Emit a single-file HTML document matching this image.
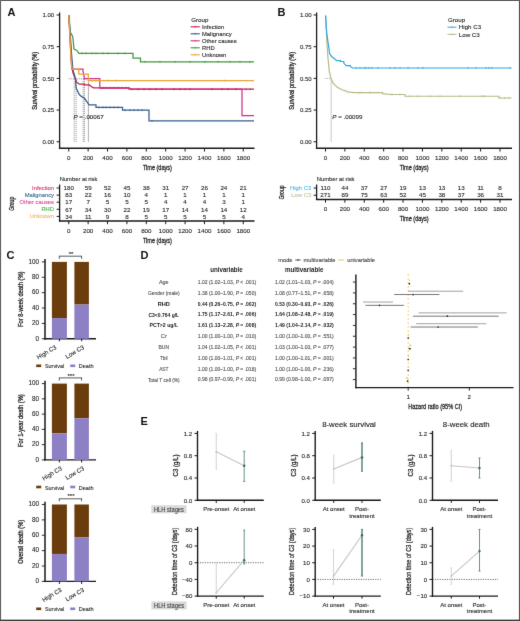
<!DOCTYPE html>
<html><head><meta charset="utf-8"><title>Figure</title>
<style>html,body{margin:0;padding:0;background:#fff;}body{width:520px;height:621px;overflow:hidden;font-family:"Liberation Sans", sans-serif;}svg{display:block;will-change:transform;}text{font-family:"Liberation Sans", sans-serif;}</style>
</head><body>
<svg width="520" height="621" viewBox="0 0 520 621" font-family='"Liberation Sans", sans-serif'>
<defs><filter id="soft" x="0" y="0" width="520" height="621" filterUnits="userSpaceOnUse" color-interpolation-filters="sRGB"><feConvolveMatrix order="3" kernelMatrix="0.00524 0.06192 0.00524 0.06192 0.73137 0.06192 0.00524 0.06192 0.00524" edgeMode="duplicate"/></filter></defs><g>
<text x="7.50" y="15.76" font-size="11" fill="#111" font-weight="bold">A</text>
<line x1="59.60" y1="12.50" x2="59.60" y2="148.90" stroke="#1a1a1a" stroke-width="1.3"/>
<line x1="58.95" y1="148.25" x2="254.50" y2="148.25" stroke="#1a1a1a" stroke-width="1.3"/>
<line x1="56.60" y1="15.00" x2="59.60" y2="15.00" stroke="#1a1a1a" stroke-width="1"/>
<text x="54.20" y="17.16" font-size="6" fill="#2a2a2a" stroke="#2a2a2a" stroke-width="0.12" text-anchor="end">1.00</text>
<line x1="56.60" y1="46.69" x2="59.60" y2="46.69" stroke="#1a1a1a" stroke-width="1"/>
<text x="54.20" y="48.85" font-size="6" fill="#2a2a2a" stroke="#2a2a2a" stroke-width="0.12" text-anchor="end">0.75</text>
<line x1="56.60" y1="78.38" x2="59.60" y2="78.38" stroke="#1a1a1a" stroke-width="1"/>
<text x="54.20" y="80.53" font-size="6" fill="#2a2a2a" stroke="#2a2a2a" stroke-width="0.12" text-anchor="end">0.50</text>
<line x1="56.60" y1="110.06" x2="59.60" y2="110.06" stroke="#1a1a1a" stroke-width="1"/>
<text x="54.20" y="112.22" font-size="6" fill="#2a2a2a" stroke="#2a2a2a" stroke-width="0.12" text-anchor="end">0.25</text>
<line x1="56.60" y1="141.75" x2="59.60" y2="141.75" stroke="#1a1a1a" stroke-width="1"/>
<text x="54.20" y="143.91" font-size="6" fill="#2a2a2a" stroke="#2a2a2a" stroke-width="0.12" text-anchor="end">0.00</text>
<line x1="68.75" y1="148.25" x2="68.75" y2="151.50" stroke="#1a1a1a" stroke-width="1"/>
<text x="68.75" y="159.83" font-size="6.2" fill="#2a2a2a" stroke="#2a2a2a" stroke-width="0.12" text-anchor="middle">0</text>
<line x1="88.14" y1="148.25" x2="88.14" y2="151.50" stroke="#1a1a1a" stroke-width="1"/>
<text x="88.14" y="159.83" font-size="6.2" fill="#2a2a2a" stroke="#2a2a2a" stroke-width="0.12" text-anchor="middle">200</text>
<line x1="107.53" y1="148.25" x2="107.53" y2="151.50" stroke="#1a1a1a" stroke-width="1"/>
<text x="107.53" y="159.83" font-size="6.2" fill="#2a2a2a" stroke="#2a2a2a" stroke-width="0.12" text-anchor="middle">400</text>
<line x1="126.92" y1="148.25" x2="126.92" y2="151.50" stroke="#1a1a1a" stroke-width="1"/>
<text x="126.92" y="159.83" font-size="6.2" fill="#2a2a2a" stroke="#2a2a2a" stroke-width="0.12" text-anchor="middle">600</text>
<line x1="146.31" y1="148.25" x2="146.31" y2="151.50" stroke="#1a1a1a" stroke-width="1"/>
<text x="146.31" y="159.83" font-size="6.2" fill="#2a2a2a" stroke="#2a2a2a" stroke-width="0.12" text-anchor="middle">800</text>
<line x1="165.70" y1="148.25" x2="165.70" y2="151.50" stroke="#1a1a1a" stroke-width="1"/>
<text x="165.70" y="159.83" font-size="6.2" fill="#2a2a2a" stroke="#2a2a2a" stroke-width="0.12" text-anchor="middle">1000</text>
<line x1="185.09" y1="148.25" x2="185.09" y2="151.50" stroke="#1a1a1a" stroke-width="1"/>
<text x="185.09" y="159.83" font-size="6.2" fill="#2a2a2a" stroke="#2a2a2a" stroke-width="0.12" text-anchor="middle">1200</text>
<line x1="204.48" y1="148.25" x2="204.48" y2="151.50" stroke="#1a1a1a" stroke-width="1"/>
<text x="204.48" y="159.83" font-size="6.2" fill="#2a2a2a" stroke="#2a2a2a" stroke-width="0.12" text-anchor="middle">1400</text>
<line x1="223.87" y1="148.25" x2="223.87" y2="151.50" stroke="#1a1a1a" stroke-width="1"/>
<text x="223.87" y="159.83" font-size="6.2" fill="#2a2a2a" stroke="#2a2a2a" stroke-width="0.12" text-anchor="middle">1600</text>
<line x1="243.26" y1="148.25" x2="243.26" y2="151.50" stroke="#1a1a1a" stroke-width="1"/>
<text x="243.26" y="159.83" font-size="6.2" fill="#2a2a2a" stroke="#2a2a2a" stroke-width="0.12" text-anchor="middle">1800</text>
<text x="157.40" y="170.39" font-size="7.2" fill="#2a2a2a" stroke="#2a2a2a" stroke-width="0.3" text-anchor="middle" textLength="29" lengthAdjust="spacingAndGlyphs">Time (days)</text>
<text transform="translate(34.50,80.80) rotate(-90)" x="0" y="2.38" font-size="6.6" fill="#2a2a2a" stroke="#2a2a2a" stroke-width="0.3" text-anchor="middle" textLength="58" lengthAdjust="spacingAndGlyphs">Survival probability (%)</text>
<text x="191.20" y="21.53" font-size="6.2" fill="#2a2a2a" stroke="#2a2a2a" stroke-width="0.12">Group</text>
<line x1="190.60" y1="26.80" x2="199.80" y2="26.80" stroke="#C62048" stroke-width="1.1"/>
<line x1="195.20" y1="25.80" x2="195.20" y2="27.80" stroke="#C62048" stroke-width="0.6"/>
<text x="202.00" y="28.91" font-size="5.85" fill="#2a2a2a" stroke="#2a2a2a" stroke-width="0.12">Infection</text>
<line x1="190.60" y1="33.80" x2="199.80" y2="33.80" stroke="#365F8E" stroke-width="1.1"/>
<line x1="195.20" y1="32.80" x2="195.20" y2="34.80" stroke="#365F8E" stroke-width="0.6"/>
<text x="202.00" y="35.91" font-size="5.85" fill="#2a2a2a" stroke="#2a2a2a" stroke-width="0.12">Malignancy</text>
<line x1="190.60" y1="40.80" x2="199.80" y2="40.80" stroke="#CF3288" stroke-width="1.1"/>
<line x1="195.20" y1="39.80" x2="195.20" y2="41.80" stroke="#CF3288" stroke-width="0.6"/>
<text x="202.00" y="42.91" font-size="5.85" fill="#2a2a2a" stroke="#2a2a2a" stroke-width="0.12">Other causes</text>
<line x1="190.60" y1="47.80" x2="199.80" y2="47.80" stroke="#3F9A40" stroke-width="1.1"/>
<line x1="195.20" y1="46.80" x2="195.20" y2="48.80" stroke="#3F9A40" stroke-width="0.6"/>
<text x="202.00" y="49.91" font-size="5.85" fill="#2a2a2a" stroke="#2a2a2a" stroke-width="0.12">RHD</text>
<line x1="190.60" y1="54.80" x2="199.80" y2="54.80" stroke="#E8A53A" stroke-width="1.1"/>
<line x1="195.20" y1="53.80" x2="195.20" y2="55.80" stroke="#E8A53A" stroke-width="0.6"/>
<text x="202.00" y="56.91" font-size="5.85" fill="#2a2a2a" stroke="#2a2a2a" stroke-width="0.12">Unknown</text>
<line x1="68.75" y1="78.80" x2="88.40" y2="78.80" stroke="#444" stroke-width="0.6" stroke-dasharray="1,1"/>
<line x1="74.20" y1="78.80" x2="74.20" y2="141.75" stroke="#444" stroke-width="0.6" stroke-dasharray="1,1"/>
<line x1="76.10" y1="78.80" x2="76.10" y2="141.75" stroke="#444" stroke-width="0.6" stroke-dasharray="1,1"/>
<line x1="83.20" y1="78.80" x2="83.20" y2="141.75" stroke="#444" stroke-width="0.6" stroke-dasharray="1,1"/>
<line x1="84.40" y1="78.80" x2="84.40" y2="141.75" stroke="#444" stroke-width="0.6" stroke-dasharray="1,1"/>
<line x1="88.40" y1="78.80" x2="88.40" y2="141.75" stroke="#777" stroke-width="0.6"/>
<text x="73.50" y="119.23" font-size="6.2" fill="#2a2a2a" stroke="#2a2a2a" stroke-width="0.12"><tspan font-style="italic">P</tspan> = .00067</text>
<polyline points="68.75,15.00 69.60,28.00 70.30,40.00 70.90,52.00 71.60,62.00 72.20,68.50 72.90,72.60 74.50,77.00 76.70,82.20 79.30,84.20 84.50,84.20 84.50,84.80 89.60,84.80 89.60,85.50 93.50,87.90 129.20,87.90 129.20,89.20 254.00,89.20 254.00,89.20" fill="none" stroke="#C62048" stroke-width="1.25" stroke-linejoin="miter"/>
<polyline points="68.75,15.00 69.80,28.00 70.60,40.00 71.40,52.00 72.20,62.00 72.90,70.00 75.50,78.40 76.10,88.00 79.30,94.50 81.30,96.40 84.50,98.30 87.70,102.90 89.00,104.80 96.00,104.80 96.00,107.40 122.50,107.40 122.50,110.00 149.00,110.00 149.00,120.90 254.00,120.90 254.00,120.90" fill="none" stroke="#365F8E" stroke-width="1.25" stroke-linejoin="miter"/>
<polyline points="68.75,15.00 69.50,28.00 70.20,42.00 70.90,55.00 71.70,69.20 83.00,69.20 83.00,71.20 84.50,78.60 99.80,78.60 99.80,88.00 129.20,88.00 129.20,89.10 242.00,89.10 242.00,115.50 254.00,115.50 254.00,115.50" fill="none" stroke="#CF3288" stroke-width="1.25" stroke-linejoin="miter"/>
<polyline points="68.75,15.00 69.50,22.00 70.00,32.00 71.50,34.00 72.80,37.00 73.50,44.00 74.00,49.00 76.80,50.40 78.80,53.30 133.00,53.30 133.00,58.00 140.50,58.00 140.50,61.90 254.00,61.90 254.00,61.90" fill="none" stroke="#3F9A40" stroke-width="1.25" stroke-linejoin="miter"/>
<polyline points="68.75,15.00 69.30,25.00 69.90,38.00 70.60,52.00 71.30,62.00 72.00,69.20 78.80,69.20 78.80,74.00 88.30,74.00 88.30,80.60 254.00,80.60 254.00,80.60" fill="none" stroke="#E8A53A" stroke-width="1.25" stroke-linejoin="miter"/>
<line x1="82.00" y1="52.20" x2="82.00" y2="54.40" stroke="#3F9A40" stroke-width="0.7"/>
<line x1="86.00" y1="52.20" x2="86.00" y2="54.40" stroke="#3F9A40" stroke-width="0.7"/>
<line x1="92.00" y1="52.20" x2="92.00" y2="54.40" stroke="#3F9A40" stroke-width="0.7"/>
<line x1="96.00" y1="52.20" x2="96.00" y2="54.40" stroke="#3F9A40" stroke-width="0.7"/>
<line x1="103.00" y1="52.20" x2="103.00" y2="54.40" stroke="#3F9A40" stroke-width="0.7"/>
<line x1="108.00" y1="52.20" x2="108.00" y2="54.40" stroke="#3F9A40" stroke-width="0.7"/>
<line x1="118.00" y1="52.20" x2="118.00" y2="54.40" stroke="#3F9A40" stroke-width="0.7"/>
<line x1="125.00" y1="52.20" x2="125.00" y2="54.40" stroke="#3F9A40" stroke-width="0.7"/>
<line x1="145.00" y1="60.80" x2="145.00" y2="63.00" stroke="#3F9A40" stroke-width="0.7"/>
<line x1="160.00" y1="60.80" x2="160.00" y2="63.00" stroke="#3F9A40" stroke-width="0.7"/>
<line x1="175.00" y1="60.80" x2="175.00" y2="63.00" stroke="#3F9A40" stroke-width="0.7"/>
<line x1="190.00" y1="60.80" x2="190.00" y2="63.00" stroke="#3F9A40" stroke-width="0.7"/>
<line x1="205.00" y1="60.80" x2="205.00" y2="63.00" stroke="#3F9A40" stroke-width="0.7"/>
<line x1="218.00" y1="60.80" x2="218.00" y2="63.00" stroke="#3F9A40" stroke-width="0.7"/>
<line x1="230.00" y1="60.80" x2="230.00" y2="63.00" stroke="#3F9A40" stroke-width="0.7"/>
<line x1="240.00" y1="60.80" x2="240.00" y2="63.00" stroke="#3F9A40" stroke-width="0.7"/>
<line x1="250.00" y1="60.80" x2="250.00" y2="63.00" stroke="#3F9A40" stroke-width="0.7"/>
<line x1="92.00" y1="79.50" x2="92.00" y2="81.70" stroke="#E8A53A" stroke-width="0.7"/>
<line x1="96.00" y1="79.50" x2="96.00" y2="81.70" stroke="#E8A53A" stroke-width="0.7"/>
<line x1="100.00" y1="79.50" x2="100.00" y2="81.70" stroke="#E8A53A" stroke-width="0.7"/>
<line x1="108.00" y1="79.50" x2="108.00" y2="81.70" stroke="#E8A53A" stroke-width="0.7"/>
<line x1="116.00" y1="79.50" x2="116.00" y2="81.70" stroke="#E8A53A" stroke-width="0.7"/>
<line x1="225.00" y1="79.50" x2="225.00" y2="81.70" stroke="#E8A53A" stroke-width="0.7"/>
<line x1="103.00" y1="86.80" x2="103.00" y2="89.00" stroke="#C62048" stroke-width="0.7"/>
<line x1="106.00" y1="86.80" x2="106.00" y2="89.00" stroke="#C62048" stroke-width="0.7"/>
<line x1="110.00" y1="86.80" x2="110.00" y2="89.00" stroke="#C62048" stroke-width="0.7"/>
<line x1="114.00" y1="86.80" x2="114.00" y2="89.00" stroke="#C62048" stroke-width="0.7"/>
<line x1="118.00" y1="86.80" x2="118.00" y2="89.00" stroke="#C62048" stroke-width="0.7"/>
<line x1="122.00" y1="86.80" x2="122.00" y2="89.00" stroke="#C62048" stroke-width="0.7"/>
<line x1="126.00" y1="86.80" x2="126.00" y2="89.00" stroke="#C62048" stroke-width="0.7"/>
<line x1="132.00" y1="88.10" x2="132.00" y2="90.30" stroke="#C62048" stroke-width="0.7"/>
<line x1="138.00" y1="88.10" x2="138.00" y2="90.30" stroke="#C62048" stroke-width="0.7"/>
<line x1="144.00" y1="88.10" x2="144.00" y2="90.30" stroke="#C62048" stroke-width="0.7"/>
<line x1="150.00" y1="88.10" x2="150.00" y2="90.30" stroke="#C62048" stroke-width="0.7"/>
<line x1="156.00" y1="88.10" x2="156.00" y2="90.30" stroke="#C62048" stroke-width="0.7"/>
<line x1="162.00" y1="88.10" x2="162.00" y2="90.30" stroke="#C62048" stroke-width="0.7"/>
<line x1="174.00" y1="88.10" x2="174.00" y2="90.30" stroke="#C62048" stroke-width="0.7"/>
<line x1="180.00" y1="88.10" x2="180.00" y2="90.30" stroke="#C62048" stroke-width="0.7"/>
<line x1="185.00" y1="88.10" x2="185.00" y2="90.30" stroke="#C62048" stroke-width="0.7"/>
<line x1="190.00" y1="88.10" x2="190.00" y2="90.30" stroke="#C62048" stroke-width="0.7"/>
<line x1="212.00" y1="88.10" x2="212.00" y2="90.30" stroke="#C62048" stroke-width="0.7"/>
<line x1="222.00" y1="88.10" x2="222.00" y2="90.30" stroke="#C62048" stroke-width="0.7"/>
<line x1="228.00" y1="88.10" x2="228.00" y2="90.30" stroke="#C62048" stroke-width="0.7"/>
<line x1="236.00" y1="88.10" x2="236.00" y2="90.30" stroke="#C62048" stroke-width="0.7"/>
<line x1="246.00" y1="88.10" x2="246.00" y2="90.30" stroke="#C62048" stroke-width="0.7"/>
<line x1="250.00" y1="88.10" x2="250.00" y2="90.30" stroke="#C62048" stroke-width="0.7"/>
<line x1="102.00" y1="86.90" x2="102.00" y2="89.10" stroke="#CF3288" stroke-width="0.7"/>
<line x1="112.00" y1="86.90" x2="112.00" y2="89.10" stroke="#CF3288" stroke-width="0.7"/>
<line x1="99.00" y1="106.30" x2="99.00" y2="108.50" stroke="#365F8E" stroke-width="0.7"/>
<line x1="103.00" y1="106.30" x2="103.00" y2="108.50" stroke="#365F8E" stroke-width="0.7"/>
<line x1="106.00" y1="106.30" x2="106.00" y2="108.50" stroke="#365F8E" stroke-width="0.7"/>
<line x1="110.00" y1="106.30" x2="110.00" y2="108.50" stroke="#365F8E" stroke-width="0.7"/>
<line x1="114.00" y1="106.30" x2="114.00" y2="108.50" stroke="#365F8E" stroke-width="0.7"/>
<line x1="118.00" y1="106.30" x2="118.00" y2="108.50" stroke="#365F8E" stroke-width="0.7"/>
<line x1="125.00" y1="108.90" x2="125.00" y2="111.10" stroke="#365F8E" stroke-width="0.7"/>
<line x1="130.00" y1="108.90" x2="130.00" y2="111.10" stroke="#365F8E" stroke-width="0.7"/>
<line x1="134.00" y1="108.90" x2="134.00" y2="111.10" stroke="#365F8E" stroke-width="0.7"/>
<line x1="138.00" y1="108.90" x2="138.00" y2="111.10" stroke="#365F8E" stroke-width="0.7"/>
<line x1="142.00" y1="108.90" x2="142.00" y2="111.10" stroke="#365F8E" stroke-width="0.7"/>
<line x1="152.00" y1="119.80" x2="152.00" y2="122.00" stroke="#365F8E" stroke-width="0.7"/>
<text x="59.70" y="180.73" font-size="6.2" fill="#2a2a2a" stroke="#2a2a2a" stroke-width="0.12" textLength="37.7" lengthAdjust="spacingAndGlyphs">Number at risk</text>
<line x1="59.60" y1="184.50" x2="59.60" y2="221.60" stroke="#1a1a1a" stroke-width="1.3"/>
<line x1="58.95" y1="221.00" x2="254.50" y2="221.00" stroke="#1a1a1a" stroke-width="1.3"/>
<text x="54.00" y="190.09" font-size="5.8" fill="#D43D65" stroke="#D43D65" stroke-width="0.12" text-anchor="end">Infection</text>
<line x1="56.60" y1="188.00" x2="59.60" y2="188.00" stroke="#1a1a1a" stroke-width="1"/>
<text x="68.75" y="190.23" font-size="6.2" fill="#2a2a2a" stroke="#2a2a2a" stroke-width="0.12" text-anchor="middle">180</text>
<text x="88.14" y="190.23" font-size="6.2" fill="#2a2a2a" stroke="#2a2a2a" stroke-width="0.12" text-anchor="middle">59</text>
<text x="107.53" y="190.23" font-size="6.2" fill="#2a2a2a" stroke="#2a2a2a" stroke-width="0.12" text-anchor="middle">52</text>
<text x="126.92" y="190.23" font-size="6.2" fill="#2a2a2a" stroke="#2a2a2a" stroke-width="0.12" text-anchor="middle">45</text>
<text x="146.31" y="190.23" font-size="6.2" fill="#2a2a2a" stroke="#2a2a2a" stroke-width="0.12" text-anchor="middle">38</text>
<text x="165.70" y="190.23" font-size="6.2" fill="#2a2a2a" stroke="#2a2a2a" stroke-width="0.12" text-anchor="middle">31</text>
<text x="185.09" y="190.23" font-size="6.2" fill="#2a2a2a" stroke="#2a2a2a" stroke-width="0.12" text-anchor="middle">27</text>
<text x="204.48" y="190.23" font-size="6.2" fill="#2a2a2a" stroke="#2a2a2a" stroke-width="0.12" text-anchor="middle">26</text>
<text x="223.87" y="190.23" font-size="6.2" fill="#2a2a2a" stroke="#2a2a2a" stroke-width="0.12" text-anchor="middle">24</text>
<text x="243.26" y="190.23" font-size="6.2" fill="#2a2a2a" stroke="#2a2a2a" stroke-width="0.12" text-anchor="middle">21</text>
<text x="54.00" y="197.19" font-size="5.8" fill="#3F6D92" stroke="#3F6D92" stroke-width="0.12" text-anchor="end">Malignancy</text>
<line x1="56.60" y1="195.10" x2="59.60" y2="195.10" stroke="#1a1a1a" stroke-width="1"/>
<text x="68.75" y="197.33" font-size="6.2" fill="#2a2a2a" stroke="#2a2a2a" stroke-width="0.12" text-anchor="middle">83</text>
<text x="88.14" y="197.33" font-size="6.2" fill="#2a2a2a" stroke="#2a2a2a" stroke-width="0.12" text-anchor="middle">22</text>
<text x="107.53" y="197.33" font-size="6.2" fill="#2a2a2a" stroke="#2a2a2a" stroke-width="0.12" text-anchor="middle">16</text>
<text x="126.92" y="197.33" font-size="6.2" fill="#2a2a2a" stroke="#2a2a2a" stroke-width="0.12" text-anchor="middle">10</text>
<text x="146.31" y="197.33" font-size="6.2" fill="#2a2a2a" stroke="#2a2a2a" stroke-width="0.12" text-anchor="middle">4</text>
<text x="165.70" y="197.33" font-size="6.2" fill="#2a2a2a" stroke="#2a2a2a" stroke-width="0.12" text-anchor="middle">1</text>
<text x="185.09" y="197.33" font-size="6.2" fill="#2a2a2a" stroke="#2a2a2a" stroke-width="0.12" text-anchor="middle">1</text>
<text x="204.48" y="197.33" font-size="6.2" fill="#2a2a2a" stroke="#2a2a2a" stroke-width="0.12" text-anchor="middle">1</text>
<text x="223.87" y="197.33" font-size="6.2" fill="#2a2a2a" stroke="#2a2a2a" stroke-width="0.12" text-anchor="middle">1</text>
<text x="243.26" y="197.33" font-size="6.2" fill="#2a2a2a" stroke="#2a2a2a" stroke-width="0.12" text-anchor="middle">1</text>
<text x="54.00" y="204.29" font-size="5.8" fill="#DC4C9C" stroke="#DC4C9C" stroke-width="0.12" text-anchor="end">Other causes</text>
<line x1="56.60" y1="202.20" x2="59.60" y2="202.20" stroke="#1a1a1a" stroke-width="1"/>
<text x="68.75" y="204.43" font-size="6.2" fill="#2a2a2a" stroke="#2a2a2a" stroke-width="0.12" text-anchor="middle">17</text>
<text x="88.14" y="204.43" font-size="6.2" fill="#2a2a2a" stroke="#2a2a2a" stroke-width="0.12" text-anchor="middle">7</text>
<text x="107.53" y="204.43" font-size="6.2" fill="#2a2a2a" stroke="#2a2a2a" stroke-width="0.12" text-anchor="middle">5</text>
<text x="126.92" y="204.43" font-size="6.2" fill="#2a2a2a" stroke="#2a2a2a" stroke-width="0.12" text-anchor="middle">5</text>
<text x="146.31" y="204.43" font-size="6.2" fill="#2a2a2a" stroke="#2a2a2a" stroke-width="0.12" text-anchor="middle">5</text>
<text x="165.70" y="204.43" font-size="6.2" fill="#2a2a2a" stroke="#2a2a2a" stroke-width="0.12" text-anchor="middle">4</text>
<text x="185.09" y="204.43" font-size="6.2" fill="#2a2a2a" stroke="#2a2a2a" stroke-width="0.12" text-anchor="middle">4</text>
<text x="204.48" y="204.43" font-size="6.2" fill="#2a2a2a" stroke="#2a2a2a" stroke-width="0.12" text-anchor="middle">4</text>
<text x="223.87" y="204.43" font-size="6.2" fill="#2a2a2a" stroke="#2a2a2a" stroke-width="0.12" text-anchor="middle">3</text>
<text x="243.26" y="204.43" font-size="6.2" fill="#2a2a2a" stroke="#2a2a2a" stroke-width="0.12" text-anchor="middle">1</text>
<text x="54.00" y="211.39" font-size="5.8" fill="#55B055" stroke="#55B055" stroke-width="0.12" text-anchor="end">RHD</text>
<line x1="56.60" y1="209.30" x2="59.60" y2="209.30" stroke="#1a1a1a" stroke-width="1"/>
<text x="68.75" y="211.53" font-size="6.2" fill="#2a2a2a" stroke="#2a2a2a" stroke-width="0.12" text-anchor="middle">67</text>
<text x="88.14" y="211.53" font-size="6.2" fill="#2a2a2a" stroke="#2a2a2a" stroke-width="0.12" text-anchor="middle">34</text>
<text x="107.53" y="211.53" font-size="6.2" fill="#2a2a2a" stroke="#2a2a2a" stroke-width="0.12" text-anchor="middle">30</text>
<text x="126.92" y="211.53" font-size="6.2" fill="#2a2a2a" stroke="#2a2a2a" stroke-width="0.12" text-anchor="middle">22</text>
<text x="146.31" y="211.53" font-size="6.2" fill="#2a2a2a" stroke="#2a2a2a" stroke-width="0.12" text-anchor="middle">19</text>
<text x="165.70" y="211.53" font-size="6.2" fill="#2a2a2a" stroke="#2a2a2a" stroke-width="0.12" text-anchor="middle">17</text>
<text x="185.09" y="211.53" font-size="6.2" fill="#2a2a2a" stroke="#2a2a2a" stroke-width="0.12" text-anchor="middle">14</text>
<text x="204.48" y="211.53" font-size="6.2" fill="#2a2a2a" stroke="#2a2a2a" stroke-width="0.12" text-anchor="middle">14</text>
<text x="223.87" y="211.53" font-size="6.2" fill="#2a2a2a" stroke="#2a2a2a" stroke-width="0.12" text-anchor="middle">14</text>
<text x="243.26" y="211.53" font-size="6.2" fill="#2a2a2a" stroke="#2a2a2a" stroke-width="0.12" text-anchor="middle">12</text>
<text x="54.00" y="218.49" font-size="5.8" fill="#EDB865" stroke="#EDB865" stroke-width="0.12" text-anchor="end">Unknown</text>
<line x1="56.60" y1="216.40" x2="59.60" y2="216.40" stroke="#1a1a1a" stroke-width="1"/>
<text x="68.75" y="218.63" font-size="6.2" fill="#2a2a2a" stroke="#2a2a2a" stroke-width="0.12" text-anchor="middle">34</text>
<text x="88.14" y="218.63" font-size="6.2" fill="#2a2a2a" stroke="#2a2a2a" stroke-width="0.12" text-anchor="middle">11</text>
<text x="107.53" y="218.63" font-size="6.2" fill="#2a2a2a" stroke="#2a2a2a" stroke-width="0.12" text-anchor="middle">9</text>
<text x="126.92" y="218.63" font-size="6.2" fill="#2a2a2a" stroke="#2a2a2a" stroke-width="0.12" text-anchor="middle">8</text>
<text x="146.31" y="218.63" font-size="6.2" fill="#2a2a2a" stroke="#2a2a2a" stroke-width="0.12" text-anchor="middle">5</text>
<text x="165.70" y="218.63" font-size="6.2" fill="#2a2a2a" stroke="#2a2a2a" stroke-width="0.12" text-anchor="middle">5</text>
<text x="185.09" y="218.63" font-size="6.2" fill="#2a2a2a" stroke="#2a2a2a" stroke-width="0.12" text-anchor="middle">5</text>
<text x="204.48" y="218.63" font-size="6.2" fill="#2a2a2a" stroke="#2a2a2a" stroke-width="0.12" text-anchor="middle">5</text>
<text x="223.87" y="218.63" font-size="6.2" fill="#2a2a2a" stroke="#2a2a2a" stroke-width="0.12" text-anchor="middle">5</text>
<text x="243.26" y="218.63" font-size="6.2" fill="#2a2a2a" stroke="#2a2a2a" stroke-width="0.12" text-anchor="middle">4</text>
<line x1="68.75" y1="221.00" x2="68.75" y2="224.20" stroke="#1a1a1a" stroke-width="1"/>
<text x="68.75" y="232.83" font-size="6.2" fill="#2a2a2a" stroke="#2a2a2a" stroke-width="0.12" text-anchor="middle">0</text>
<line x1="88.14" y1="221.00" x2="88.14" y2="224.20" stroke="#1a1a1a" stroke-width="1"/>
<text x="88.14" y="232.83" font-size="6.2" fill="#2a2a2a" stroke="#2a2a2a" stroke-width="0.12" text-anchor="middle">200</text>
<line x1="107.53" y1="221.00" x2="107.53" y2="224.20" stroke="#1a1a1a" stroke-width="1"/>
<text x="107.53" y="232.83" font-size="6.2" fill="#2a2a2a" stroke="#2a2a2a" stroke-width="0.12" text-anchor="middle">400</text>
<line x1="126.92" y1="221.00" x2="126.92" y2="224.20" stroke="#1a1a1a" stroke-width="1"/>
<text x="126.92" y="232.83" font-size="6.2" fill="#2a2a2a" stroke="#2a2a2a" stroke-width="0.12" text-anchor="middle">600</text>
<line x1="146.31" y1="221.00" x2="146.31" y2="224.20" stroke="#1a1a1a" stroke-width="1"/>
<text x="146.31" y="232.83" font-size="6.2" fill="#2a2a2a" stroke="#2a2a2a" stroke-width="0.12" text-anchor="middle">800</text>
<line x1="165.70" y1="221.00" x2="165.70" y2="224.20" stroke="#1a1a1a" stroke-width="1"/>
<text x="165.70" y="232.83" font-size="6.2" fill="#2a2a2a" stroke="#2a2a2a" stroke-width="0.12" text-anchor="middle">1000</text>
<line x1="185.09" y1="221.00" x2="185.09" y2="224.20" stroke="#1a1a1a" stroke-width="1"/>
<text x="185.09" y="232.83" font-size="6.2" fill="#2a2a2a" stroke="#2a2a2a" stroke-width="0.12" text-anchor="middle">1200</text>
<line x1="204.48" y1="221.00" x2="204.48" y2="224.20" stroke="#1a1a1a" stroke-width="1"/>
<text x="204.48" y="232.83" font-size="6.2" fill="#2a2a2a" stroke="#2a2a2a" stroke-width="0.12" text-anchor="middle">1400</text>
<line x1="223.87" y1="221.00" x2="223.87" y2="224.20" stroke="#1a1a1a" stroke-width="1"/>
<text x="223.87" y="232.83" font-size="6.2" fill="#2a2a2a" stroke="#2a2a2a" stroke-width="0.12" text-anchor="middle">1600</text>
<line x1="243.26" y1="221.00" x2="243.26" y2="224.20" stroke="#1a1a1a" stroke-width="1"/>
<text x="243.26" y="232.83" font-size="6.2" fill="#2a2a2a" stroke="#2a2a2a" stroke-width="0.12" text-anchor="middle">1800</text>
<text x="157.40" y="242.89" font-size="7.2" fill="#2a2a2a" stroke="#2a2a2a" stroke-width="0.3" text-anchor="middle" textLength="29" lengthAdjust="spacingAndGlyphs">Time (days)</text>
<text transform="translate(11.50,203.80) rotate(-90)" x="0" y="2.59" font-size="7.2" fill="#2a2a2a" stroke="#2a2a2a" stroke-width="0.3" text-anchor="middle" textLength="14" lengthAdjust="spacingAndGlyphs">Group</text>
<text x="277.50" y="15.76" font-size="11" fill="#111" font-weight="bold">B</text>
<line x1="316.60" y1="12.50" x2="316.60" y2="148.90" stroke="#1a1a1a" stroke-width="1.3"/>
<line x1="315.95" y1="148.25" x2="512.00" y2="148.25" stroke="#1a1a1a" stroke-width="1.3"/>
<line x1="313.60" y1="15.00" x2="316.60" y2="15.00" stroke="#1a1a1a" stroke-width="1"/>
<text x="311.60" y="17.16" font-size="6" fill="#2a2a2a" stroke="#2a2a2a" stroke-width="0.12" text-anchor="end">1.00</text>
<line x1="313.60" y1="46.69" x2="316.60" y2="46.69" stroke="#1a1a1a" stroke-width="1"/>
<text x="311.60" y="48.85" font-size="6" fill="#2a2a2a" stroke="#2a2a2a" stroke-width="0.12" text-anchor="end">0.75</text>
<line x1="313.60" y1="78.38" x2="316.60" y2="78.38" stroke="#1a1a1a" stroke-width="1"/>
<text x="311.60" y="80.53" font-size="6" fill="#2a2a2a" stroke="#2a2a2a" stroke-width="0.12" text-anchor="end">0.50</text>
<line x1="313.60" y1="110.06" x2="316.60" y2="110.06" stroke="#1a1a1a" stroke-width="1"/>
<text x="311.60" y="112.22" font-size="6" fill="#2a2a2a" stroke="#2a2a2a" stroke-width="0.12" text-anchor="end">0.25</text>
<line x1="313.60" y1="141.75" x2="316.60" y2="141.75" stroke="#1a1a1a" stroke-width="1"/>
<text x="311.60" y="143.91" font-size="6" fill="#2a2a2a" stroke="#2a2a2a" stroke-width="0.12" text-anchor="end">0.00</text>
<line x1="325.50" y1="148.25" x2="325.50" y2="151.50" stroke="#1a1a1a" stroke-width="1"/>
<text x="325.50" y="159.83" font-size="6.2" fill="#2a2a2a" stroke="#2a2a2a" stroke-width="0.12" text-anchor="middle">0</text>
<line x1="344.89" y1="148.25" x2="344.89" y2="151.50" stroke="#1a1a1a" stroke-width="1"/>
<text x="344.89" y="159.83" font-size="6.2" fill="#2a2a2a" stroke="#2a2a2a" stroke-width="0.12" text-anchor="middle">200</text>
<line x1="364.28" y1="148.25" x2="364.28" y2="151.50" stroke="#1a1a1a" stroke-width="1"/>
<text x="364.28" y="159.83" font-size="6.2" fill="#2a2a2a" stroke="#2a2a2a" stroke-width="0.12" text-anchor="middle">400</text>
<line x1="383.67" y1="148.25" x2="383.67" y2="151.50" stroke="#1a1a1a" stroke-width="1"/>
<text x="383.67" y="159.83" font-size="6.2" fill="#2a2a2a" stroke="#2a2a2a" stroke-width="0.12" text-anchor="middle">600</text>
<line x1="403.06" y1="148.25" x2="403.06" y2="151.50" stroke="#1a1a1a" stroke-width="1"/>
<text x="403.06" y="159.83" font-size="6.2" fill="#2a2a2a" stroke="#2a2a2a" stroke-width="0.12" text-anchor="middle">800</text>
<line x1="422.45" y1="148.25" x2="422.45" y2="151.50" stroke="#1a1a1a" stroke-width="1"/>
<text x="422.45" y="159.83" font-size="6.2" fill="#2a2a2a" stroke="#2a2a2a" stroke-width="0.12" text-anchor="middle">1000</text>
<line x1="441.84" y1="148.25" x2="441.84" y2="151.50" stroke="#1a1a1a" stroke-width="1"/>
<text x="441.84" y="159.83" font-size="6.2" fill="#2a2a2a" stroke="#2a2a2a" stroke-width="0.12" text-anchor="middle">1200</text>
<line x1="461.23" y1="148.25" x2="461.23" y2="151.50" stroke="#1a1a1a" stroke-width="1"/>
<text x="461.23" y="159.83" font-size="6.2" fill="#2a2a2a" stroke="#2a2a2a" stroke-width="0.12" text-anchor="middle">1400</text>
<line x1="480.62" y1="148.25" x2="480.62" y2="151.50" stroke="#1a1a1a" stroke-width="1"/>
<text x="480.62" y="159.83" font-size="6.2" fill="#2a2a2a" stroke="#2a2a2a" stroke-width="0.12" text-anchor="middle">1600</text>
<line x1="500.01" y1="148.25" x2="500.01" y2="151.50" stroke="#1a1a1a" stroke-width="1"/>
<text x="500.01" y="159.83" font-size="6.2" fill="#2a2a2a" stroke="#2a2a2a" stroke-width="0.12" text-anchor="middle">1800</text>
<text x="414.20" y="170.39" font-size="7.2" fill="#2a2a2a" stroke="#2a2a2a" stroke-width="0.3" text-anchor="middle" textLength="29" lengthAdjust="spacingAndGlyphs">Time (days)</text>
<text transform="translate(291.30,80.80) rotate(-90)" x="0" y="2.38" font-size="6.6" fill="#2a2a2a" stroke="#2a2a2a" stroke-width="0.3" text-anchor="middle" textLength="58" lengthAdjust="spacingAndGlyphs">Survival probability (%)</text>
<text x="448.00" y="21.83" font-size="6.2" fill="#2a2a2a" stroke="#2a2a2a" stroke-width="0.12">Group</text>
<line x1="447.50" y1="27.20" x2="456.50" y2="27.20" stroke="#2BA8DF" stroke-width="1"/>
<line x1="452.00" y1="26.20" x2="452.00" y2="28.20" stroke="#2BA8DF" stroke-width="0.6"/>
<text x="458.80" y="29.43" font-size="6.2" fill="#2a2a2a" stroke="#2a2a2a" stroke-width="0.12">High C3</text>
<line x1="447.50" y1="34.30" x2="456.50" y2="34.30" stroke="#B8B885" stroke-width="1"/>
<line x1="452.00" y1="33.30" x2="452.00" y2="35.30" stroke="#B8B885" stroke-width="0.6"/>
<text x="458.80" y="36.53" font-size="6.2" fill="#2a2a2a" stroke="#2a2a2a" stroke-width="0.12">Low C3</text>
<line x1="325.20" y1="78.40" x2="331.20" y2="78.40" stroke="#667" stroke-width="0.6" stroke-dasharray="1,1"/>
<line x1="331.20" y1="78.40" x2="331.20" y2="141.75" stroke="#444" stroke-width="0.6" stroke-dasharray="1,1"/>
<text x="332.30" y="119.03" font-size="6.2" fill="#2a2a2a" stroke="#2a2a2a" stroke-width="0.12"><tspan font-style="italic">P</tspan> = .00099</text>
<polyline points="325.60,15.50 326.20,28.00 326.90,42.20 328.00,58.30 329.30,71.20 330.90,78.40 333.30,83.30 337.30,87.30 342.20,89.70 348.60,92.10 355.00,92.60 382.50,92.60 382.50,93.60 390.00,94.50 405.00,94.50 405.00,96.25 498.75,96.25 498.75,96.25 498.75,98.00 511.50,98.00 511.50,98.00" fill="none" stroke="#B8B885" stroke-width="1.2" stroke-linejoin="miter"/>
<polyline points="325.60,15.50 326.20,26.00 326.90,34.20 328.00,42.20 329.00,48.60 329.60,53.50 331.70,56.70 334.10,58.30 336.50,60.70 340.50,60.70 340.50,61.50 343.80,61.50 343.80,63.10 346.20,65.60 350.20,65.60 350.20,66.40 352.60,68.00 511.50,68.00 511.50,68.00" fill="none" stroke="#2BA8DF" stroke-width="1.2" stroke-linejoin="miter"/>
<line x1="356.00" y1="66.90" x2="356.00" y2="69.10" stroke="#2BA8DF" stroke-width="0.7"/>
<line x1="360.00" y1="66.90" x2="360.00" y2="69.10" stroke="#2BA8DF" stroke-width="0.7"/>
<line x1="364.00" y1="66.90" x2="364.00" y2="69.10" stroke="#2BA8DF" stroke-width="0.7"/>
<line x1="366.00" y1="66.90" x2="366.00" y2="69.10" stroke="#2BA8DF" stroke-width="0.7"/>
<line x1="369.00" y1="66.90" x2="369.00" y2="69.10" stroke="#2BA8DF" stroke-width="0.7"/>
<line x1="372.00" y1="66.90" x2="372.00" y2="69.10" stroke="#2BA8DF" stroke-width="0.7"/>
<line x1="378.00" y1="66.90" x2="378.00" y2="69.10" stroke="#2BA8DF" stroke-width="0.7"/>
<line x1="390.00" y1="66.90" x2="390.00" y2="69.10" stroke="#2BA8DF" stroke-width="0.7"/>
<line x1="395.00" y1="66.90" x2="395.00" y2="69.10" stroke="#2BA8DF" stroke-width="0.7"/>
<line x1="400.00" y1="66.90" x2="400.00" y2="69.10" stroke="#2BA8DF" stroke-width="0.7"/>
<line x1="408.00" y1="66.90" x2="408.00" y2="69.10" stroke="#2BA8DF" stroke-width="0.7"/>
<line x1="418.00" y1="66.90" x2="418.00" y2="69.10" stroke="#2BA8DF" stroke-width="0.7"/>
<line x1="423.00" y1="66.90" x2="423.00" y2="69.10" stroke="#2BA8DF" stroke-width="0.7"/>
<line x1="468.00" y1="66.90" x2="468.00" y2="69.10" stroke="#2BA8DF" stroke-width="0.7"/>
<line x1="476.00" y1="66.90" x2="476.00" y2="69.10" stroke="#2BA8DF" stroke-width="0.7"/>
<line x1="486.00" y1="66.90" x2="486.00" y2="69.10" stroke="#2BA8DF" stroke-width="0.7"/>
<line x1="489.00" y1="66.90" x2="489.00" y2="69.10" stroke="#2BA8DF" stroke-width="0.7"/>
<line x1="492.00" y1="66.90" x2="492.00" y2="69.10" stroke="#2BA8DF" stroke-width="0.7"/>
<line x1="510.00" y1="66.90" x2="510.00" y2="69.10" stroke="#2BA8DF" stroke-width="0.7"/>
<line x1="360.00" y1="91.50" x2="360.00" y2="93.70" stroke="#B8B885" stroke-width="0.7"/>
<line x1="370.00" y1="91.50" x2="370.00" y2="93.70" stroke="#B8B885" stroke-width="0.7"/>
<line x1="392.00" y1="93.40" x2="392.00" y2="95.60" stroke="#B8B885" stroke-width="0.7"/>
<line x1="400.00" y1="93.40" x2="400.00" y2="95.60" stroke="#B8B885" stroke-width="0.7"/>
<line x1="410.00" y1="95.15" x2="410.00" y2="97.35" stroke="#B8B885" stroke-width="0.7"/>
<line x1="418.00" y1="95.15" x2="418.00" y2="97.35" stroke="#B8B885" stroke-width="0.7"/>
<line x1="430.00" y1="95.15" x2="430.00" y2="97.35" stroke="#B8B885" stroke-width="0.7"/>
<line x1="440.00" y1="95.15" x2="440.00" y2="97.35" stroke="#B8B885" stroke-width="0.7"/>
<line x1="460.00" y1="95.15" x2="460.00" y2="97.35" stroke="#B8B885" stroke-width="0.7"/>
<line x1="482.00" y1="95.15" x2="482.00" y2="97.35" stroke="#B8B885" stroke-width="0.7"/>
<line x1="484.00" y1="95.15" x2="484.00" y2="97.35" stroke="#B8B885" stroke-width="0.7"/>
<line x1="500.00" y1="96.90" x2="500.00" y2="99.10" stroke="#B8B885" stroke-width="0.7"/>
<line x1="505.00" y1="96.90" x2="505.00" y2="99.10" stroke="#B8B885" stroke-width="0.7"/>
<line x1="509.00" y1="96.90" x2="509.00" y2="99.10" stroke="#B8B885" stroke-width="0.7"/>
<text x="316.80" y="181.03" font-size="6.2" fill="#2a2a2a" stroke="#2a2a2a" stroke-width="0.12" textLength="37.7" lengthAdjust="spacingAndGlyphs">Number at risk</text>
<line x1="316.60" y1="184.50" x2="316.60" y2="200.00" stroke="#1a1a1a" stroke-width="1.3"/>
<line x1="315.95" y1="199.50" x2="512.00" y2="199.50" stroke="#1a1a1a" stroke-width="1.3"/>
<text x="311.30" y="190.12" font-size="5.9" fill="#55BBE6" stroke="#55BBE6" stroke-width="0.12" text-anchor="end">High C3</text>
<line x1="313.60" y1="188.00" x2="316.60" y2="188.00" stroke="#1a1a1a" stroke-width="1"/>
<text x="325.50" y="190.23" font-size="6.2" fill="#2a2a2a" stroke="#2a2a2a" stroke-width="0.12" text-anchor="middle">110</text>
<text x="344.89" y="190.23" font-size="6.2" fill="#2a2a2a" stroke="#2a2a2a" stroke-width="0.12" text-anchor="middle">44</text>
<text x="364.28" y="190.23" font-size="6.2" fill="#2a2a2a" stroke="#2a2a2a" stroke-width="0.12" text-anchor="middle">37</text>
<text x="383.67" y="190.23" font-size="6.2" fill="#2a2a2a" stroke="#2a2a2a" stroke-width="0.12" text-anchor="middle">27</text>
<text x="403.06" y="190.23" font-size="6.2" fill="#2a2a2a" stroke="#2a2a2a" stroke-width="0.12" text-anchor="middle">19</text>
<text x="422.45" y="190.23" font-size="6.2" fill="#2a2a2a" stroke="#2a2a2a" stroke-width="0.12" text-anchor="middle">13</text>
<text x="441.84" y="190.23" font-size="6.2" fill="#2a2a2a" stroke="#2a2a2a" stroke-width="0.12" text-anchor="middle">13</text>
<text x="461.23" y="190.23" font-size="6.2" fill="#2a2a2a" stroke="#2a2a2a" stroke-width="0.12" text-anchor="middle">13</text>
<text x="480.62" y="190.23" font-size="6.2" fill="#2a2a2a" stroke="#2a2a2a" stroke-width="0.12" text-anchor="middle">11</text>
<text x="500.01" y="190.23" font-size="6.2" fill="#2a2a2a" stroke="#2a2a2a" stroke-width="0.12" text-anchor="middle">8</text>
<text x="311.30" y="197.37" font-size="5.9" fill="#C6C6A2" stroke="#C6C6A2" stroke-width="0.12" text-anchor="end">Low C3</text>
<line x1="313.60" y1="195.25" x2="316.60" y2="195.25" stroke="#1a1a1a" stroke-width="1"/>
<text x="325.50" y="197.48" font-size="6.2" fill="#2a2a2a" stroke="#2a2a2a" stroke-width="0.12" text-anchor="middle">271</text>
<text x="344.89" y="197.48" font-size="6.2" fill="#2a2a2a" stroke="#2a2a2a" stroke-width="0.12" text-anchor="middle">89</text>
<text x="364.28" y="197.48" font-size="6.2" fill="#2a2a2a" stroke="#2a2a2a" stroke-width="0.12" text-anchor="middle">75</text>
<text x="383.67" y="197.48" font-size="6.2" fill="#2a2a2a" stroke="#2a2a2a" stroke-width="0.12" text-anchor="middle">63</text>
<text x="403.06" y="197.48" font-size="6.2" fill="#2a2a2a" stroke="#2a2a2a" stroke-width="0.12" text-anchor="middle">52</text>
<text x="422.45" y="197.48" font-size="6.2" fill="#2a2a2a" stroke="#2a2a2a" stroke-width="0.12" text-anchor="middle">45</text>
<text x="441.84" y="197.48" font-size="6.2" fill="#2a2a2a" stroke="#2a2a2a" stroke-width="0.12" text-anchor="middle">38</text>
<text x="461.23" y="197.48" font-size="6.2" fill="#2a2a2a" stroke="#2a2a2a" stroke-width="0.12" text-anchor="middle">37</text>
<text x="480.62" y="197.48" font-size="6.2" fill="#2a2a2a" stroke="#2a2a2a" stroke-width="0.12" text-anchor="middle">36</text>
<text x="500.01" y="197.48" font-size="6.2" fill="#2a2a2a" stroke="#2a2a2a" stroke-width="0.12" text-anchor="middle">31</text>
<line x1="325.50" y1="199.50" x2="325.50" y2="202.70" stroke="#1a1a1a" stroke-width="1"/>
<text x="325.50" y="211.13" font-size="6.2" fill="#2a2a2a" stroke="#2a2a2a" stroke-width="0.12" text-anchor="middle">0</text>
<line x1="344.89" y1="199.50" x2="344.89" y2="202.70" stroke="#1a1a1a" stroke-width="1"/>
<text x="344.89" y="211.13" font-size="6.2" fill="#2a2a2a" stroke="#2a2a2a" stroke-width="0.12" text-anchor="middle">200</text>
<line x1="364.28" y1="199.50" x2="364.28" y2="202.70" stroke="#1a1a1a" stroke-width="1"/>
<text x="364.28" y="211.13" font-size="6.2" fill="#2a2a2a" stroke="#2a2a2a" stroke-width="0.12" text-anchor="middle">400</text>
<line x1="383.67" y1="199.50" x2="383.67" y2="202.70" stroke="#1a1a1a" stroke-width="1"/>
<text x="383.67" y="211.13" font-size="6.2" fill="#2a2a2a" stroke="#2a2a2a" stroke-width="0.12" text-anchor="middle">600</text>
<line x1="403.06" y1="199.50" x2="403.06" y2="202.70" stroke="#1a1a1a" stroke-width="1"/>
<text x="403.06" y="211.13" font-size="6.2" fill="#2a2a2a" stroke="#2a2a2a" stroke-width="0.12" text-anchor="middle">800</text>
<line x1="422.45" y1="199.50" x2="422.45" y2="202.70" stroke="#1a1a1a" stroke-width="1"/>
<text x="422.45" y="211.13" font-size="6.2" fill="#2a2a2a" stroke="#2a2a2a" stroke-width="0.12" text-anchor="middle">1000</text>
<line x1="441.84" y1="199.50" x2="441.84" y2="202.70" stroke="#1a1a1a" stroke-width="1"/>
<text x="441.84" y="211.13" font-size="6.2" fill="#2a2a2a" stroke="#2a2a2a" stroke-width="0.12" text-anchor="middle">1200</text>
<line x1="461.23" y1="199.50" x2="461.23" y2="202.70" stroke="#1a1a1a" stroke-width="1"/>
<text x="461.23" y="211.13" font-size="6.2" fill="#2a2a2a" stroke="#2a2a2a" stroke-width="0.12" text-anchor="middle">1400</text>
<line x1="480.62" y1="199.50" x2="480.62" y2="202.70" stroke="#1a1a1a" stroke-width="1"/>
<text x="480.62" y="211.13" font-size="6.2" fill="#2a2a2a" stroke="#2a2a2a" stroke-width="0.12" text-anchor="middle">1600</text>
<line x1="500.01" y1="199.50" x2="500.01" y2="202.70" stroke="#1a1a1a" stroke-width="1"/>
<text x="500.01" y="211.13" font-size="6.2" fill="#2a2a2a" stroke="#2a2a2a" stroke-width="0.12" text-anchor="middle">1800</text>
<text x="414.20" y="221.09" font-size="7.2" fill="#2a2a2a" stroke="#2a2a2a" stroke-width="0.3" text-anchor="middle" textLength="29" lengthAdjust="spacingAndGlyphs">Time (days)</text>
<text transform="translate(281.00,192.50) rotate(-90)" x="0" y="2.59" font-size="7.2" fill="#2a2a2a" stroke="#2a2a2a" stroke-width="0.3" text-anchor="middle" textLength="14" lengthAdjust="spacingAndGlyphs">Group</text>
<text x="6.50" y="258.56" font-size="11" fill="#111" font-weight="bold">C</text>
<line x1="45.00" y1="259.10" x2="45.00" y2="339.50" stroke="#1a1a1a" stroke-width="1.5"/>
<line x1="44.25" y1="338.80" x2="96.00" y2="338.80" stroke="#1a1a1a" stroke-width="1.4"/>
<line x1="41.80" y1="338.80" x2="45.00" y2="338.80" stroke="#1a1a1a" stroke-width="0.9"/>
<text x="38.90" y="340.57" font-size="6.3" fill="#2a2a2a" stroke="#2a2a2a" stroke-width="0.12" text-anchor="end">0</text>
<line x1="41.80" y1="323.42" x2="45.00" y2="323.42" stroke="#1a1a1a" stroke-width="0.9"/>
<text x="38.90" y="325.19" font-size="6.3" fill="#2a2a2a" stroke="#2a2a2a" stroke-width="0.12" text-anchor="end">20</text>
<line x1="41.80" y1="308.04" x2="45.00" y2="308.04" stroke="#1a1a1a" stroke-width="0.9"/>
<text x="38.90" y="309.81" font-size="6.3" fill="#2a2a2a" stroke="#2a2a2a" stroke-width="0.12" text-anchor="end">40</text>
<line x1="41.80" y1="292.66" x2="45.00" y2="292.66" stroke="#1a1a1a" stroke-width="0.9"/>
<text x="38.90" y="294.43" font-size="6.3" fill="#2a2a2a" stroke="#2a2a2a" stroke-width="0.12" text-anchor="end">60</text>
<line x1="41.80" y1="277.28" x2="45.00" y2="277.28" stroke="#1a1a1a" stroke-width="0.9"/>
<text x="38.90" y="279.05" font-size="6.3" fill="#2a2a2a" stroke="#2a2a2a" stroke-width="0.12" text-anchor="end">80</text>
<line x1="41.80" y1="261.90" x2="45.00" y2="261.90" stroke="#1a1a1a" stroke-width="0.9"/>
<text x="38.90" y="263.67" font-size="6.3" fill="#2a2a2a" stroke="#2a2a2a" stroke-width="0.12" text-anchor="end">100</text>
<rect x="51.90" y="261.90" width="15.00" height="56.14" fill="#6B3D0C"/>
<rect x="51.90" y="318.04" width="15.00" height="20.76" fill="#8E80C4"/>
<line x1="59.40" y1="338.80" x2="59.40" y2="341.30" stroke="#1a1a1a" stroke-width="1"/>
<rect x="74.40" y="261.90" width="14.50" height="42.68" fill="#6B3D0C"/>
<rect x="74.40" y="304.58" width="14.50" height="34.22" fill="#8E80C4"/>
<line x1="81.65" y1="338.80" x2="81.65" y2="341.30" stroke="#1a1a1a" stroke-width="1"/>
<line x1="59.30" y1="256.20" x2="81.60" y2="256.20" stroke="#333" stroke-width="0.8"/>
<line x1="59.30" y1="255.80" x2="59.30" y2="258.80" stroke="#333" stroke-width="0.8"/>
<line x1="81.60" y1="255.80" x2="81.60" y2="258.80" stroke="#333" stroke-width="0.8"/>
<text x="71.00" y="255.86" font-size="6" fill="#2a2a2a" stroke="#2a2a2a" stroke-width="0.12" text-anchor="middle">**</text>
<text transform="translate(20.30,299.25) rotate(-90)" x="0" y="2.45" font-size="6.8" fill="#2a2a2a" stroke="#2a2a2a" stroke-width="0.3" text-anchor="middle" textLength="55.4" lengthAdjust="spacingAndGlyphs">For 8-week death (%)</text>
<text transform="translate(55.80,346.55) rotate(-31)" x="0" y="2.16" font-size="6.0" fill="#2a2a2a" stroke="#2a2a2a" stroke-width="0.12" text-anchor="end">High C3</text>
<text transform="translate(83.40,346.55) rotate(-31)" x="0" y="2.16" font-size="6.0" fill="#2a2a2a" stroke="#2a2a2a" stroke-width="0.12" text-anchor="end">Low C3</text>
<rect x="36.20" y="364.50" width="5.00" height="2.60" fill="#6B3D0C"/>
<text x="45.00" y="368.33" font-size="6.2" fill="#2a2a2a" stroke="#2a2a2a" stroke-width="0.12" textLength="19.2" lengthAdjust="spacingAndGlyphs">Survival</text>
<rect x="70.20" y="364.50" width="5.00" height="2.60" fill="#8E80C4"/>
<text x="78.80" y="368.33" font-size="6.2" fill="#2a2a2a" stroke="#2a2a2a" stroke-width="0.12" textLength="14.7" lengthAdjust="spacingAndGlyphs">Death</text>
<line x1="45.00" y1="380.80" x2="45.00" y2="460.60" stroke="#1a1a1a" stroke-width="1.5"/>
<line x1="44.25" y1="459.90" x2="96.00" y2="459.90" stroke="#1a1a1a" stroke-width="1.4"/>
<line x1="41.80" y1="459.90" x2="45.00" y2="459.90" stroke="#1a1a1a" stroke-width="0.9"/>
<text x="38.90" y="461.67" font-size="6.3" fill="#2a2a2a" stroke="#2a2a2a" stroke-width="0.12" text-anchor="end">0</text>
<line x1="41.80" y1="444.64" x2="45.00" y2="444.64" stroke="#1a1a1a" stroke-width="0.9"/>
<text x="38.90" y="446.41" font-size="6.3" fill="#2a2a2a" stroke="#2a2a2a" stroke-width="0.12" text-anchor="end">20</text>
<line x1="41.80" y1="429.38" x2="45.00" y2="429.38" stroke="#1a1a1a" stroke-width="0.9"/>
<text x="38.90" y="431.15" font-size="6.3" fill="#2a2a2a" stroke="#2a2a2a" stroke-width="0.12" text-anchor="end">40</text>
<line x1="41.80" y1="414.12" x2="45.00" y2="414.12" stroke="#1a1a1a" stroke-width="0.9"/>
<text x="38.90" y="415.89" font-size="6.3" fill="#2a2a2a" stroke="#2a2a2a" stroke-width="0.12" text-anchor="end">60</text>
<line x1="41.80" y1="398.86" x2="45.00" y2="398.86" stroke="#1a1a1a" stroke-width="0.9"/>
<text x="38.90" y="400.63" font-size="6.3" fill="#2a2a2a" stroke="#2a2a2a" stroke-width="0.12" text-anchor="end">80</text>
<line x1="41.80" y1="383.60" x2="45.00" y2="383.60" stroke="#1a1a1a" stroke-width="0.9"/>
<text x="38.90" y="385.37" font-size="6.3" fill="#2a2a2a" stroke="#2a2a2a" stroke-width="0.12" text-anchor="end">100</text>
<rect x="51.90" y="383.60" width="15.00" height="49.59" fill="#6B3D0C"/>
<rect x="51.90" y="433.19" width="15.00" height="26.70" fill="#8E80C4"/>
<line x1="59.40" y1="459.90" x2="59.40" y2="462.40" stroke="#1a1a1a" stroke-width="1"/>
<rect x="74.40" y="383.60" width="14.50" height="34.64" fill="#6B3D0C"/>
<rect x="74.40" y="418.24" width="14.50" height="41.66" fill="#8E80C4"/>
<line x1="81.65" y1="459.90" x2="81.65" y2="462.40" stroke="#1a1a1a" stroke-width="1"/>
<line x1="59.30" y1="377.90" x2="81.60" y2="377.90" stroke="#333" stroke-width="0.8"/>
<line x1="59.30" y1="377.50" x2="59.30" y2="380.50" stroke="#333" stroke-width="0.8"/>
<line x1="81.60" y1="377.50" x2="81.60" y2="380.50" stroke="#333" stroke-width="0.8"/>
<text x="71.00" y="377.56" font-size="6" fill="#2a2a2a" stroke="#2a2a2a" stroke-width="0.12" text-anchor="middle">***</text>
<text transform="translate(20.30,420.65) rotate(-90)" x="0" y="2.45" font-size="6.8" fill="#2a2a2a" stroke="#2a2a2a" stroke-width="0.3" text-anchor="middle" textLength="52.8" lengthAdjust="spacingAndGlyphs">For 1-year death (%)</text>
<text transform="translate(61.30,467.65) rotate(-31)" x="0" y="2.16" font-size="6.0" fill="#2a2a2a" stroke="#2a2a2a" stroke-width="0.12" text-anchor="end">High C3</text>
<text transform="translate(83.40,467.65) rotate(-31)" x="0" y="2.16" font-size="6.0" fill="#2a2a2a" stroke="#2a2a2a" stroke-width="0.12" text-anchor="end">Low C3</text>
<rect x="36.20" y="485.70" width="5.00" height="2.60" fill="#6B3D0C"/>
<text x="45.00" y="489.53" font-size="6.2" fill="#2a2a2a" stroke="#2a2a2a" stroke-width="0.12" textLength="19.2" lengthAdjust="spacingAndGlyphs">Survival</text>
<rect x="70.20" y="485.70" width="5.00" height="2.60" fill="#8E80C4"/>
<text x="78.80" y="489.53" font-size="6.2" fill="#2a2a2a" stroke="#2a2a2a" stroke-width="0.12" textLength="14.7" lengthAdjust="spacingAndGlyphs">Death</text>
<line x1="45.00" y1="501.70" x2="45.00" y2="582.10" stroke="#1a1a1a" stroke-width="1.5"/>
<line x1="44.25" y1="581.40" x2="96.00" y2="581.40" stroke="#1a1a1a" stroke-width="1.4"/>
<line x1="41.80" y1="581.40" x2="45.00" y2="581.40" stroke="#1a1a1a" stroke-width="0.9"/>
<text x="38.90" y="583.17" font-size="6.3" fill="#2a2a2a" stroke="#2a2a2a" stroke-width="0.12" text-anchor="end">0</text>
<line x1="41.80" y1="566.02" x2="45.00" y2="566.02" stroke="#1a1a1a" stroke-width="0.9"/>
<text x="38.90" y="567.79" font-size="6.3" fill="#2a2a2a" stroke="#2a2a2a" stroke-width="0.12" text-anchor="end">20</text>
<line x1="41.80" y1="550.64" x2="45.00" y2="550.64" stroke="#1a1a1a" stroke-width="0.9"/>
<text x="38.90" y="552.41" font-size="6.3" fill="#2a2a2a" stroke="#2a2a2a" stroke-width="0.12" text-anchor="end">40</text>
<line x1="41.80" y1="535.26" x2="45.00" y2="535.26" stroke="#1a1a1a" stroke-width="0.9"/>
<text x="38.90" y="537.03" font-size="6.3" fill="#2a2a2a" stroke="#2a2a2a" stroke-width="0.12" text-anchor="end">60</text>
<line x1="41.80" y1="519.88" x2="45.00" y2="519.88" stroke="#1a1a1a" stroke-width="0.9"/>
<text x="38.90" y="521.65" font-size="6.3" fill="#2a2a2a" stroke="#2a2a2a" stroke-width="0.12" text-anchor="end">80</text>
<line x1="41.80" y1="504.50" x2="45.00" y2="504.50" stroke="#1a1a1a" stroke-width="0.9"/>
<text x="38.90" y="506.27" font-size="6.3" fill="#2a2a2a" stroke="#2a2a2a" stroke-width="0.12" text-anchor="end">100</text>
<rect x="51.90" y="504.50" width="15.00" height="49.45" fill="#6B3D0C"/>
<rect x="51.90" y="553.95" width="15.00" height="27.45" fill="#8E80C4"/>
<line x1="59.40" y1="581.40" x2="59.40" y2="583.90" stroke="#1a1a1a" stroke-width="1"/>
<rect x="74.40" y="504.50" width="14.50" height="32.61" fill="#6B3D0C"/>
<rect x="74.40" y="537.11" width="14.50" height="44.29" fill="#8E80C4"/>
<line x1="81.65" y1="581.40" x2="81.65" y2="583.90" stroke="#1a1a1a" stroke-width="1"/>
<line x1="59.30" y1="498.80" x2="81.60" y2="498.80" stroke="#333" stroke-width="0.8"/>
<line x1="59.30" y1="498.40" x2="59.30" y2="501.40" stroke="#333" stroke-width="0.8"/>
<line x1="81.60" y1="498.40" x2="81.60" y2="501.40" stroke="#333" stroke-width="0.8"/>
<text x="71.00" y="498.46" font-size="6" fill="#2a2a2a" stroke="#2a2a2a" stroke-width="0.12" text-anchor="middle">***</text>
<text transform="translate(20.30,541.85) rotate(-90)" x="0" y="2.45" font-size="6.8" fill="#2a2a2a" stroke="#2a2a2a" stroke-width="0.3" text-anchor="middle" textLength="43.8" lengthAdjust="spacingAndGlyphs">Overall death (%)</text>
<text transform="translate(61.10,589.15) rotate(-31)" x="0" y="2.16" font-size="6.0" fill="#2a2a2a" stroke="#2a2a2a" stroke-width="0.12" text-anchor="end">High C3</text>
<text transform="translate(83.40,589.15) rotate(-31)" x="0" y="2.16" font-size="6.0" fill="#2a2a2a" stroke="#2a2a2a" stroke-width="0.12" text-anchor="end">Low C3</text>
<rect x="36.20" y="607.50" width="5.00" height="2.60" fill="#6B3D0C"/>
<text x="45.00" y="611.33" font-size="6.2" fill="#2a2a2a" stroke="#2a2a2a" stroke-width="0.12" textLength="19.2" lengthAdjust="spacingAndGlyphs">Survival</text>
<rect x="70.20" y="607.50" width="5.00" height="2.60" fill="#8E80C4"/>
<text x="78.80" y="611.33" font-size="6.2" fill="#2a2a2a" stroke="#2a2a2a" stroke-width="0.12" textLength="14.7" lengthAdjust="spacingAndGlyphs">Death</text>
<text x="140.60" y="258.56" font-size="11" fill="#111" font-weight="bold">D</text>
<text x="226.50" y="271.78" font-size="6.6" fill="#222" text-anchor="middle" font-weight="bold" textLength="32.5" lengthAdjust="spacingAndGlyphs">univariable</text>
<text x="304.20" y="271.88" font-size="6.6" fill="#222" text-anchor="middle" font-weight="bold" textLength="38.5" lengthAdjust="spacingAndGlyphs">multivariable</text>
<text x="278.30" y="262.16" font-size="6" fill="#444" stroke="#444" stroke-width="0.12" textLength="14.2" lengthAdjust="spacingAndGlyphs">mode</text>
<line x1="295.20" y1="260.00" x2="300.80" y2="260.00" stroke="#444" stroke-width="0.8"/>
<circle cx="298.00" cy="260.00" r="0.8" fill="#333"/>
<text x="303.50" y="262.16" font-size="6" fill="#444" stroke="#444" stroke-width="0.12" textLength="32" lengthAdjust="spacingAndGlyphs">multivariable</text>
<line x1="338.20" y1="260.00" x2="344.40" y2="260.00" stroke="#E2BE48" stroke-width="0.9"/>
<text x="347.20" y="262.16" font-size="6" fill="#444" stroke="#444" stroke-width="0.12" textLength="27.8" lengthAdjust="spacingAndGlyphs">univariable</text>
<text x="163.80" y="284.04" font-size="5.4" fill="#555" stroke="#555" stroke-width="0.12" text-anchor="middle" textLength="9.5" lengthAdjust="spacingAndGlyphs">Age</text>
<text x="197.80" y="283.95" font-size="5.15" fill="#555" stroke="#555" stroke-width="0.12" textLength="58.3" lengthAdjust="spacingAndGlyphs">1.02 (1.02–1.03, <tspan font-style="italic">P</tspan> &lt; .001)</text>
<text x="275.00" y="283.95" font-size="5.15" fill="#555" stroke="#555" stroke-width="0.12" textLength="58.7" lengthAdjust="spacingAndGlyphs">1.02 (1.01–1.03, <tspan font-style="italic">P</tspan> = .004)</text>
<text x="163.80" y="294.87" font-size="5.4" fill="#555" stroke="#555" stroke-width="0.12" text-anchor="middle" textLength="31.5" lengthAdjust="spacingAndGlyphs">Gender (male)</text>
<text x="197.80" y="294.78" font-size="5.15" fill="#555" stroke="#555" stroke-width="0.12" textLength="58.3" lengthAdjust="spacingAndGlyphs">1.38 (1.00–1.90, <tspan font-style="italic">P</tspan> = .050)</text>
<text x="275.00" y="294.78" font-size="5.15" fill="#555" stroke="#555" stroke-width="0.12" textLength="58.7" lengthAdjust="spacingAndGlyphs">1.08 (0.77–1.51, <tspan font-style="italic">P</tspan> = .658)</text>
<text x="163.80" y="305.70" font-size="5.4" fill="#1a1a1a" text-anchor="middle" font-weight="bold" textLength="12.2" lengthAdjust="spacingAndGlyphs">RHD</text>
<text x="197.80" y="305.61" font-size="5.15" fill="#1a1a1a" font-weight="bold" textLength="58.3" lengthAdjust="spacingAndGlyphs">0.44 (0.26–0.75, <tspan font-style="italic">P</tspan> = .002)</text>
<text x="275.00" y="305.61" font-size="5.15" fill="#1a1a1a" font-weight="bold" textLength="58.7" lengthAdjust="spacingAndGlyphs">0.53 (0.30–0.93, <tspan font-style="italic">P</tspan> = .026)</text>
<text x="163.80" y="316.53" font-size="5.4" fill="#1a1a1a" text-anchor="middle" font-weight="bold" textLength="30.8" lengthAdjust="spacingAndGlyphs">C3&lt;0.764 g/L</text>
<text x="197.80" y="316.44" font-size="5.15" fill="#1a1a1a" font-weight="bold" textLength="58.3" lengthAdjust="spacingAndGlyphs">1.75 (1.17–2.61, <tspan font-style="italic">P</tspan> = .006)</text>
<text x="275.00" y="316.44" font-size="5.15" fill="#1a1a1a" font-weight="bold" textLength="58.7" lengthAdjust="spacingAndGlyphs">1.64 (1.08–2.48, <tspan font-style="italic">P</tspan> = .019)</text>
<text x="163.80" y="327.36" font-size="5.4" fill="#1a1a1a" text-anchor="middle" font-weight="bold" textLength="28.7" lengthAdjust="spacingAndGlyphs">PCT&gt;2 ug/L</text>
<text x="197.80" y="327.27" font-size="5.15" fill="#1a1a1a" font-weight="bold" textLength="58.3" lengthAdjust="spacingAndGlyphs">1.61 (1.13–2.28, <tspan font-style="italic">P</tspan> = .008)</text>
<text x="275.00" y="327.27" font-size="5.15" fill="#1a1a1a" font-weight="bold" textLength="58.7" lengthAdjust="spacingAndGlyphs">1.49 (1.04–2.14, <tspan font-style="italic">P</tspan> = .032)</text>
<text x="163.80" y="338.19" font-size="5.4" fill="#555" stroke="#555" stroke-width="0.12" text-anchor="middle" textLength="6" lengthAdjust="spacingAndGlyphs">Cr</text>
<text x="197.80" y="338.10" font-size="5.15" fill="#555" stroke="#555" stroke-width="0.12" textLength="58.3" lengthAdjust="spacingAndGlyphs">1.00 (1.00–1.00, <tspan font-style="italic">P</tspan> = .010)</text>
<text x="275.00" y="338.10" font-size="5.15" fill="#555" stroke="#555" stroke-width="0.12" textLength="58.7" lengthAdjust="spacingAndGlyphs">1.00 (1.00–1.00, <tspan font-style="italic">P</tspan> = .551)</text>
<text x="163.80" y="349.02" font-size="5.4" fill="#555" stroke="#555" stroke-width="0.12" text-anchor="middle" textLength="10.7" lengthAdjust="spacingAndGlyphs">BUN</text>
<text x="197.80" y="348.93" font-size="5.15" fill="#555" stroke="#555" stroke-width="0.12" textLength="58.3" lengthAdjust="spacingAndGlyphs">1.04 (1.02–1.05, <tspan font-style="italic">P</tspan> &lt; .001)</text>
<text x="275.00" y="348.93" font-size="5.15" fill="#555" stroke="#555" stroke-width="0.12" textLength="58.7" lengthAdjust="spacingAndGlyphs">1.03 (1.00–1.03, <tspan font-style="italic">P</tspan> = .077)</text>
<text x="163.80" y="359.85" font-size="5.4" fill="#555" stroke="#555" stroke-width="0.12" text-anchor="middle" textLength="7.7" lengthAdjust="spacingAndGlyphs">Tbil</text>
<text x="197.80" y="359.76" font-size="5.15" fill="#555" stroke="#555" stroke-width="0.12" textLength="58.3" lengthAdjust="spacingAndGlyphs">1.00 (1.00–1.01, <tspan font-style="italic">P</tspan> &lt; .001)</text>
<text x="275.00" y="359.76" font-size="5.15" fill="#555" stroke="#555" stroke-width="0.12" textLength="58.7" lengthAdjust="spacingAndGlyphs">1.00 (1.00–1.01, <tspan font-style="italic">P</tspan> = .001)</text>
<text x="163.80" y="370.68" font-size="5.4" fill="#555" stroke="#555" stroke-width="0.12" text-anchor="middle" textLength="9.2" lengthAdjust="spacingAndGlyphs">AST</text>
<text x="197.80" y="370.59" font-size="5.15" fill="#555" stroke="#555" stroke-width="0.12" textLength="58.3" lengthAdjust="spacingAndGlyphs">1.00 (1.00–1.00, <tspan font-style="italic">P</tspan> = .018)</text>
<text x="275.00" y="370.59" font-size="5.15" fill="#555" stroke="#555" stroke-width="0.12" textLength="58.7" lengthAdjust="spacingAndGlyphs">1.00 (1.00–1.00, <tspan font-style="italic">P</tspan> = .236)</text>
<text x="163.80" y="381.51" font-size="5.4" fill="#555" stroke="#555" stroke-width="0.12" text-anchor="middle" textLength="31.7" lengthAdjust="spacingAndGlyphs">Total T cell (%)</text>
<text x="197.80" y="381.42" font-size="5.15" fill="#555" stroke="#555" stroke-width="0.12" textLength="58.3" lengthAdjust="spacingAndGlyphs">0.98 (0.97–0.99, <tspan font-style="italic">P</tspan> &lt; .001)</text>
<text x="275.00" y="381.42" font-size="5.15" fill="#555" stroke="#555" stroke-width="0.12" textLength="58.7" lengthAdjust="spacingAndGlyphs">0.99 (0.98–1.00, <tspan font-style="italic">P</tspan> = .097)</text>
<line x1="355.90" y1="274.50" x2="355.90" y2="388.30" stroke="#1a1a1a" stroke-width="1.4"/>
<line x1="355.20" y1="387.60" x2="513.50" y2="387.60" stroke="#1a1a1a" stroke-width="1.4"/>
<line x1="352.90" y1="282.10" x2="355.90" y2="282.10" stroke="#1a1a1a" stroke-width="0.9"/>
<line x1="352.90" y1="292.93" x2="355.90" y2="292.93" stroke="#1a1a1a" stroke-width="0.9"/>
<line x1="352.90" y1="303.76" x2="355.90" y2="303.76" stroke="#1a1a1a" stroke-width="0.9"/>
<line x1="352.90" y1="314.59" x2="355.90" y2="314.59" stroke="#1a1a1a" stroke-width="0.9"/>
<line x1="352.90" y1="325.42" x2="355.90" y2="325.42" stroke="#1a1a1a" stroke-width="0.9"/>
<line x1="352.90" y1="336.25" x2="355.90" y2="336.25" stroke="#1a1a1a" stroke-width="0.9"/>
<line x1="352.90" y1="347.08" x2="355.90" y2="347.08" stroke="#1a1a1a" stroke-width="0.9"/>
<line x1="352.90" y1="357.91" x2="355.90" y2="357.91" stroke="#1a1a1a" stroke-width="0.9"/>
<line x1="352.90" y1="368.74" x2="355.90" y2="368.74" stroke="#1a1a1a" stroke-width="0.9"/>
<line x1="352.90" y1="379.57" x2="355.90" y2="379.57" stroke="#1a1a1a" stroke-width="0.9"/>
<line x1="408.20" y1="387.60" x2="408.20" y2="390.60" stroke="#1a1a1a" stroke-width="0.9"/>
<text x="408.20" y="399.23" font-size="6.2" fill="#2a2a2a" stroke="#2a2a2a" stroke-width="0.12" text-anchor="middle">1</text>
<line x1="469.30" y1="387.60" x2="469.30" y2="390.60" stroke="#1a1a1a" stroke-width="0.9"/>
<text x="469.30" y="399.23" font-size="6.2" fill="#2a2a2a" stroke="#2a2a2a" stroke-width="0.12" text-anchor="middle">2</text>
<text x="435.20" y="409.39" font-size="7.2" fill="#2a2a2a" stroke="#2a2a2a" stroke-width="0.3" text-anchor="middle" textLength="54" lengthAdjust="spacingAndGlyphs">Hazard ratio (95% CI)</text>
<line x1="408.20" y1="274.00" x2="408.20" y2="387.00" stroke="#F0BE50" stroke-width="0.7" stroke-dasharray="2,2"/>
<line x1="409.42" y1="280.40" x2="410.04" y2="280.40" stroke="#8a8a8a" stroke-width="0.8"/>
<line x1="408.81" y1="283.70" x2="410.04" y2="283.70" stroke="#555" stroke-width="0.8"/>
<circle cx="409.42" cy="280.40" r="0.65" fill="#F2BC50"/>
<circle cx="409.42" cy="283.70" r="0.85" fill="#4a2626"/>
<line x1="408.20" y1="291.23" x2="463.20" y2="291.23" stroke="#8a8a8a" stroke-width="0.8"/>
<line x1="394.15" y1="294.53" x2="439.37" y2="294.53" stroke="#555" stroke-width="0.8"/>
<circle cx="431.42" cy="291.23" r="0.65" fill="#F2BC50"/>
<circle cx="413.09" cy="294.53" r="0.85" fill="#4a2626"/>
<line x1="362.99" y1="302.06" x2="392.94" y2="302.06" stroke="#8a8a8a" stroke-width="0.8"/>
<line x1="365.43" y1="305.36" x2="403.93" y2="305.36" stroke="#555" stroke-width="0.8"/>
<circle cx="373.98" cy="302.06" r="0.65" fill="#F2BC50"/>
<circle cx="379.48" cy="305.36" r="0.85" fill="#4a2626"/>
<line x1="418.59" y1="312.89" x2="506.58" y2="312.89" stroke="#8a8a8a" stroke-width="0.8"/>
<line x1="413.09" y1="316.19" x2="498.64" y2="316.19" stroke="#555" stroke-width="0.8"/>
<circle cx="454.02" cy="312.89" r="0.65" fill="#F2BC50"/>
<circle cx="447.30" cy="316.19" r="0.85" fill="#4a2626"/>
<line x1="416.14" y1="323.72" x2="486.42" y2="323.72" stroke="#8a8a8a" stroke-width="0.8"/>
<line x1="410.64" y1="327.02" x2="477.86" y2="327.02" stroke="#555" stroke-width="0.8"/>
<circle cx="445.47" cy="323.72" r="0.65" fill="#F2BC50"/>
<circle cx="438.14" cy="327.02" r="0.85" fill="#4a2626"/>
<line x1="408.20" y1="334.55" x2="408.21" y2="334.55" stroke="#8a8a8a" stroke-width="0.8"/>
<line x1="408.20" y1="337.85" x2="408.21" y2="337.85" stroke="#555" stroke-width="0.8"/>
<circle cx="408.20" cy="334.55" r="0.65" fill="#F2BC50"/>
<circle cx="408.20" cy="337.85" r="0.85" fill="#4a2626"/>
<line x1="409.42" y1="345.38" x2="411.26" y2="345.38" stroke="#8a8a8a" stroke-width="0.8"/>
<line x1="408.20" y1="348.68" x2="410.04" y2="348.68" stroke="#555" stroke-width="0.8"/>
<circle cx="410.64" cy="345.38" r="0.65" fill="#F2BC50"/>
<circle cx="410.03" cy="348.68" r="0.85" fill="#4a2626"/>
<line x1="408.20" y1="356.21" x2="408.82" y2="356.21" stroke="#8a8a8a" stroke-width="0.8"/>
<line x1="408.20" y1="359.51" x2="408.82" y2="359.51" stroke="#555" stroke-width="0.8"/>
<circle cx="408.20" cy="356.21" r="0.65" fill="#F2BC50"/>
<circle cx="408.20" cy="359.51" r="0.85" fill="#4a2626"/>
<line x1="408.20" y1="367.04" x2="408.21" y2="367.04" stroke="#8a8a8a" stroke-width="0.8"/>
<line x1="408.20" y1="370.34" x2="408.21" y2="370.34" stroke="#555" stroke-width="0.8"/>
<circle cx="408.20" cy="367.04" r="0.65" fill="#F2BC50"/>
<circle cx="408.20" cy="370.34" r="0.85" fill="#4a2626"/>
<line x1="406.37" y1="377.87" x2="407.60" y2="377.87" stroke="#8a8a8a" stroke-width="0.8"/>
<line x1="406.98" y1="381.17" x2="408.21" y2="381.17" stroke="#555" stroke-width="0.8"/>
<circle cx="406.98" cy="377.87" r="0.65" fill="#F2BC50"/>
<circle cx="407.59" cy="381.17" r="0.85" fill="#4a2626"/>
<text x="140.50" y="424.96" font-size="11" fill="#111" font-weight="bold">E</text>
<line x1="197.50" y1="430.90" x2="197.50" y2="501.00" stroke="#1a1a1a" stroke-width="1.4"/>
<line x1="196.80" y1="500.30" x2="263.80" y2="500.30" stroke="#1a1a1a" stroke-width="1.4"/>
<line x1="194.50" y1="433.40" x2="197.50" y2="433.40" stroke="#1a1a1a" stroke-width="1"/>
<text x="192.20" y="435.60" font-size="6.1" fill="#2a2a2a" stroke="#2a2a2a" stroke-width="0.12" text-anchor="end">1.2</text>
<line x1="194.50" y1="455.70" x2="197.50" y2="455.70" stroke="#1a1a1a" stroke-width="1"/>
<text x="192.20" y="457.90" font-size="6.1" fill="#2a2a2a" stroke="#2a2a2a" stroke-width="0.12" text-anchor="end">0.8</text>
<line x1="194.50" y1="478.00" x2="197.50" y2="478.00" stroke="#1a1a1a" stroke-width="1"/>
<text x="192.20" y="480.20" font-size="6.1" fill="#2a2a2a" stroke="#2a2a2a" stroke-width="0.12" text-anchor="end">0.4</text>
<line x1="194.50" y1="500.30" x2="197.50" y2="500.30" stroke="#1a1a1a" stroke-width="1"/>
<text x="192.20" y="502.50" font-size="6.1" fill="#2a2a2a" stroke="#2a2a2a" stroke-width="0.12" text-anchor="end">0.0</text>
<line x1="216.25" y1="500.30" x2="216.25" y2="502.90" stroke="#1a1a1a" stroke-width="1"/>
<text x="216.25" y="511.26" font-size="6.0" fill="#2a2a2a" stroke="#2a2a2a" stroke-width="0.12" text-anchor="middle">Pre-onset</text>
<line x1="244.20" y1="500.30" x2="244.20" y2="502.90" stroke="#1a1a1a" stroke-width="1"/>
<text x="244.20" y="511.26" font-size="6.0" fill="#2a2a2a" stroke="#2a2a2a" stroke-width="0.12" text-anchor="middle">At onset</text>
<line x1="216.25" y1="469.64" x2="216.25" y2="433.40" stroke="#d2d2d2" stroke-width="1.0"/>
<line x1="215.25" y1="433.40" x2="217.25" y2="433.40" stroke="#d2d2d2" stroke-width="0.6"/>
<line x1="215.25" y1="469.64" x2="217.25" y2="469.64" stroke="#d2d2d2" stroke-width="0.6"/>
<line x1="216.25" y1="451.80" x2="244.20" y2="465.74" stroke="#c6c6c6" stroke-width="1.1"/>
<line x1="244.20" y1="481.35" x2="244.20" y2="451.24" stroke="#46786c" stroke-width="0.8"/>
<line x1="243.20" y1="451.24" x2="245.20" y2="451.24" stroke="#2E6B5A" stroke-width="0.7"/>
<line x1="243.20" y1="481.35" x2="245.20" y2="481.35" stroke="#2E6B5A" stroke-width="0.7"/>
<circle cx="216.25" cy="451.80" r="1.0" fill="#c8c8c8"/>
<circle cx="244.20" cy="465.74" r="1.2" fill="#2E6B5A"/>
<text transform="translate(175.60,465.50) rotate(-90)" x="0" y="2.63" font-size="7.3" fill="#2a2a2a" stroke="#2a2a2a" stroke-width="0.3" text-anchor="middle" textLength="21.9" lengthAdjust="spacingAndGlyphs">C3 (g/L)</text>
<rect x="151.30" y="505.20" width="35.20" height="8.00" fill="#dadada"/>
<text x="168.90" y="511.50" font-size="6.4" fill="#333" stroke="#333" stroke-width="0.05" text-anchor="middle" textLength="30.0" lengthAdjust="spacingAndGlyphs">HLH stages</text>
<line x1="315.20" y1="430.90" x2="315.20" y2="501.00" stroke="#1a1a1a" stroke-width="1.4"/>
<line x1="314.50" y1="500.30" x2="380.80" y2="500.30" stroke="#1a1a1a" stroke-width="1.4"/>
<line x1="312.20" y1="433.40" x2="315.20" y2="433.40" stroke="#1a1a1a" stroke-width="1"/>
<text x="309.90" y="435.60" font-size="6.1" fill="#2a2a2a" stroke="#2a2a2a" stroke-width="0.12" text-anchor="end">1.2</text>
<line x1="312.20" y1="455.70" x2="315.20" y2="455.70" stroke="#1a1a1a" stroke-width="1"/>
<text x="309.90" y="457.90" font-size="6.1" fill="#2a2a2a" stroke="#2a2a2a" stroke-width="0.12" text-anchor="end">0.8</text>
<line x1="312.20" y1="478.00" x2="315.20" y2="478.00" stroke="#1a1a1a" stroke-width="1"/>
<text x="309.90" y="480.20" font-size="6.1" fill="#2a2a2a" stroke="#2a2a2a" stroke-width="0.12" text-anchor="end">0.4</text>
<line x1="312.20" y1="500.30" x2="315.20" y2="500.30" stroke="#1a1a1a" stroke-width="1"/>
<text x="309.90" y="502.50" font-size="6.1" fill="#2a2a2a" stroke="#2a2a2a" stroke-width="0.12" text-anchor="end">0.0</text>
<line x1="333.75" y1="500.30" x2="333.75" y2="502.90" stroke="#1a1a1a" stroke-width="1"/>
<text x="333.75" y="511.26" font-size="6.0" fill="#2a2a2a" stroke="#2a2a2a" stroke-width="0.12" text-anchor="middle">At onset</text>
<line x1="362.00" y1="500.30" x2="362.00" y2="502.90" stroke="#1a1a1a" stroke-width="1"/>
<text x="362.00" y="511.26" font-size="6.0" fill="#2a2a2a" stroke="#2a2a2a" stroke-width="0.12" text-anchor="middle">Post-</text>
<text x="362.00" y="517.56" font-size="6.0" fill="#2a2a2a" stroke="#2a2a2a" stroke-width="0.12" text-anchor="middle">treatment</text>
<line x1="333.75" y1="483.02" x2="333.75" y2="455.14" stroke="#d2d2d2" stroke-width="1.0"/>
<line x1="332.75" y1="455.14" x2="334.75" y2="455.14" stroke="#d2d2d2" stroke-width="0.6"/>
<line x1="332.75" y1="483.02" x2="334.75" y2="483.02" stroke="#d2d2d2" stroke-width="0.6"/>
<line x1="333.75" y1="469.08" x2="362.00" y2="457.37" stroke="#c6c6c6" stroke-width="1.1"/>
<line x1="362.00" y1="471.31" x2="362.00" y2="442.88" stroke="#96b3a8" stroke-width="1.8"/>
<line x1="362.00" y1="471.31" x2="362.00" y2="442.88" stroke="#2E6B5A" stroke-width="0.5"/>
<line x1="361.00" y1="442.88" x2="363.00" y2="442.88" stroke="#2E6B5A" stroke-width="0.7"/>
<line x1="361.00" y1="471.31" x2="363.00" y2="471.31" stroke="#2E6B5A" stroke-width="0.7"/>
<circle cx="333.75" cy="469.08" r="1.0" fill="#c8c8c8"/>
<circle cx="362.00" cy="457.37" r="1.2" fill="#2E6B5A"/>
<text transform="translate(293.60,465.50) rotate(-90)" x="0" y="2.63" font-size="7.3" fill="#2a2a2a" stroke="#2a2a2a" stroke-width="0.3" text-anchor="middle" textLength="21.9" lengthAdjust="spacingAndGlyphs">C3 (g/L)</text>
<text x="349.00" y="427.21" font-size="7.8" fill="#222" stroke="#222" stroke-width="0.12" text-anchor="middle">8-week survival</text>
<line x1="432.50" y1="430.90" x2="432.50" y2="501.00" stroke="#1a1a1a" stroke-width="1.4"/>
<line x1="431.80" y1="500.30" x2="498.00" y2="500.30" stroke="#1a1a1a" stroke-width="1.4"/>
<line x1="429.50" y1="433.40" x2="432.50" y2="433.40" stroke="#1a1a1a" stroke-width="1"/>
<text x="427.20" y="435.60" font-size="6.1" fill="#2a2a2a" stroke="#2a2a2a" stroke-width="0.12" text-anchor="end">1.2</text>
<line x1="429.50" y1="455.70" x2="432.50" y2="455.70" stroke="#1a1a1a" stroke-width="1"/>
<text x="427.20" y="457.90" font-size="6.1" fill="#2a2a2a" stroke="#2a2a2a" stroke-width="0.12" text-anchor="end">0.8</text>
<line x1="429.50" y1="478.00" x2="432.50" y2="478.00" stroke="#1a1a1a" stroke-width="1"/>
<text x="427.20" y="480.20" font-size="6.1" fill="#2a2a2a" stroke="#2a2a2a" stroke-width="0.12" text-anchor="end">0.4</text>
<line x1="429.50" y1="500.30" x2="432.50" y2="500.30" stroke="#1a1a1a" stroke-width="1"/>
<text x="427.20" y="502.50" font-size="6.1" fill="#2a2a2a" stroke="#2a2a2a" stroke-width="0.12" text-anchor="end">0.0</text>
<line x1="451.25" y1="500.30" x2="451.25" y2="502.90" stroke="#1a1a1a" stroke-width="1"/>
<text x="451.25" y="511.26" font-size="6.0" fill="#2a2a2a" stroke="#2a2a2a" stroke-width="0.12" text-anchor="middle">At onset</text>
<line x1="479.50" y1="500.30" x2="479.50" y2="502.90" stroke="#1a1a1a" stroke-width="1"/>
<text x="479.50" y="511.26" font-size="6.0" fill="#2a2a2a" stroke="#2a2a2a" stroke-width="0.12" text-anchor="middle">Post-</text>
<text x="479.50" y="517.56" font-size="6.0" fill="#2a2a2a" stroke="#2a2a2a" stroke-width="0.12" text-anchor="middle">treatment</text>
<line x1="451.25" y1="481.35" x2="451.25" y2="450.12" stroke="#d2d2d2" stroke-width="1.0"/>
<line x1="450.25" y1="450.12" x2="452.25" y2="450.12" stroke="#d2d2d2" stroke-width="0.6"/>
<line x1="450.25" y1="481.35" x2="452.25" y2="481.35" stroke="#d2d2d2" stroke-width="0.6"/>
<line x1="451.25" y1="465.74" x2="479.50" y2="467.96" stroke="#c6c6c6" stroke-width="1.1"/>
<line x1="479.50" y1="478.00" x2="479.50" y2="457.93" stroke="#46786c" stroke-width="0.8"/>
<line x1="478.50" y1="457.93" x2="480.50" y2="457.93" stroke="#2E6B5A" stroke-width="0.7"/>
<line x1="478.50" y1="478.00" x2="480.50" y2="478.00" stroke="#2E6B5A" stroke-width="0.7"/>
<circle cx="451.25" cy="465.74" r="1.0" fill="#c8c8c8"/>
<circle cx="479.50" cy="467.96" r="1.2" fill="#2E6B5A"/>
<text transform="translate(410.80,465.50) rotate(-90)" x="0" y="2.63" font-size="7.3" fill="#2a2a2a" stroke="#2a2a2a" stroke-width="0.3" text-anchor="middle" textLength="21.9" lengthAdjust="spacingAndGlyphs">C3 (g/L)</text>
<text x="466.25" y="427.21" font-size="7.8" fill="#222" stroke="#222" stroke-width="0.12" text-anchor="middle">8-week death</text>
<line x1="197.60" y1="526.80" x2="197.60" y2="596.80" stroke="#1a1a1a" stroke-width="1.4"/>
<line x1="196.90" y1="596.10" x2="263.80" y2="596.10" stroke="#1a1a1a" stroke-width="1.4"/>
<line x1="194.60" y1="529.30" x2="197.60" y2="529.30" stroke="#1a1a1a" stroke-width="1"/>
<text x="192.30" y="531.50" font-size="6.1" fill="#2a2a2a" stroke="#2a2a2a" stroke-width="0.12" text-anchor="end">80</text>
<line x1="194.60" y1="546.00" x2="197.60" y2="546.00" stroke="#1a1a1a" stroke-width="1"/>
<text x="192.30" y="548.20" font-size="6.1" fill="#2a2a2a" stroke="#2a2a2a" stroke-width="0.12" text-anchor="end">40</text>
<line x1="194.60" y1="562.70" x2="197.60" y2="562.70" stroke="#1a1a1a" stroke-width="1"/>
<text x="192.30" y="564.90" font-size="6.1" fill="#2a2a2a" stroke="#2a2a2a" stroke-width="0.12" text-anchor="end">0</text>
<line x1="194.60" y1="579.40" x2="197.60" y2="579.40" stroke="#1a1a1a" stroke-width="1"/>
<text x="192.30" y="581.60" font-size="6.1" fill="#2a2a2a" stroke="#2a2a2a" stroke-width="0.12" text-anchor="end">−40</text>
<line x1="194.60" y1="596.10" x2="197.60" y2="596.10" stroke="#1a1a1a" stroke-width="1"/>
<text x="192.30" y="598.30" font-size="6.1" fill="#2a2a2a" stroke="#2a2a2a" stroke-width="0.12" text-anchor="end">−80</text>
<line x1="197.60" y1="562.70" x2="263.80" y2="562.70" stroke="#333" stroke-width="0.7" stroke-dasharray="1.2,1.2"/>
<line x1="216.25" y1="596.10" x2="216.25" y2="598.70" stroke="#1a1a1a" stroke-width="1"/>
<text x="216.25" y="607.06" font-size="6.0" fill="#2a2a2a" stroke="#2a2a2a" stroke-width="0.12" text-anchor="middle">Pre-onset</text>
<line x1="244.20" y1="596.10" x2="244.20" y2="598.70" stroke="#1a1a1a" stroke-width="1"/>
<text x="244.20" y="607.06" font-size="6.0" fill="#2a2a2a" stroke="#2a2a2a" stroke-width="0.12" text-anchor="middle">At onset</text>
<line x1="216.25" y1="592.76" x2="216.25" y2="562.70" stroke="#d2d2d2" stroke-width="1.0"/>
<line x1="215.25" y1="562.70" x2="217.25" y2="562.70" stroke="#d2d2d2" stroke-width="0.6"/>
<line x1="215.25" y1="592.76" x2="217.25" y2="592.76" stroke="#d2d2d2" stroke-width="0.6"/>
<line x1="216.25" y1="592.76" x2="244.20" y2="560.19" stroke="#c6c6c6" stroke-width="1.1"/>
<line x1="244.20" y1="563.95" x2="244.20" y2="530.13" stroke="#46786c" stroke-width="0.8"/>
<line x1="243.20" y1="530.13" x2="245.20" y2="530.13" stroke="#2E6B5A" stroke-width="0.7"/>
<line x1="243.20" y1="563.95" x2="245.20" y2="563.95" stroke="#2E6B5A" stroke-width="0.7"/>
<circle cx="216.25" cy="592.76" r="1.0" fill="#c8c8c8"/>
<circle cx="244.20" cy="560.19" r="1.2" fill="#2E6B5A"/>
<text transform="translate(173.70,561.40) rotate(-90)" x="0" y="2.84" font-size="7.9" fill="#2a2a2a" stroke="#2a2a2a" stroke-width="0.3" text-anchor="middle" textLength="67.3" lengthAdjust="spacingAndGlyphs">Detection time of C3 (days)</text>
<rect x="151.40" y="601.40" width="35.20" height="8.00" fill="#dadada"/>
<text x="169.00" y="607.70" font-size="6.4" fill="#333" stroke="#333" stroke-width="0.05" text-anchor="middle" textLength="30.0" lengthAdjust="spacingAndGlyphs">HLH stages</text>
<line x1="315.20" y1="526.90" x2="315.20" y2="596.80" stroke="#1a1a1a" stroke-width="1.4"/>
<line x1="314.50" y1="596.10" x2="380.80" y2="596.10" stroke="#1a1a1a" stroke-width="1.4"/>
<line x1="312.20" y1="529.40" x2="315.20" y2="529.40" stroke="#1a1a1a" stroke-width="1"/>
<text x="309.90" y="531.60" font-size="6.1" fill="#2a2a2a" stroke="#2a2a2a" stroke-width="0.12" text-anchor="end">30</text>
<line x1="312.20" y1="546.08" x2="315.20" y2="546.08" stroke="#1a1a1a" stroke-width="1"/>
<text x="309.90" y="548.27" font-size="6.1" fill="#2a2a2a" stroke="#2a2a2a" stroke-width="0.12" text-anchor="end">20</text>
<line x1="312.20" y1="562.75" x2="315.20" y2="562.75" stroke="#1a1a1a" stroke-width="1"/>
<text x="309.90" y="564.95" font-size="6.1" fill="#2a2a2a" stroke="#2a2a2a" stroke-width="0.12" text-anchor="end">10</text>
<line x1="312.20" y1="579.42" x2="315.20" y2="579.42" stroke="#1a1a1a" stroke-width="1"/>
<text x="309.90" y="581.62" font-size="6.1" fill="#2a2a2a" stroke="#2a2a2a" stroke-width="0.12" text-anchor="end">0</text>
<line x1="312.20" y1="596.10" x2="315.20" y2="596.10" stroke="#1a1a1a" stroke-width="1"/>
<text x="309.90" y="598.30" font-size="6.1" fill="#2a2a2a" stroke="#2a2a2a" stroke-width="0.12" text-anchor="end">−10</text>
<line x1="315.20" y1="579.42" x2="380.80" y2="579.42" stroke="#333" stroke-width="0.7" stroke-dasharray="1.2,1.2"/>
<line x1="333.50" y1="596.10" x2="333.50" y2="598.70" stroke="#1a1a1a" stroke-width="1"/>
<text x="333.50" y="607.06" font-size="6.0" fill="#2a2a2a" stroke="#2a2a2a" stroke-width="0.12" text-anchor="middle">At onset</text>
<line x1="362.00" y1="596.10" x2="362.00" y2="598.70" stroke="#1a1a1a" stroke-width="1"/>
<text x="362.00" y="607.06" font-size="6.0" fill="#2a2a2a" stroke="#2a2a2a" stroke-width="0.12" text-anchor="middle">Post-</text>
<text x="362.00" y="613.36" font-size="6.0" fill="#2a2a2a" stroke="#2a2a2a" stroke-width="0.12" text-anchor="middle">treatment</text>
<line x1="333.50" y1="584.43" x2="333.50" y2="549.41" stroke="#d2d2d2" stroke-width="1.0"/>
<line x1="332.50" y1="549.41" x2="334.50" y2="549.41" stroke="#d2d2d2" stroke-width="0.6"/>
<line x1="332.50" y1="584.43" x2="334.50" y2="584.43" stroke="#d2d2d2" stroke-width="0.6"/>
<line x1="333.50" y1="576.09" x2="362.00" y2="535.24" stroke="#c6c6c6" stroke-width="1.1"/>
<line x1="362.00" y1="576.09" x2="362.00" y2="529.40" stroke="#96b3a8" stroke-width="1.8"/>
<line x1="362.00" y1="576.09" x2="362.00" y2="529.40" stroke="#2E6B5A" stroke-width="0.5"/>
<line x1="361.00" y1="529.40" x2="363.00" y2="529.40" stroke="#2E6B5A" stroke-width="0.7"/>
<line x1="361.00" y1="576.09" x2="363.00" y2="576.09" stroke="#2E6B5A" stroke-width="0.7"/>
<circle cx="333.50" cy="576.09" r="1.0" fill="#c8c8c8"/>
<circle cx="362.00" cy="535.24" r="1.2" fill="#2E6B5A"/>
<text transform="translate(291.10,561.40) rotate(-90)" x="0" y="2.84" font-size="7.9" fill="#2a2a2a" stroke="#2a2a2a" stroke-width="0.3" text-anchor="middle" textLength="67.3" lengthAdjust="spacingAndGlyphs">Detection time of C3 (days)</text>
<line x1="432.50" y1="526.90" x2="432.50" y2="596.80" stroke="#1a1a1a" stroke-width="1.4"/>
<line x1="431.80" y1="596.10" x2="498.00" y2="596.10" stroke="#1a1a1a" stroke-width="1.4"/>
<line x1="429.50" y1="529.40" x2="432.50" y2="529.40" stroke="#1a1a1a" stroke-width="1"/>
<text x="427.20" y="531.60" font-size="6.1" fill="#2a2a2a" stroke="#2a2a2a" stroke-width="0.12" text-anchor="end">30</text>
<line x1="429.50" y1="546.08" x2="432.50" y2="546.08" stroke="#1a1a1a" stroke-width="1"/>
<text x="427.20" y="548.27" font-size="6.1" fill="#2a2a2a" stroke="#2a2a2a" stroke-width="0.12" text-anchor="end">20</text>
<line x1="429.50" y1="562.75" x2="432.50" y2="562.75" stroke="#1a1a1a" stroke-width="1"/>
<text x="427.20" y="564.95" font-size="6.1" fill="#2a2a2a" stroke="#2a2a2a" stroke-width="0.12" text-anchor="end">10</text>
<line x1="429.50" y1="579.42" x2="432.50" y2="579.42" stroke="#1a1a1a" stroke-width="1"/>
<text x="427.20" y="581.62" font-size="6.1" fill="#2a2a2a" stroke="#2a2a2a" stroke-width="0.12" text-anchor="end">0</text>
<line x1="429.50" y1="596.10" x2="432.50" y2="596.10" stroke="#1a1a1a" stroke-width="1"/>
<text x="427.20" y="598.30" font-size="6.1" fill="#2a2a2a" stroke="#2a2a2a" stroke-width="0.12" text-anchor="end">−10</text>
<line x1="432.50" y1="579.42" x2="498.00" y2="579.42" stroke="#333" stroke-width="0.7" stroke-dasharray="1.2,1.2"/>
<line x1="451.25" y1="596.10" x2="451.25" y2="598.70" stroke="#1a1a1a" stroke-width="1"/>
<text x="451.25" y="607.06" font-size="6.0" fill="#2a2a2a" stroke="#2a2a2a" stroke-width="0.12" text-anchor="middle">At onset</text>
<line x1="479.50" y1="596.10" x2="479.50" y2="598.70" stroke="#1a1a1a" stroke-width="1"/>
<text x="479.50" y="607.06" font-size="6.0" fill="#2a2a2a" stroke="#2a2a2a" stroke-width="0.12" text-anchor="middle">Post-</text>
<text x="479.50" y="613.36" font-size="6.0" fill="#2a2a2a" stroke="#2a2a2a" stroke-width="0.12" text-anchor="middle">treatment</text>
<line x1="451.25" y1="584.43" x2="451.25" y2="567.75" stroke="#d2d2d2" stroke-width="1.0"/>
<line x1="450.25" y1="567.75" x2="452.25" y2="567.75" stroke="#d2d2d2" stroke-width="0.6"/>
<line x1="450.25" y1="584.43" x2="452.25" y2="584.43" stroke="#d2d2d2" stroke-width="0.6"/>
<line x1="451.25" y1="576.09" x2="479.50" y2="551.08" stroke="#c6c6c6" stroke-width="1.1"/>
<line x1="479.50" y1="571.09" x2="479.50" y2="529.40" stroke="#46786c" stroke-width="0.8"/>
<line x1="478.50" y1="529.40" x2="480.50" y2="529.40" stroke="#2E6B5A" stroke-width="0.7"/>
<line x1="478.50" y1="571.09" x2="480.50" y2="571.09" stroke="#2E6B5A" stroke-width="0.7"/>
<circle cx="451.25" cy="576.09" r="1.0" fill="#c8c8c8"/>
<circle cx="479.50" cy="551.08" r="1.2" fill="#2E6B5A"/>
<text transform="translate(408.40,561.40) rotate(-90)" x="0" y="2.84" font-size="7.9" fill="#2a2a2a" stroke="#2a2a2a" stroke-width="0.3" text-anchor="middle" textLength="67.3" lengthAdjust="spacingAndGlyphs">Detection time of C3 (days)</text>
</g>
<g filter="url(#soft)"><rect x="0" y="0" width="520" height="621" fill="#fff"/>
<text x="7.50" y="15.76" font-size="11" fill="#111" font-weight="bold">A</text>
<line x1="59.60" y1="12.50" x2="59.60" y2="148.90" stroke="#1a1a1a" stroke-width="1.3"/>
<line x1="58.95" y1="148.25" x2="254.50" y2="148.25" stroke="#1a1a1a" stroke-width="1.3"/>
<line x1="56.60" y1="15.00" x2="59.60" y2="15.00" stroke="#1a1a1a" stroke-width="1"/>
<text x="54.20" y="17.16" font-size="6" fill="#2a2a2a" stroke="#2a2a2a" stroke-width="0.12" text-anchor="end">1.00</text>
<line x1="56.60" y1="46.69" x2="59.60" y2="46.69" stroke="#1a1a1a" stroke-width="1"/>
<text x="54.20" y="48.85" font-size="6" fill="#2a2a2a" stroke="#2a2a2a" stroke-width="0.12" text-anchor="end">0.75</text>
<line x1="56.60" y1="78.38" x2="59.60" y2="78.38" stroke="#1a1a1a" stroke-width="1"/>
<text x="54.20" y="80.53" font-size="6" fill="#2a2a2a" stroke="#2a2a2a" stroke-width="0.12" text-anchor="end">0.50</text>
<line x1="56.60" y1="110.06" x2="59.60" y2="110.06" stroke="#1a1a1a" stroke-width="1"/>
<text x="54.20" y="112.22" font-size="6" fill="#2a2a2a" stroke="#2a2a2a" stroke-width="0.12" text-anchor="end">0.25</text>
<line x1="56.60" y1="141.75" x2="59.60" y2="141.75" stroke="#1a1a1a" stroke-width="1"/>
<text x="54.20" y="143.91" font-size="6" fill="#2a2a2a" stroke="#2a2a2a" stroke-width="0.12" text-anchor="end">0.00</text>
<line x1="68.75" y1="148.25" x2="68.75" y2="151.50" stroke="#1a1a1a" stroke-width="1"/>
<text x="68.75" y="159.83" font-size="6.2" fill="#2a2a2a" stroke="#2a2a2a" stroke-width="0.12" text-anchor="middle">0</text>
<line x1="88.14" y1="148.25" x2="88.14" y2="151.50" stroke="#1a1a1a" stroke-width="1"/>
<text x="88.14" y="159.83" font-size="6.2" fill="#2a2a2a" stroke="#2a2a2a" stroke-width="0.12" text-anchor="middle">200</text>
<line x1="107.53" y1="148.25" x2="107.53" y2="151.50" stroke="#1a1a1a" stroke-width="1"/>
<text x="107.53" y="159.83" font-size="6.2" fill="#2a2a2a" stroke="#2a2a2a" stroke-width="0.12" text-anchor="middle">400</text>
<line x1="126.92" y1="148.25" x2="126.92" y2="151.50" stroke="#1a1a1a" stroke-width="1"/>
<text x="126.92" y="159.83" font-size="6.2" fill="#2a2a2a" stroke="#2a2a2a" stroke-width="0.12" text-anchor="middle">600</text>
<line x1="146.31" y1="148.25" x2="146.31" y2="151.50" stroke="#1a1a1a" stroke-width="1"/>
<text x="146.31" y="159.83" font-size="6.2" fill="#2a2a2a" stroke="#2a2a2a" stroke-width="0.12" text-anchor="middle">800</text>
<line x1="165.70" y1="148.25" x2="165.70" y2="151.50" stroke="#1a1a1a" stroke-width="1"/>
<text x="165.70" y="159.83" font-size="6.2" fill="#2a2a2a" stroke="#2a2a2a" stroke-width="0.12" text-anchor="middle">1000</text>
<line x1="185.09" y1="148.25" x2="185.09" y2="151.50" stroke="#1a1a1a" stroke-width="1"/>
<text x="185.09" y="159.83" font-size="6.2" fill="#2a2a2a" stroke="#2a2a2a" stroke-width="0.12" text-anchor="middle">1200</text>
<line x1="204.48" y1="148.25" x2="204.48" y2="151.50" stroke="#1a1a1a" stroke-width="1"/>
<text x="204.48" y="159.83" font-size="6.2" fill="#2a2a2a" stroke="#2a2a2a" stroke-width="0.12" text-anchor="middle">1400</text>
<line x1="223.87" y1="148.25" x2="223.87" y2="151.50" stroke="#1a1a1a" stroke-width="1"/>
<text x="223.87" y="159.83" font-size="6.2" fill="#2a2a2a" stroke="#2a2a2a" stroke-width="0.12" text-anchor="middle">1600</text>
<line x1="243.26" y1="148.25" x2="243.26" y2="151.50" stroke="#1a1a1a" stroke-width="1"/>
<text x="243.26" y="159.83" font-size="6.2" fill="#2a2a2a" stroke="#2a2a2a" stroke-width="0.12" text-anchor="middle">1800</text>
<text x="157.40" y="170.39" font-size="7.2" fill="#2a2a2a" stroke="#2a2a2a" stroke-width="0.3" text-anchor="middle" textLength="29" lengthAdjust="spacingAndGlyphs">Time (days)</text>
<text transform="translate(34.50,80.80) rotate(-90)" x="0" y="2.38" font-size="6.6" fill="#2a2a2a" stroke="#2a2a2a" stroke-width="0.3" text-anchor="middle" textLength="58" lengthAdjust="spacingAndGlyphs">Survival probability (%)</text>
<text x="191.20" y="21.53" font-size="6.2" fill="#2a2a2a" stroke="#2a2a2a" stroke-width="0.12">Group</text>
<line x1="190.60" y1="26.80" x2="199.80" y2="26.80" stroke="#C62048" stroke-width="1.1"/>
<line x1="195.20" y1="25.80" x2="195.20" y2="27.80" stroke="#C62048" stroke-width="0.6"/>
<text x="202.00" y="28.91" font-size="5.85" fill="#2a2a2a" stroke="#2a2a2a" stroke-width="0.12">Infection</text>
<line x1="190.60" y1="33.80" x2="199.80" y2="33.80" stroke="#365F8E" stroke-width="1.1"/>
<line x1="195.20" y1="32.80" x2="195.20" y2="34.80" stroke="#365F8E" stroke-width="0.6"/>
<text x="202.00" y="35.91" font-size="5.85" fill="#2a2a2a" stroke="#2a2a2a" stroke-width="0.12">Malignancy</text>
<line x1="190.60" y1="40.80" x2="199.80" y2="40.80" stroke="#CF3288" stroke-width="1.1"/>
<line x1="195.20" y1="39.80" x2="195.20" y2="41.80" stroke="#CF3288" stroke-width="0.6"/>
<text x="202.00" y="42.91" font-size="5.85" fill="#2a2a2a" stroke="#2a2a2a" stroke-width="0.12">Other causes</text>
<line x1="190.60" y1="47.80" x2="199.80" y2="47.80" stroke="#3F9A40" stroke-width="1.1"/>
<line x1="195.20" y1="46.80" x2="195.20" y2="48.80" stroke="#3F9A40" stroke-width="0.6"/>
<text x="202.00" y="49.91" font-size="5.85" fill="#2a2a2a" stroke="#2a2a2a" stroke-width="0.12">RHD</text>
<line x1="190.60" y1="54.80" x2="199.80" y2="54.80" stroke="#E8A53A" stroke-width="1.1"/>
<line x1="195.20" y1="53.80" x2="195.20" y2="55.80" stroke="#E8A53A" stroke-width="0.6"/>
<text x="202.00" y="56.91" font-size="5.85" fill="#2a2a2a" stroke="#2a2a2a" stroke-width="0.12">Unknown</text>
<line x1="68.75" y1="78.80" x2="88.40" y2="78.80" stroke="#444" stroke-width="0.6" stroke-dasharray="1,1"/>
<line x1="74.20" y1="78.80" x2="74.20" y2="141.75" stroke="#444" stroke-width="0.6" stroke-dasharray="1,1"/>
<line x1="76.10" y1="78.80" x2="76.10" y2="141.75" stroke="#444" stroke-width="0.6" stroke-dasharray="1,1"/>
<line x1="83.20" y1="78.80" x2="83.20" y2="141.75" stroke="#444" stroke-width="0.6" stroke-dasharray="1,1"/>
<line x1="84.40" y1="78.80" x2="84.40" y2="141.75" stroke="#444" stroke-width="0.6" stroke-dasharray="1,1"/>
<line x1="88.40" y1="78.80" x2="88.40" y2="141.75" stroke="#777" stroke-width="0.6"/>
<text x="73.50" y="119.23" font-size="6.2" fill="#2a2a2a" stroke="#2a2a2a" stroke-width="0.12"><tspan font-style="italic">P</tspan> = .00067</text>
<polyline points="68.75,15.00 69.60,28.00 70.30,40.00 70.90,52.00 71.60,62.00 72.20,68.50 72.90,72.60 74.50,77.00 76.70,82.20 79.30,84.20 84.50,84.20 84.50,84.80 89.60,84.80 89.60,85.50 93.50,87.90 129.20,87.90 129.20,89.20 254.00,89.20 254.00,89.20" fill="none" stroke="#C62048" stroke-width="1.25" stroke-linejoin="miter"/>
<polyline points="68.75,15.00 69.80,28.00 70.60,40.00 71.40,52.00 72.20,62.00 72.90,70.00 75.50,78.40 76.10,88.00 79.30,94.50 81.30,96.40 84.50,98.30 87.70,102.90 89.00,104.80 96.00,104.80 96.00,107.40 122.50,107.40 122.50,110.00 149.00,110.00 149.00,120.90 254.00,120.90 254.00,120.90" fill="none" stroke="#365F8E" stroke-width="1.25" stroke-linejoin="miter"/>
<polyline points="68.75,15.00 69.50,28.00 70.20,42.00 70.90,55.00 71.70,69.20 83.00,69.20 83.00,71.20 84.50,78.60 99.80,78.60 99.80,88.00 129.20,88.00 129.20,89.10 242.00,89.10 242.00,115.50 254.00,115.50 254.00,115.50" fill="none" stroke="#CF3288" stroke-width="1.25" stroke-linejoin="miter"/>
<polyline points="68.75,15.00 69.50,22.00 70.00,32.00 71.50,34.00 72.80,37.00 73.50,44.00 74.00,49.00 76.80,50.40 78.80,53.30 133.00,53.30 133.00,58.00 140.50,58.00 140.50,61.90 254.00,61.90 254.00,61.90" fill="none" stroke="#3F9A40" stroke-width="1.25" stroke-linejoin="miter"/>
<polyline points="68.75,15.00 69.30,25.00 69.90,38.00 70.60,52.00 71.30,62.00 72.00,69.20 78.80,69.20 78.80,74.00 88.30,74.00 88.30,80.60 254.00,80.60 254.00,80.60" fill="none" stroke="#E8A53A" stroke-width="1.25" stroke-linejoin="miter"/>
<line x1="82.00" y1="52.20" x2="82.00" y2="54.40" stroke="#3F9A40" stroke-width="0.7"/>
<line x1="86.00" y1="52.20" x2="86.00" y2="54.40" stroke="#3F9A40" stroke-width="0.7"/>
<line x1="92.00" y1="52.20" x2="92.00" y2="54.40" stroke="#3F9A40" stroke-width="0.7"/>
<line x1="96.00" y1="52.20" x2="96.00" y2="54.40" stroke="#3F9A40" stroke-width="0.7"/>
<line x1="103.00" y1="52.20" x2="103.00" y2="54.40" stroke="#3F9A40" stroke-width="0.7"/>
<line x1="108.00" y1="52.20" x2="108.00" y2="54.40" stroke="#3F9A40" stroke-width="0.7"/>
<line x1="118.00" y1="52.20" x2="118.00" y2="54.40" stroke="#3F9A40" stroke-width="0.7"/>
<line x1="125.00" y1="52.20" x2="125.00" y2="54.40" stroke="#3F9A40" stroke-width="0.7"/>
<line x1="145.00" y1="60.80" x2="145.00" y2="63.00" stroke="#3F9A40" stroke-width="0.7"/>
<line x1="160.00" y1="60.80" x2="160.00" y2="63.00" stroke="#3F9A40" stroke-width="0.7"/>
<line x1="175.00" y1="60.80" x2="175.00" y2="63.00" stroke="#3F9A40" stroke-width="0.7"/>
<line x1="190.00" y1="60.80" x2="190.00" y2="63.00" stroke="#3F9A40" stroke-width="0.7"/>
<line x1="205.00" y1="60.80" x2="205.00" y2="63.00" stroke="#3F9A40" stroke-width="0.7"/>
<line x1="218.00" y1="60.80" x2="218.00" y2="63.00" stroke="#3F9A40" stroke-width="0.7"/>
<line x1="230.00" y1="60.80" x2="230.00" y2="63.00" stroke="#3F9A40" stroke-width="0.7"/>
<line x1="240.00" y1="60.80" x2="240.00" y2="63.00" stroke="#3F9A40" stroke-width="0.7"/>
<line x1="250.00" y1="60.80" x2="250.00" y2="63.00" stroke="#3F9A40" stroke-width="0.7"/>
<line x1="92.00" y1="79.50" x2="92.00" y2="81.70" stroke="#E8A53A" stroke-width="0.7"/>
<line x1="96.00" y1="79.50" x2="96.00" y2="81.70" stroke="#E8A53A" stroke-width="0.7"/>
<line x1="100.00" y1="79.50" x2="100.00" y2="81.70" stroke="#E8A53A" stroke-width="0.7"/>
<line x1="108.00" y1="79.50" x2="108.00" y2="81.70" stroke="#E8A53A" stroke-width="0.7"/>
<line x1="116.00" y1="79.50" x2="116.00" y2="81.70" stroke="#E8A53A" stroke-width="0.7"/>
<line x1="225.00" y1="79.50" x2="225.00" y2="81.70" stroke="#E8A53A" stroke-width="0.7"/>
<line x1="103.00" y1="86.80" x2="103.00" y2="89.00" stroke="#C62048" stroke-width="0.7"/>
<line x1="106.00" y1="86.80" x2="106.00" y2="89.00" stroke="#C62048" stroke-width="0.7"/>
<line x1="110.00" y1="86.80" x2="110.00" y2="89.00" stroke="#C62048" stroke-width="0.7"/>
<line x1="114.00" y1="86.80" x2="114.00" y2="89.00" stroke="#C62048" stroke-width="0.7"/>
<line x1="118.00" y1="86.80" x2="118.00" y2="89.00" stroke="#C62048" stroke-width="0.7"/>
<line x1="122.00" y1="86.80" x2="122.00" y2="89.00" stroke="#C62048" stroke-width="0.7"/>
<line x1="126.00" y1="86.80" x2="126.00" y2="89.00" stroke="#C62048" stroke-width="0.7"/>
<line x1="132.00" y1="88.10" x2="132.00" y2="90.30" stroke="#C62048" stroke-width="0.7"/>
<line x1="138.00" y1="88.10" x2="138.00" y2="90.30" stroke="#C62048" stroke-width="0.7"/>
<line x1="144.00" y1="88.10" x2="144.00" y2="90.30" stroke="#C62048" stroke-width="0.7"/>
<line x1="150.00" y1="88.10" x2="150.00" y2="90.30" stroke="#C62048" stroke-width="0.7"/>
<line x1="156.00" y1="88.10" x2="156.00" y2="90.30" stroke="#C62048" stroke-width="0.7"/>
<line x1="162.00" y1="88.10" x2="162.00" y2="90.30" stroke="#C62048" stroke-width="0.7"/>
<line x1="174.00" y1="88.10" x2="174.00" y2="90.30" stroke="#C62048" stroke-width="0.7"/>
<line x1="180.00" y1="88.10" x2="180.00" y2="90.30" stroke="#C62048" stroke-width="0.7"/>
<line x1="185.00" y1="88.10" x2="185.00" y2="90.30" stroke="#C62048" stroke-width="0.7"/>
<line x1="190.00" y1="88.10" x2="190.00" y2="90.30" stroke="#C62048" stroke-width="0.7"/>
<line x1="212.00" y1="88.10" x2="212.00" y2="90.30" stroke="#C62048" stroke-width="0.7"/>
<line x1="222.00" y1="88.10" x2="222.00" y2="90.30" stroke="#C62048" stroke-width="0.7"/>
<line x1="228.00" y1="88.10" x2="228.00" y2="90.30" stroke="#C62048" stroke-width="0.7"/>
<line x1="236.00" y1="88.10" x2="236.00" y2="90.30" stroke="#C62048" stroke-width="0.7"/>
<line x1="246.00" y1="88.10" x2="246.00" y2="90.30" stroke="#C62048" stroke-width="0.7"/>
<line x1="250.00" y1="88.10" x2="250.00" y2="90.30" stroke="#C62048" stroke-width="0.7"/>
<line x1="102.00" y1="86.90" x2="102.00" y2="89.10" stroke="#CF3288" stroke-width="0.7"/>
<line x1="112.00" y1="86.90" x2="112.00" y2="89.10" stroke="#CF3288" stroke-width="0.7"/>
<line x1="99.00" y1="106.30" x2="99.00" y2="108.50" stroke="#365F8E" stroke-width="0.7"/>
<line x1="103.00" y1="106.30" x2="103.00" y2="108.50" stroke="#365F8E" stroke-width="0.7"/>
<line x1="106.00" y1="106.30" x2="106.00" y2="108.50" stroke="#365F8E" stroke-width="0.7"/>
<line x1="110.00" y1="106.30" x2="110.00" y2="108.50" stroke="#365F8E" stroke-width="0.7"/>
<line x1="114.00" y1="106.30" x2="114.00" y2="108.50" stroke="#365F8E" stroke-width="0.7"/>
<line x1="118.00" y1="106.30" x2="118.00" y2="108.50" stroke="#365F8E" stroke-width="0.7"/>
<line x1="125.00" y1="108.90" x2="125.00" y2="111.10" stroke="#365F8E" stroke-width="0.7"/>
<line x1="130.00" y1="108.90" x2="130.00" y2="111.10" stroke="#365F8E" stroke-width="0.7"/>
<line x1="134.00" y1="108.90" x2="134.00" y2="111.10" stroke="#365F8E" stroke-width="0.7"/>
<line x1="138.00" y1="108.90" x2="138.00" y2="111.10" stroke="#365F8E" stroke-width="0.7"/>
<line x1="142.00" y1="108.90" x2="142.00" y2="111.10" stroke="#365F8E" stroke-width="0.7"/>
<line x1="152.00" y1="119.80" x2="152.00" y2="122.00" stroke="#365F8E" stroke-width="0.7"/>
<text x="59.70" y="180.73" font-size="6.2" fill="#2a2a2a" stroke="#2a2a2a" stroke-width="0.12" textLength="37.7" lengthAdjust="spacingAndGlyphs">Number at risk</text>
<line x1="59.60" y1="184.50" x2="59.60" y2="221.60" stroke="#1a1a1a" stroke-width="1.3"/>
<line x1="58.95" y1="221.00" x2="254.50" y2="221.00" stroke="#1a1a1a" stroke-width="1.3"/>
<text x="54.00" y="190.09" font-size="5.8" fill="#D43D65" stroke="#D43D65" stroke-width="0.12" text-anchor="end">Infection</text>
<line x1="56.60" y1="188.00" x2="59.60" y2="188.00" stroke="#1a1a1a" stroke-width="1"/>
<text x="68.75" y="190.23" font-size="6.2" fill="#2a2a2a" stroke="#2a2a2a" stroke-width="0.12" text-anchor="middle">180</text>
<text x="88.14" y="190.23" font-size="6.2" fill="#2a2a2a" stroke="#2a2a2a" stroke-width="0.12" text-anchor="middle">59</text>
<text x="107.53" y="190.23" font-size="6.2" fill="#2a2a2a" stroke="#2a2a2a" stroke-width="0.12" text-anchor="middle">52</text>
<text x="126.92" y="190.23" font-size="6.2" fill="#2a2a2a" stroke="#2a2a2a" stroke-width="0.12" text-anchor="middle">45</text>
<text x="146.31" y="190.23" font-size="6.2" fill="#2a2a2a" stroke="#2a2a2a" stroke-width="0.12" text-anchor="middle">38</text>
<text x="165.70" y="190.23" font-size="6.2" fill="#2a2a2a" stroke="#2a2a2a" stroke-width="0.12" text-anchor="middle">31</text>
<text x="185.09" y="190.23" font-size="6.2" fill="#2a2a2a" stroke="#2a2a2a" stroke-width="0.12" text-anchor="middle">27</text>
<text x="204.48" y="190.23" font-size="6.2" fill="#2a2a2a" stroke="#2a2a2a" stroke-width="0.12" text-anchor="middle">26</text>
<text x="223.87" y="190.23" font-size="6.2" fill="#2a2a2a" stroke="#2a2a2a" stroke-width="0.12" text-anchor="middle">24</text>
<text x="243.26" y="190.23" font-size="6.2" fill="#2a2a2a" stroke="#2a2a2a" stroke-width="0.12" text-anchor="middle">21</text>
<text x="54.00" y="197.19" font-size="5.8" fill="#3F6D92" stroke="#3F6D92" stroke-width="0.12" text-anchor="end">Malignancy</text>
<line x1="56.60" y1="195.10" x2="59.60" y2="195.10" stroke="#1a1a1a" stroke-width="1"/>
<text x="68.75" y="197.33" font-size="6.2" fill="#2a2a2a" stroke="#2a2a2a" stroke-width="0.12" text-anchor="middle">83</text>
<text x="88.14" y="197.33" font-size="6.2" fill="#2a2a2a" stroke="#2a2a2a" stroke-width="0.12" text-anchor="middle">22</text>
<text x="107.53" y="197.33" font-size="6.2" fill="#2a2a2a" stroke="#2a2a2a" stroke-width="0.12" text-anchor="middle">16</text>
<text x="126.92" y="197.33" font-size="6.2" fill="#2a2a2a" stroke="#2a2a2a" stroke-width="0.12" text-anchor="middle">10</text>
<text x="146.31" y="197.33" font-size="6.2" fill="#2a2a2a" stroke="#2a2a2a" stroke-width="0.12" text-anchor="middle">4</text>
<text x="165.70" y="197.33" font-size="6.2" fill="#2a2a2a" stroke="#2a2a2a" stroke-width="0.12" text-anchor="middle">1</text>
<text x="185.09" y="197.33" font-size="6.2" fill="#2a2a2a" stroke="#2a2a2a" stroke-width="0.12" text-anchor="middle">1</text>
<text x="204.48" y="197.33" font-size="6.2" fill="#2a2a2a" stroke="#2a2a2a" stroke-width="0.12" text-anchor="middle">1</text>
<text x="223.87" y="197.33" font-size="6.2" fill="#2a2a2a" stroke="#2a2a2a" stroke-width="0.12" text-anchor="middle">1</text>
<text x="243.26" y="197.33" font-size="6.2" fill="#2a2a2a" stroke="#2a2a2a" stroke-width="0.12" text-anchor="middle">1</text>
<text x="54.00" y="204.29" font-size="5.8" fill="#DC4C9C" stroke="#DC4C9C" stroke-width="0.12" text-anchor="end">Other causes</text>
<line x1="56.60" y1="202.20" x2="59.60" y2="202.20" stroke="#1a1a1a" stroke-width="1"/>
<text x="68.75" y="204.43" font-size="6.2" fill="#2a2a2a" stroke="#2a2a2a" stroke-width="0.12" text-anchor="middle">17</text>
<text x="88.14" y="204.43" font-size="6.2" fill="#2a2a2a" stroke="#2a2a2a" stroke-width="0.12" text-anchor="middle">7</text>
<text x="107.53" y="204.43" font-size="6.2" fill="#2a2a2a" stroke="#2a2a2a" stroke-width="0.12" text-anchor="middle">5</text>
<text x="126.92" y="204.43" font-size="6.2" fill="#2a2a2a" stroke="#2a2a2a" stroke-width="0.12" text-anchor="middle">5</text>
<text x="146.31" y="204.43" font-size="6.2" fill="#2a2a2a" stroke="#2a2a2a" stroke-width="0.12" text-anchor="middle">5</text>
<text x="165.70" y="204.43" font-size="6.2" fill="#2a2a2a" stroke="#2a2a2a" stroke-width="0.12" text-anchor="middle">4</text>
<text x="185.09" y="204.43" font-size="6.2" fill="#2a2a2a" stroke="#2a2a2a" stroke-width="0.12" text-anchor="middle">4</text>
<text x="204.48" y="204.43" font-size="6.2" fill="#2a2a2a" stroke="#2a2a2a" stroke-width="0.12" text-anchor="middle">4</text>
<text x="223.87" y="204.43" font-size="6.2" fill="#2a2a2a" stroke="#2a2a2a" stroke-width="0.12" text-anchor="middle">3</text>
<text x="243.26" y="204.43" font-size="6.2" fill="#2a2a2a" stroke="#2a2a2a" stroke-width="0.12" text-anchor="middle">1</text>
<text x="54.00" y="211.39" font-size="5.8" fill="#55B055" stroke="#55B055" stroke-width="0.12" text-anchor="end">RHD</text>
<line x1="56.60" y1="209.30" x2="59.60" y2="209.30" stroke="#1a1a1a" stroke-width="1"/>
<text x="68.75" y="211.53" font-size="6.2" fill="#2a2a2a" stroke="#2a2a2a" stroke-width="0.12" text-anchor="middle">67</text>
<text x="88.14" y="211.53" font-size="6.2" fill="#2a2a2a" stroke="#2a2a2a" stroke-width="0.12" text-anchor="middle">34</text>
<text x="107.53" y="211.53" font-size="6.2" fill="#2a2a2a" stroke="#2a2a2a" stroke-width="0.12" text-anchor="middle">30</text>
<text x="126.92" y="211.53" font-size="6.2" fill="#2a2a2a" stroke="#2a2a2a" stroke-width="0.12" text-anchor="middle">22</text>
<text x="146.31" y="211.53" font-size="6.2" fill="#2a2a2a" stroke="#2a2a2a" stroke-width="0.12" text-anchor="middle">19</text>
<text x="165.70" y="211.53" font-size="6.2" fill="#2a2a2a" stroke="#2a2a2a" stroke-width="0.12" text-anchor="middle">17</text>
<text x="185.09" y="211.53" font-size="6.2" fill="#2a2a2a" stroke="#2a2a2a" stroke-width="0.12" text-anchor="middle">14</text>
<text x="204.48" y="211.53" font-size="6.2" fill="#2a2a2a" stroke="#2a2a2a" stroke-width="0.12" text-anchor="middle">14</text>
<text x="223.87" y="211.53" font-size="6.2" fill="#2a2a2a" stroke="#2a2a2a" stroke-width="0.12" text-anchor="middle">14</text>
<text x="243.26" y="211.53" font-size="6.2" fill="#2a2a2a" stroke="#2a2a2a" stroke-width="0.12" text-anchor="middle">12</text>
<text x="54.00" y="218.49" font-size="5.8" fill="#EDB865" stroke="#EDB865" stroke-width="0.12" text-anchor="end">Unknown</text>
<line x1="56.60" y1="216.40" x2="59.60" y2="216.40" stroke="#1a1a1a" stroke-width="1"/>
<text x="68.75" y="218.63" font-size="6.2" fill="#2a2a2a" stroke="#2a2a2a" stroke-width="0.12" text-anchor="middle">34</text>
<text x="88.14" y="218.63" font-size="6.2" fill="#2a2a2a" stroke="#2a2a2a" stroke-width="0.12" text-anchor="middle">11</text>
<text x="107.53" y="218.63" font-size="6.2" fill="#2a2a2a" stroke="#2a2a2a" stroke-width="0.12" text-anchor="middle">9</text>
<text x="126.92" y="218.63" font-size="6.2" fill="#2a2a2a" stroke="#2a2a2a" stroke-width="0.12" text-anchor="middle">8</text>
<text x="146.31" y="218.63" font-size="6.2" fill="#2a2a2a" stroke="#2a2a2a" stroke-width="0.12" text-anchor="middle">5</text>
<text x="165.70" y="218.63" font-size="6.2" fill="#2a2a2a" stroke="#2a2a2a" stroke-width="0.12" text-anchor="middle">5</text>
<text x="185.09" y="218.63" font-size="6.2" fill="#2a2a2a" stroke="#2a2a2a" stroke-width="0.12" text-anchor="middle">5</text>
<text x="204.48" y="218.63" font-size="6.2" fill="#2a2a2a" stroke="#2a2a2a" stroke-width="0.12" text-anchor="middle">5</text>
<text x="223.87" y="218.63" font-size="6.2" fill="#2a2a2a" stroke="#2a2a2a" stroke-width="0.12" text-anchor="middle">5</text>
<text x="243.26" y="218.63" font-size="6.2" fill="#2a2a2a" stroke="#2a2a2a" stroke-width="0.12" text-anchor="middle">4</text>
<line x1="68.75" y1="221.00" x2="68.75" y2="224.20" stroke="#1a1a1a" stroke-width="1"/>
<text x="68.75" y="232.83" font-size="6.2" fill="#2a2a2a" stroke="#2a2a2a" stroke-width="0.12" text-anchor="middle">0</text>
<line x1="88.14" y1="221.00" x2="88.14" y2="224.20" stroke="#1a1a1a" stroke-width="1"/>
<text x="88.14" y="232.83" font-size="6.2" fill="#2a2a2a" stroke="#2a2a2a" stroke-width="0.12" text-anchor="middle">200</text>
<line x1="107.53" y1="221.00" x2="107.53" y2="224.20" stroke="#1a1a1a" stroke-width="1"/>
<text x="107.53" y="232.83" font-size="6.2" fill="#2a2a2a" stroke="#2a2a2a" stroke-width="0.12" text-anchor="middle">400</text>
<line x1="126.92" y1="221.00" x2="126.92" y2="224.20" stroke="#1a1a1a" stroke-width="1"/>
<text x="126.92" y="232.83" font-size="6.2" fill="#2a2a2a" stroke="#2a2a2a" stroke-width="0.12" text-anchor="middle">600</text>
<line x1="146.31" y1="221.00" x2="146.31" y2="224.20" stroke="#1a1a1a" stroke-width="1"/>
<text x="146.31" y="232.83" font-size="6.2" fill="#2a2a2a" stroke="#2a2a2a" stroke-width="0.12" text-anchor="middle">800</text>
<line x1="165.70" y1="221.00" x2="165.70" y2="224.20" stroke="#1a1a1a" stroke-width="1"/>
<text x="165.70" y="232.83" font-size="6.2" fill="#2a2a2a" stroke="#2a2a2a" stroke-width="0.12" text-anchor="middle">1000</text>
<line x1="185.09" y1="221.00" x2="185.09" y2="224.20" stroke="#1a1a1a" stroke-width="1"/>
<text x="185.09" y="232.83" font-size="6.2" fill="#2a2a2a" stroke="#2a2a2a" stroke-width="0.12" text-anchor="middle">1200</text>
<line x1="204.48" y1="221.00" x2="204.48" y2="224.20" stroke="#1a1a1a" stroke-width="1"/>
<text x="204.48" y="232.83" font-size="6.2" fill="#2a2a2a" stroke="#2a2a2a" stroke-width="0.12" text-anchor="middle">1400</text>
<line x1="223.87" y1="221.00" x2="223.87" y2="224.20" stroke="#1a1a1a" stroke-width="1"/>
<text x="223.87" y="232.83" font-size="6.2" fill="#2a2a2a" stroke="#2a2a2a" stroke-width="0.12" text-anchor="middle">1600</text>
<line x1="243.26" y1="221.00" x2="243.26" y2="224.20" stroke="#1a1a1a" stroke-width="1"/>
<text x="243.26" y="232.83" font-size="6.2" fill="#2a2a2a" stroke="#2a2a2a" stroke-width="0.12" text-anchor="middle">1800</text>
<text x="157.40" y="242.89" font-size="7.2" fill="#2a2a2a" stroke="#2a2a2a" stroke-width="0.3" text-anchor="middle" textLength="29" lengthAdjust="spacingAndGlyphs">Time (days)</text>
<text transform="translate(11.50,203.80) rotate(-90)" x="0" y="2.59" font-size="7.2" fill="#2a2a2a" stroke="#2a2a2a" stroke-width="0.3" text-anchor="middle" textLength="14" lengthAdjust="spacingAndGlyphs">Group</text>
<text x="277.50" y="15.76" font-size="11" fill="#111" font-weight="bold">B</text>
<line x1="316.60" y1="12.50" x2="316.60" y2="148.90" stroke="#1a1a1a" stroke-width="1.3"/>
<line x1="315.95" y1="148.25" x2="512.00" y2="148.25" stroke="#1a1a1a" stroke-width="1.3"/>
<line x1="313.60" y1="15.00" x2="316.60" y2="15.00" stroke="#1a1a1a" stroke-width="1"/>
<text x="311.60" y="17.16" font-size="6" fill="#2a2a2a" stroke="#2a2a2a" stroke-width="0.12" text-anchor="end">1.00</text>
<line x1="313.60" y1="46.69" x2="316.60" y2="46.69" stroke="#1a1a1a" stroke-width="1"/>
<text x="311.60" y="48.85" font-size="6" fill="#2a2a2a" stroke="#2a2a2a" stroke-width="0.12" text-anchor="end">0.75</text>
<line x1="313.60" y1="78.38" x2="316.60" y2="78.38" stroke="#1a1a1a" stroke-width="1"/>
<text x="311.60" y="80.53" font-size="6" fill="#2a2a2a" stroke="#2a2a2a" stroke-width="0.12" text-anchor="end">0.50</text>
<line x1="313.60" y1="110.06" x2="316.60" y2="110.06" stroke="#1a1a1a" stroke-width="1"/>
<text x="311.60" y="112.22" font-size="6" fill="#2a2a2a" stroke="#2a2a2a" stroke-width="0.12" text-anchor="end">0.25</text>
<line x1="313.60" y1="141.75" x2="316.60" y2="141.75" stroke="#1a1a1a" stroke-width="1"/>
<text x="311.60" y="143.91" font-size="6" fill="#2a2a2a" stroke="#2a2a2a" stroke-width="0.12" text-anchor="end">0.00</text>
<line x1="325.50" y1="148.25" x2="325.50" y2="151.50" stroke="#1a1a1a" stroke-width="1"/>
<text x="325.50" y="159.83" font-size="6.2" fill="#2a2a2a" stroke="#2a2a2a" stroke-width="0.12" text-anchor="middle">0</text>
<line x1="344.89" y1="148.25" x2="344.89" y2="151.50" stroke="#1a1a1a" stroke-width="1"/>
<text x="344.89" y="159.83" font-size="6.2" fill="#2a2a2a" stroke="#2a2a2a" stroke-width="0.12" text-anchor="middle">200</text>
<line x1="364.28" y1="148.25" x2="364.28" y2="151.50" stroke="#1a1a1a" stroke-width="1"/>
<text x="364.28" y="159.83" font-size="6.2" fill="#2a2a2a" stroke="#2a2a2a" stroke-width="0.12" text-anchor="middle">400</text>
<line x1="383.67" y1="148.25" x2="383.67" y2="151.50" stroke="#1a1a1a" stroke-width="1"/>
<text x="383.67" y="159.83" font-size="6.2" fill="#2a2a2a" stroke="#2a2a2a" stroke-width="0.12" text-anchor="middle">600</text>
<line x1="403.06" y1="148.25" x2="403.06" y2="151.50" stroke="#1a1a1a" stroke-width="1"/>
<text x="403.06" y="159.83" font-size="6.2" fill="#2a2a2a" stroke="#2a2a2a" stroke-width="0.12" text-anchor="middle">800</text>
<line x1="422.45" y1="148.25" x2="422.45" y2="151.50" stroke="#1a1a1a" stroke-width="1"/>
<text x="422.45" y="159.83" font-size="6.2" fill="#2a2a2a" stroke="#2a2a2a" stroke-width="0.12" text-anchor="middle">1000</text>
<line x1="441.84" y1="148.25" x2="441.84" y2="151.50" stroke="#1a1a1a" stroke-width="1"/>
<text x="441.84" y="159.83" font-size="6.2" fill="#2a2a2a" stroke="#2a2a2a" stroke-width="0.12" text-anchor="middle">1200</text>
<line x1="461.23" y1="148.25" x2="461.23" y2="151.50" stroke="#1a1a1a" stroke-width="1"/>
<text x="461.23" y="159.83" font-size="6.2" fill="#2a2a2a" stroke="#2a2a2a" stroke-width="0.12" text-anchor="middle">1400</text>
<line x1="480.62" y1="148.25" x2="480.62" y2="151.50" stroke="#1a1a1a" stroke-width="1"/>
<text x="480.62" y="159.83" font-size="6.2" fill="#2a2a2a" stroke="#2a2a2a" stroke-width="0.12" text-anchor="middle">1600</text>
<line x1="500.01" y1="148.25" x2="500.01" y2="151.50" stroke="#1a1a1a" stroke-width="1"/>
<text x="500.01" y="159.83" font-size="6.2" fill="#2a2a2a" stroke="#2a2a2a" stroke-width="0.12" text-anchor="middle">1800</text>
<text x="414.20" y="170.39" font-size="7.2" fill="#2a2a2a" stroke="#2a2a2a" stroke-width="0.3" text-anchor="middle" textLength="29" lengthAdjust="spacingAndGlyphs">Time (days)</text>
<text transform="translate(291.30,80.80) rotate(-90)" x="0" y="2.38" font-size="6.6" fill="#2a2a2a" stroke="#2a2a2a" stroke-width="0.3" text-anchor="middle" textLength="58" lengthAdjust="spacingAndGlyphs">Survival probability (%)</text>
<text x="448.00" y="21.83" font-size="6.2" fill="#2a2a2a" stroke="#2a2a2a" stroke-width="0.12">Group</text>
<line x1="447.50" y1="27.20" x2="456.50" y2="27.20" stroke="#2BA8DF" stroke-width="1"/>
<line x1="452.00" y1="26.20" x2="452.00" y2="28.20" stroke="#2BA8DF" stroke-width="0.6"/>
<text x="458.80" y="29.43" font-size="6.2" fill="#2a2a2a" stroke="#2a2a2a" stroke-width="0.12">High C3</text>
<line x1="447.50" y1="34.30" x2="456.50" y2="34.30" stroke="#B8B885" stroke-width="1"/>
<line x1="452.00" y1="33.30" x2="452.00" y2="35.30" stroke="#B8B885" stroke-width="0.6"/>
<text x="458.80" y="36.53" font-size="6.2" fill="#2a2a2a" stroke="#2a2a2a" stroke-width="0.12">Low C3</text>
<line x1="325.20" y1="78.40" x2="331.20" y2="78.40" stroke="#667" stroke-width="0.6" stroke-dasharray="1,1"/>
<line x1="331.20" y1="78.40" x2="331.20" y2="141.75" stroke="#444" stroke-width="0.6" stroke-dasharray="1,1"/>
<text x="332.30" y="119.03" font-size="6.2" fill="#2a2a2a" stroke="#2a2a2a" stroke-width="0.12"><tspan font-style="italic">P</tspan> = .00099</text>
<polyline points="325.60,15.50 326.20,28.00 326.90,42.20 328.00,58.30 329.30,71.20 330.90,78.40 333.30,83.30 337.30,87.30 342.20,89.70 348.60,92.10 355.00,92.60 382.50,92.60 382.50,93.60 390.00,94.50 405.00,94.50 405.00,96.25 498.75,96.25 498.75,96.25 498.75,98.00 511.50,98.00 511.50,98.00" fill="none" stroke="#B8B885" stroke-width="1.2" stroke-linejoin="miter"/>
<polyline points="325.60,15.50 326.20,26.00 326.90,34.20 328.00,42.20 329.00,48.60 329.60,53.50 331.70,56.70 334.10,58.30 336.50,60.70 340.50,60.70 340.50,61.50 343.80,61.50 343.80,63.10 346.20,65.60 350.20,65.60 350.20,66.40 352.60,68.00 511.50,68.00 511.50,68.00" fill="none" stroke="#2BA8DF" stroke-width="1.2" stroke-linejoin="miter"/>
<line x1="356.00" y1="66.90" x2="356.00" y2="69.10" stroke="#2BA8DF" stroke-width="0.7"/>
<line x1="360.00" y1="66.90" x2="360.00" y2="69.10" stroke="#2BA8DF" stroke-width="0.7"/>
<line x1="364.00" y1="66.90" x2="364.00" y2="69.10" stroke="#2BA8DF" stroke-width="0.7"/>
<line x1="366.00" y1="66.90" x2="366.00" y2="69.10" stroke="#2BA8DF" stroke-width="0.7"/>
<line x1="369.00" y1="66.90" x2="369.00" y2="69.10" stroke="#2BA8DF" stroke-width="0.7"/>
<line x1="372.00" y1="66.90" x2="372.00" y2="69.10" stroke="#2BA8DF" stroke-width="0.7"/>
<line x1="378.00" y1="66.90" x2="378.00" y2="69.10" stroke="#2BA8DF" stroke-width="0.7"/>
<line x1="390.00" y1="66.90" x2="390.00" y2="69.10" stroke="#2BA8DF" stroke-width="0.7"/>
<line x1="395.00" y1="66.90" x2="395.00" y2="69.10" stroke="#2BA8DF" stroke-width="0.7"/>
<line x1="400.00" y1="66.90" x2="400.00" y2="69.10" stroke="#2BA8DF" stroke-width="0.7"/>
<line x1="408.00" y1="66.90" x2="408.00" y2="69.10" stroke="#2BA8DF" stroke-width="0.7"/>
<line x1="418.00" y1="66.90" x2="418.00" y2="69.10" stroke="#2BA8DF" stroke-width="0.7"/>
<line x1="423.00" y1="66.90" x2="423.00" y2="69.10" stroke="#2BA8DF" stroke-width="0.7"/>
<line x1="468.00" y1="66.90" x2="468.00" y2="69.10" stroke="#2BA8DF" stroke-width="0.7"/>
<line x1="476.00" y1="66.90" x2="476.00" y2="69.10" stroke="#2BA8DF" stroke-width="0.7"/>
<line x1="486.00" y1="66.90" x2="486.00" y2="69.10" stroke="#2BA8DF" stroke-width="0.7"/>
<line x1="489.00" y1="66.90" x2="489.00" y2="69.10" stroke="#2BA8DF" stroke-width="0.7"/>
<line x1="492.00" y1="66.90" x2="492.00" y2="69.10" stroke="#2BA8DF" stroke-width="0.7"/>
<line x1="510.00" y1="66.90" x2="510.00" y2="69.10" stroke="#2BA8DF" stroke-width="0.7"/>
<line x1="360.00" y1="91.50" x2="360.00" y2="93.70" stroke="#B8B885" stroke-width="0.7"/>
<line x1="370.00" y1="91.50" x2="370.00" y2="93.70" stroke="#B8B885" stroke-width="0.7"/>
<line x1="392.00" y1="93.40" x2="392.00" y2="95.60" stroke="#B8B885" stroke-width="0.7"/>
<line x1="400.00" y1="93.40" x2="400.00" y2="95.60" stroke="#B8B885" stroke-width="0.7"/>
<line x1="410.00" y1="95.15" x2="410.00" y2="97.35" stroke="#B8B885" stroke-width="0.7"/>
<line x1="418.00" y1="95.15" x2="418.00" y2="97.35" stroke="#B8B885" stroke-width="0.7"/>
<line x1="430.00" y1="95.15" x2="430.00" y2="97.35" stroke="#B8B885" stroke-width="0.7"/>
<line x1="440.00" y1="95.15" x2="440.00" y2="97.35" stroke="#B8B885" stroke-width="0.7"/>
<line x1="460.00" y1="95.15" x2="460.00" y2="97.35" stroke="#B8B885" stroke-width="0.7"/>
<line x1="482.00" y1="95.15" x2="482.00" y2="97.35" stroke="#B8B885" stroke-width="0.7"/>
<line x1="484.00" y1="95.15" x2="484.00" y2="97.35" stroke="#B8B885" stroke-width="0.7"/>
<line x1="500.00" y1="96.90" x2="500.00" y2="99.10" stroke="#B8B885" stroke-width="0.7"/>
<line x1="505.00" y1="96.90" x2="505.00" y2="99.10" stroke="#B8B885" stroke-width="0.7"/>
<line x1="509.00" y1="96.90" x2="509.00" y2="99.10" stroke="#B8B885" stroke-width="0.7"/>
<text x="316.80" y="181.03" font-size="6.2" fill="#2a2a2a" stroke="#2a2a2a" stroke-width="0.12" textLength="37.7" lengthAdjust="spacingAndGlyphs">Number at risk</text>
<line x1="316.60" y1="184.50" x2="316.60" y2="200.00" stroke="#1a1a1a" stroke-width="1.3"/>
<line x1="315.95" y1="199.50" x2="512.00" y2="199.50" stroke="#1a1a1a" stroke-width="1.3"/>
<text x="311.30" y="190.12" font-size="5.9" fill="#55BBE6" stroke="#55BBE6" stroke-width="0.12" text-anchor="end">High C3</text>
<line x1="313.60" y1="188.00" x2="316.60" y2="188.00" stroke="#1a1a1a" stroke-width="1"/>
<text x="325.50" y="190.23" font-size="6.2" fill="#2a2a2a" stroke="#2a2a2a" stroke-width="0.12" text-anchor="middle">110</text>
<text x="344.89" y="190.23" font-size="6.2" fill="#2a2a2a" stroke="#2a2a2a" stroke-width="0.12" text-anchor="middle">44</text>
<text x="364.28" y="190.23" font-size="6.2" fill="#2a2a2a" stroke="#2a2a2a" stroke-width="0.12" text-anchor="middle">37</text>
<text x="383.67" y="190.23" font-size="6.2" fill="#2a2a2a" stroke="#2a2a2a" stroke-width="0.12" text-anchor="middle">27</text>
<text x="403.06" y="190.23" font-size="6.2" fill="#2a2a2a" stroke="#2a2a2a" stroke-width="0.12" text-anchor="middle">19</text>
<text x="422.45" y="190.23" font-size="6.2" fill="#2a2a2a" stroke="#2a2a2a" stroke-width="0.12" text-anchor="middle">13</text>
<text x="441.84" y="190.23" font-size="6.2" fill="#2a2a2a" stroke="#2a2a2a" stroke-width="0.12" text-anchor="middle">13</text>
<text x="461.23" y="190.23" font-size="6.2" fill="#2a2a2a" stroke="#2a2a2a" stroke-width="0.12" text-anchor="middle">13</text>
<text x="480.62" y="190.23" font-size="6.2" fill="#2a2a2a" stroke="#2a2a2a" stroke-width="0.12" text-anchor="middle">11</text>
<text x="500.01" y="190.23" font-size="6.2" fill="#2a2a2a" stroke="#2a2a2a" stroke-width="0.12" text-anchor="middle">8</text>
<text x="311.30" y="197.37" font-size="5.9" fill="#C6C6A2" stroke="#C6C6A2" stroke-width="0.12" text-anchor="end">Low C3</text>
<line x1="313.60" y1="195.25" x2="316.60" y2="195.25" stroke="#1a1a1a" stroke-width="1"/>
<text x="325.50" y="197.48" font-size="6.2" fill="#2a2a2a" stroke="#2a2a2a" stroke-width="0.12" text-anchor="middle">271</text>
<text x="344.89" y="197.48" font-size="6.2" fill="#2a2a2a" stroke="#2a2a2a" stroke-width="0.12" text-anchor="middle">89</text>
<text x="364.28" y="197.48" font-size="6.2" fill="#2a2a2a" stroke="#2a2a2a" stroke-width="0.12" text-anchor="middle">75</text>
<text x="383.67" y="197.48" font-size="6.2" fill="#2a2a2a" stroke="#2a2a2a" stroke-width="0.12" text-anchor="middle">63</text>
<text x="403.06" y="197.48" font-size="6.2" fill="#2a2a2a" stroke="#2a2a2a" stroke-width="0.12" text-anchor="middle">52</text>
<text x="422.45" y="197.48" font-size="6.2" fill="#2a2a2a" stroke="#2a2a2a" stroke-width="0.12" text-anchor="middle">45</text>
<text x="441.84" y="197.48" font-size="6.2" fill="#2a2a2a" stroke="#2a2a2a" stroke-width="0.12" text-anchor="middle">38</text>
<text x="461.23" y="197.48" font-size="6.2" fill="#2a2a2a" stroke="#2a2a2a" stroke-width="0.12" text-anchor="middle">37</text>
<text x="480.62" y="197.48" font-size="6.2" fill="#2a2a2a" stroke="#2a2a2a" stroke-width="0.12" text-anchor="middle">36</text>
<text x="500.01" y="197.48" font-size="6.2" fill="#2a2a2a" stroke="#2a2a2a" stroke-width="0.12" text-anchor="middle">31</text>
<line x1="325.50" y1="199.50" x2="325.50" y2="202.70" stroke="#1a1a1a" stroke-width="1"/>
<text x="325.50" y="211.13" font-size="6.2" fill="#2a2a2a" stroke="#2a2a2a" stroke-width="0.12" text-anchor="middle">0</text>
<line x1="344.89" y1="199.50" x2="344.89" y2="202.70" stroke="#1a1a1a" stroke-width="1"/>
<text x="344.89" y="211.13" font-size="6.2" fill="#2a2a2a" stroke="#2a2a2a" stroke-width="0.12" text-anchor="middle">200</text>
<line x1="364.28" y1="199.50" x2="364.28" y2="202.70" stroke="#1a1a1a" stroke-width="1"/>
<text x="364.28" y="211.13" font-size="6.2" fill="#2a2a2a" stroke="#2a2a2a" stroke-width="0.12" text-anchor="middle">400</text>
<line x1="383.67" y1="199.50" x2="383.67" y2="202.70" stroke="#1a1a1a" stroke-width="1"/>
<text x="383.67" y="211.13" font-size="6.2" fill="#2a2a2a" stroke="#2a2a2a" stroke-width="0.12" text-anchor="middle">600</text>
<line x1="403.06" y1="199.50" x2="403.06" y2="202.70" stroke="#1a1a1a" stroke-width="1"/>
<text x="403.06" y="211.13" font-size="6.2" fill="#2a2a2a" stroke="#2a2a2a" stroke-width="0.12" text-anchor="middle">800</text>
<line x1="422.45" y1="199.50" x2="422.45" y2="202.70" stroke="#1a1a1a" stroke-width="1"/>
<text x="422.45" y="211.13" font-size="6.2" fill="#2a2a2a" stroke="#2a2a2a" stroke-width="0.12" text-anchor="middle">1000</text>
<line x1="441.84" y1="199.50" x2="441.84" y2="202.70" stroke="#1a1a1a" stroke-width="1"/>
<text x="441.84" y="211.13" font-size="6.2" fill="#2a2a2a" stroke="#2a2a2a" stroke-width="0.12" text-anchor="middle">1200</text>
<line x1="461.23" y1="199.50" x2="461.23" y2="202.70" stroke="#1a1a1a" stroke-width="1"/>
<text x="461.23" y="211.13" font-size="6.2" fill="#2a2a2a" stroke="#2a2a2a" stroke-width="0.12" text-anchor="middle">1400</text>
<line x1="480.62" y1="199.50" x2="480.62" y2="202.70" stroke="#1a1a1a" stroke-width="1"/>
<text x="480.62" y="211.13" font-size="6.2" fill="#2a2a2a" stroke="#2a2a2a" stroke-width="0.12" text-anchor="middle">1600</text>
<line x1="500.01" y1="199.50" x2="500.01" y2="202.70" stroke="#1a1a1a" stroke-width="1"/>
<text x="500.01" y="211.13" font-size="6.2" fill="#2a2a2a" stroke="#2a2a2a" stroke-width="0.12" text-anchor="middle">1800</text>
<text x="414.20" y="221.09" font-size="7.2" fill="#2a2a2a" stroke="#2a2a2a" stroke-width="0.3" text-anchor="middle" textLength="29" lengthAdjust="spacingAndGlyphs">Time (days)</text>
<text transform="translate(281.00,192.50) rotate(-90)" x="0" y="2.59" font-size="7.2" fill="#2a2a2a" stroke="#2a2a2a" stroke-width="0.3" text-anchor="middle" textLength="14" lengthAdjust="spacingAndGlyphs">Group</text>
<text x="6.50" y="258.56" font-size="11" fill="#111" font-weight="bold">C</text>
<line x1="45.00" y1="259.10" x2="45.00" y2="339.50" stroke="#1a1a1a" stroke-width="1.5"/>
<line x1="44.25" y1="338.80" x2="96.00" y2="338.80" stroke="#1a1a1a" stroke-width="1.4"/>
<line x1="41.80" y1="338.80" x2="45.00" y2="338.80" stroke="#1a1a1a" stroke-width="0.9"/>
<text x="38.90" y="340.57" font-size="6.3" fill="#2a2a2a" stroke="#2a2a2a" stroke-width="0.12" text-anchor="end">0</text>
<line x1="41.80" y1="323.42" x2="45.00" y2="323.42" stroke="#1a1a1a" stroke-width="0.9"/>
<text x="38.90" y="325.19" font-size="6.3" fill="#2a2a2a" stroke="#2a2a2a" stroke-width="0.12" text-anchor="end">20</text>
<line x1="41.80" y1="308.04" x2="45.00" y2="308.04" stroke="#1a1a1a" stroke-width="0.9"/>
<text x="38.90" y="309.81" font-size="6.3" fill="#2a2a2a" stroke="#2a2a2a" stroke-width="0.12" text-anchor="end">40</text>
<line x1="41.80" y1="292.66" x2="45.00" y2="292.66" stroke="#1a1a1a" stroke-width="0.9"/>
<text x="38.90" y="294.43" font-size="6.3" fill="#2a2a2a" stroke="#2a2a2a" stroke-width="0.12" text-anchor="end">60</text>
<line x1="41.80" y1="277.28" x2="45.00" y2="277.28" stroke="#1a1a1a" stroke-width="0.9"/>
<text x="38.90" y="279.05" font-size="6.3" fill="#2a2a2a" stroke="#2a2a2a" stroke-width="0.12" text-anchor="end">80</text>
<line x1="41.80" y1="261.90" x2="45.00" y2="261.90" stroke="#1a1a1a" stroke-width="0.9"/>
<text x="38.90" y="263.67" font-size="6.3" fill="#2a2a2a" stroke="#2a2a2a" stroke-width="0.12" text-anchor="end">100</text>
<rect x="51.90" y="261.90" width="15.00" height="56.14" fill="#6B3D0C"/>
<rect x="51.90" y="318.04" width="15.00" height="20.76" fill="#8E80C4"/>
<line x1="59.40" y1="338.80" x2="59.40" y2="341.30" stroke="#1a1a1a" stroke-width="1"/>
<rect x="74.40" y="261.90" width="14.50" height="42.68" fill="#6B3D0C"/>
<rect x="74.40" y="304.58" width="14.50" height="34.22" fill="#8E80C4"/>
<line x1="81.65" y1="338.80" x2="81.65" y2="341.30" stroke="#1a1a1a" stroke-width="1"/>
<line x1="59.30" y1="256.20" x2="81.60" y2="256.20" stroke="#333" stroke-width="0.8"/>
<line x1="59.30" y1="255.80" x2="59.30" y2="258.80" stroke="#333" stroke-width="0.8"/>
<line x1="81.60" y1="255.80" x2="81.60" y2="258.80" stroke="#333" stroke-width="0.8"/>
<text x="71.00" y="255.86" font-size="6" fill="#2a2a2a" stroke="#2a2a2a" stroke-width="0.12" text-anchor="middle">**</text>
<text transform="translate(20.30,299.25) rotate(-90)" x="0" y="2.45" font-size="6.8" fill="#2a2a2a" stroke="#2a2a2a" stroke-width="0.3" text-anchor="middle" textLength="55.4" lengthAdjust="spacingAndGlyphs">For 8-week death (%)</text>
<text transform="translate(55.80,346.55) rotate(-31)" x="0" y="2.16" font-size="6.0" fill="#2a2a2a" stroke="#2a2a2a" stroke-width="0.12" text-anchor="end">High C3</text>
<text transform="translate(83.40,346.55) rotate(-31)" x="0" y="2.16" font-size="6.0" fill="#2a2a2a" stroke="#2a2a2a" stroke-width="0.12" text-anchor="end">Low C3</text>
<rect x="36.20" y="364.50" width="5.00" height="2.60" fill="#6B3D0C"/>
<text x="45.00" y="368.33" font-size="6.2" fill="#2a2a2a" stroke="#2a2a2a" stroke-width="0.12" textLength="19.2" lengthAdjust="spacingAndGlyphs">Survival</text>
<rect x="70.20" y="364.50" width="5.00" height="2.60" fill="#8E80C4"/>
<text x="78.80" y="368.33" font-size="6.2" fill="#2a2a2a" stroke="#2a2a2a" stroke-width="0.12" textLength="14.7" lengthAdjust="spacingAndGlyphs">Death</text>
<line x1="45.00" y1="380.80" x2="45.00" y2="460.60" stroke="#1a1a1a" stroke-width="1.5"/>
<line x1="44.25" y1="459.90" x2="96.00" y2="459.90" stroke="#1a1a1a" stroke-width="1.4"/>
<line x1="41.80" y1="459.90" x2="45.00" y2="459.90" stroke="#1a1a1a" stroke-width="0.9"/>
<text x="38.90" y="461.67" font-size="6.3" fill="#2a2a2a" stroke="#2a2a2a" stroke-width="0.12" text-anchor="end">0</text>
<line x1="41.80" y1="444.64" x2="45.00" y2="444.64" stroke="#1a1a1a" stroke-width="0.9"/>
<text x="38.90" y="446.41" font-size="6.3" fill="#2a2a2a" stroke="#2a2a2a" stroke-width="0.12" text-anchor="end">20</text>
<line x1="41.80" y1="429.38" x2="45.00" y2="429.38" stroke="#1a1a1a" stroke-width="0.9"/>
<text x="38.90" y="431.15" font-size="6.3" fill="#2a2a2a" stroke="#2a2a2a" stroke-width="0.12" text-anchor="end">40</text>
<line x1="41.80" y1="414.12" x2="45.00" y2="414.12" stroke="#1a1a1a" stroke-width="0.9"/>
<text x="38.90" y="415.89" font-size="6.3" fill="#2a2a2a" stroke="#2a2a2a" stroke-width="0.12" text-anchor="end">60</text>
<line x1="41.80" y1="398.86" x2="45.00" y2="398.86" stroke="#1a1a1a" stroke-width="0.9"/>
<text x="38.90" y="400.63" font-size="6.3" fill="#2a2a2a" stroke="#2a2a2a" stroke-width="0.12" text-anchor="end">80</text>
<line x1="41.80" y1="383.60" x2="45.00" y2="383.60" stroke="#1a1a1a" stroke-width="0.9"/>
<text x="38.90" y="385.37" font-size="6.3" fill="#2a2a2a" stroke="#2a2a2a" stroke-width="0.12" text-anchor="end">100</text>
<rect x="51.90" y="383.60" width="15.00" height="49.59" fill="#6B3D0C"/>
<rect x="51.90" y="433.19" width="15.00" height="26.70" fill="#8E80C4"/>
<line x1="59.40" y1="459.90" x2="59.40" y2="462.40" stroke="#1a1a1a" stroke-width="1"/>
<rect x="74.40" y="383.60" width="14.50" height="34.64" fill="#6B3D0C"/>
<rect x="74.40" y="418.24" width="14.50" height="41.66" fill="#8E80C4"/>
<line x1="81.65" y1="459.90" x2="81.65" y2="462.40" stroke="#1a1a1a" stroke-width="1"/>
<line x1="59.30" y1="377.90" x2="81.60" y2="377.90" stroke="#333" stroke-width="0.8"/>
<line x1="59.30" y1="377.50" x2="59.30" y2="380.50" stroke="#333" stroke-width="0.8"/>
<line x1="81.60" y1="377.50" x2="81.60" y2="380.50" stroke="#333" stroke-width="0.8"/>
<text x="71.00" y="377.56" font-size="6" fill="#2a2a2a" stroke="#2a2a2a" stroke-width="0.12" text-anchor="middle">***</text>
<text transform="translate(20.30,420.65) rotate(-90)" x="0" y="2.45" font-size="6.8" fill="#2a2a2a" stroke="#2a2a2a" stroke-width="0.3" text-anchor="middle" textLength="52.8" lengthAdjust="spacingAndGlyphs">For 1-year death (%)</text>
<text transform="translate(61.30,467.65) rotate(-31)" x="0" y="2.16" font-size="6.0" fill="#2a2a2a" stroke="#2a2a2a" stroke-width="0.12" text-anchor="end">High C3</text>
<text transform="translate(83.40,467.65) rotate(-31)" x="0" y="2.16" font-size="6.0" fill="#2a2a2a" stroke="#2a2a2a" stroke-width="0.12" text-anchor="end">Low C3</text>
<rect x="36.20" y="485.70" width="5.00" height="2.60" fill="#6B3D0C"/>
<text x="45.00" y="489.53" font-size="6.2" fill="#2a2a2a" stroke="#2a2a2a" stroke-width="0.12" textLength="19.2" lengthAdjust="spacingAndGlyphs">Survival</text>
<rect x="70.20" y="485.70" width="5.00" height="2.60" fill="#8E80C4"/>
<text x="78.80" y="489.53" font-size="6.2" fill="#2a2a2a" stroke="#2a2a2a" stroke-width="0.12" textLength="14.7" lengthAdjust="spacingAndGlyphs">Death</text>
<line x1="45.00" y1="501.70" x2="45.00" y2="582.10" stroke="#1a1a1a" stroke-width="1.5"/>
<line x1="44.25" y1="581.40" x2="96.00" y2="581.40" stroke="#1a1a1a" stroke-width="1.4"/>
<line x1="41.80" y1="581.40" x2="45.00" y2="581.40" stroke="#1a1a1a" stroke-width="0.9"/>
<text x="38.90" y="583.17" font-size="6.3" fill="#2a2a2a" stroke="#2a2a2a" stroke-width="0.12" text-anchor="end">0</text>
<line x1="41.80" y1="566.02" x2="45.00" y2="566.02" stroke="#1a1a1a" stroke-width="0.9"/>
<text x="38.90" y="567.79" font-size="6.3" fill="#2a2a2a" stroke="#2a2a2a" stroke-width="0.12" text-anchor="end">20</text>
<line x1="41.80" y1="550.64" x2="45.00" y2="550.64" stroke="#1a1a1a" stroke-width="0.9"/>
<text x="38.90" y="552.41" font-size="6.3" fill="#2a2a2a" stroke="#2a2a2a" stroke-width="0.12" text-anchor="end">40</text>
<line x1="41.80" y1="535.26" x2="45.00" y2="535.26" stroke="#1a1a1a" stroke-width="0.9"/>
<text x="38.90" y="537.03" font-size="6.3" fill="#2a2a2a" stroke="#2a2a2a" stroke-width="0.12" text-anchor="end">60</text>
<line x1="41.80" y1="519.88" x2="45.00" y2="519.88" stroke="#1a1a1a" stroke-width="0.9"/>
<text x="38.90" y="521.65" font-size="6.3" fill="#2a2a2a" stroke="#2a2a2a" stroke-width="0.12" text-anchor="end">80</text>
<line x1="41.80" y1="504.50" x2="45.00" y2="504.50" stroke="#1a1a1a" stroke-width="0.9"/>
<text x="38.90" y="506.27" font-size="6.3" fill="#2a2a2a" stroke="#2a2a2a" stroke-width="0.12" text-anchor="end">100</text>
<rect x="51.90" y="504.50" width="15.00" height="49.45" fill="#6B3D0C"/>
<rect x="51.90" y="553.95" width="15.00" height="27.45" fill="#8E80C4"/>
<line x1="59.40" y1="581.40" x2="59.40" y2="583.90" stroke="#1a1a1a" stroke-width="1"/>
<rect x="74.40" y="504.50" width="14.50" height="32.61" fill="#6B3D0C"/>
<rect x="74.40" y="537.11" width="14.50" height="44.29" fill="#8E80C4"/>
<line x1="81.65" y1="581.40" x2="81.65" y2="583.90" stroke="#1a1a1a" stroke-width="1"/>
<line x1="59.30" y1="498.80" x2="81.60" y2="498.80" stroke="#333" stroke-width="0.8"/>
<line x1="59.30" y1="498.40" x2="59.30" y2="501.40" stroke="#333" stroke-width="0.8"/>
<line x1="81.60" y1="498.40" x2="81.60" y2="501.40" stroke="#333" stroke-width="0.8"/>
<text x="71.00" y="498.46" font-size="6" fill="#2a2a2a" stroke="#2a2a2a" stroke-width="0.12" text-anchor="middle">***</text>
<text transform="translate(20.30,541.85) rotate(-90)" x="0" y="2.45" font-size="6.8" fill="#2a2a2a" stroke="#2a2a2a" stroke-width="0.3" text-anchor="middle" textLength="43.8" lengthAdjust="spacingAndGlyphs">Overall death (%)</text>
<text transform="translate(61.10,589.15) rotate(-31)" x="0" y="2.16" font-size="6.0" fill="#2a2a2a" stroke="#2a2a2a" stroke-width="0.12" text-anchor="end">High C3</text>
<text transform="translate(83.40,589.15) rotate(-31)" x="0" y="2.16" font-size="6.0" fill="#2a2a2a" stroke="#2a2a2a" stroke-width="0.12" text-anchor="end">Low C3</text>
<rect x="36.20" y="607.50" width="5.00" height="2.60" fill="#6B3D0C"/>
<text x="45.00" y="611.33" font-size="6.2" fill="#2a2a2a" stroke="#2a2a2a" stroke-width="0.12" textLength="19.2" lengthAdjust="spacingAndGlyphs">Survival</text>
<rect x="70.20" y="607.50" width="5.00" height="2.60" fill="#8E80C4"/>
<text x="78.80" y="611.33" font-size="6.2" fill="#2a2a2a" stroke="#2a2a2a" stroke-width="0.12" textLength="14.7" lengthAdjust="spacingAndGlyphs">Death</text>
<text x="140.60" y="258.56" font-size="11" fill="#111" font-weight="bold">D</text>
<text x="226.50" y="271.78" font-size="6.6" fill="#222" text-anchor="middle" font-weight="bold" textLength="32.5" lengthAdjust="spacingAndGlyphs">univariable</text>
<text x="304.20" y="271.88" font-size="6.6" fill="#222" text-anchor="middle" font-weight="bold" textLength="38.5" lengthAdjust="spacingAndGlyphs">multivariable</text>
<text x="278.30" y="262.16" font-size="6" fill="#444" stroke="#444" stroke-width="0.12" textLength="14.2" lengthAdjust="spacingAndGlyphs">mode</text>
<line x1="295.20" y1="260.00" x2="300.80" y2="260.00" stroke="#444" stroke-width="0.8"/>
<circle cx="298.00" cy="260.00" r="0.8" fill="#333"/>
<text x="303.50" y="262.16" font-size="6" fill="#444" stroke="#444" stroke-width="0.12" textLength="32" lengthAdjust="spacingAndGlyphs">multivariable</text>
<line x1="338.20" y1="260.00" x2="344.40" y2="260.00" stroke="#E2BE48" stroke-width="0.9"/>
<text x="347.20" y="262.16" font-size="6" fill="#444" stroke="#444" stroke-width="0.12" textLength="27.8" lengthAdjust="spacingAndGlyphs">univariable</text>
<text x="163.80" y="284.04" font-size="5.4" fill="#555" stroke="#555" stroke-width="0.12" text-anchor="middle" textLength="9.5" lengthAdjust="spacingAndGlyphs">Age</text>
<text x="197.80" y="283.95" font-size="5.15" fill="#555" stroke="#555" stroke-width="0.12" textLength="58.3" lengthAdjust="spacingAndGlyphs">1.02 (1.02–1.03, <tspan font-style="italic">P</tspan> &lt; .001)</text>
<text x="275.00" y="283.95" font-size="5.15" fill="#555" stroke="#555" stroke-width="0.12" textLength="58.7" lengthAdjust="spacingAndGlyphs">1.02 (1.01–1.03, <tspan font-style="italic">P</tspan> = .004)</text>
<text x="163.80" y="294.87" font-size="5.4" fill="#555" stroke="#555" stroke-width="0.12" text-anchor="middle" textLength="31.5" lengthAdjust="spacingAndGlyphs">Gender (male)</text>
<text x="197.80" y="294.78" font-size="5.15" fill="#555" stroke="#555" stroke-width="0.12" textLength="58.3" lengthAdjust="spacingAndGlyphs">1.38 (1.00–1.90, <tspan font-style="italic">P</tspan> = .050)</text>
<text x="275.00" y="294.78" font-size="5.15" fill="#555" stroke="#555" stroke-width="0.12" textLength="58.7" lengthAdjust="spacingAndGlyphs">1.08 (0.77–1.51, <tspan font-style="italic">P</tspan> = .658)</text>
<text x="163.80" y="305.70" font-size="5.4" fill="#1a1a1a" text-anchor="middle" font-weight="bold" textLength="12.2" lengthAdjust="spacingAndGlyphs">RHD</text>
<text x="197.80" y="305.61" font-size="5.15" fill="#1a1a1a" font-weight="bold" textLength="58.3" lengthAdjust="spacingAndGlyphs">0.44 (0.26–0.75, <tspan font-style="italic">P</tspan> = .002)</text>
<text x="275.00" y="305.61" font-size="5.15" fill="#1a1a1a" font-weight="bold" textLength="58.7" lengthAdjust="spacingAndGlyphs">0.53 (0.30–0.93, <tspan font-style="italic">P</tspan> = .026)</text>
<text x="163.80" y="316.53" font-size="5.4" fill="#1a1a1a" text-anchor="middle" font-weight="bold" textLength="30.8" lengthAdjust="spacingAndGlyphs">C3&lt;0.764 g/L</text>
<text x="197.80" y="316.44" font-size="5.15" fill="#1a1a1a" font-weight="bold" textLength="58.3" lengthAdjust="spacingAndGlyphs">1.75 (1.17–2.61, <tspan font-style="italic">P</tspan> = .006)</text>
<text x="275.00" y="316.44" font-size="5.15" fill="#1a1a1a" font-weight="bold" textLength="58.7" lengthAdjust="spacingAndGlyphs">1.64 (1.08–2.48, <tspan font-style="italic">P</tspan> = .019)</text>
<text x="163.80" y="327.36" font-size="5.4" fill="#1a1a1a" text-anchor="middle" font-weight="bold" textLength="28.7" lengthAdjust="spacingAndGlyphs">PCT&gt;2 ug/L</text>
<text x="197.80" y="327.27" font-size="5.15" fill="#1a1a1a" font-weight="bold" textLength="58.3" lengthAdjust="spacingAndGlyphs">1.61 (1.13–2.28, <tspan font-style="italic">P</tspan> = .008)</text>
<text x="275.00" y="327.27" font-size="5.15" fill="#1a1a1a" font-weight="bold" textLength="58.7" lengthAdjust="spacingAndGlyphs">1.49 (1.04–2.14, <tspan font-style="italic">P</tspan> = .032)</text>
<text x="163.80" y="338.19" font-size="5.4" fill="#555" stroke="#555" stroke-width="0.12" text-anchor="middle" textLength="6" lengthAdjust="spacingAndGlyphs">Cr</text>
<text x="197.80" y="338.10" font-size="5.15" fill="#555" stroke="#555" stroke-width="0.12" textLength="58.3" lengthAdjust="spacingAndGlyphs">1.00 (1.00–1.00, <tspan font-style="italic">P</tspan> = .010)</text>
<text x="275.00" y="338.10" font-size="5.15" fill="#555" stroke="#555" stroke-width="0.12" textLength="58.7" lengthAdjust="spacingAndGlyphs">1.00 (1.00–1.00, <tspan font-style="italic">P</tspan> = .551)</text>
<text x="163.80" y="349.02" font-size="5.4" fill="#555" stroke="#555" stroke-width="0.12" text-anchor="middle" textLength="10.7" lengthAdjust="spacingAndGlyphs">BUN</text>
<text x="197.80" y="348.93" font-size="5.15" fill="#555" stroke="#555" stroke-width="0.12" textLength="58.3" lengthAdjust="spacingAndGlyphs">1.04 (1.02–1.05, <tspan font-style="italic">P</tspan> &lt; .001)</text>
<text x="275.00" y="348.93" font-size="5.15" fill="#555" stroke="#555" stroke-width="0.12" textLength="58.7" lengthAdjust="spacingAndGlyphs">1.03 (1.00–1.03, <tspan font-style="italic">P</tspan> = .077)</text>
<text x="163.80" y="359.85" font-size="5.4" fill="#555" stroke="#555" stroke-width="0.12" text-anchor="middle" textLength="7.7" lengthAdjust="spacingAndGlyphs">Tbil</text>
<text x="197.80" y="359.76" font-size="5.15" fill="#555" stroke="#555" stroke-width="0.12" textLength="58.3" lengthAdjust="spacingAndGlyphs">1.00 (1.00–1.01, <tspan font-style="italic">P</tspan> &lt; .001)</text>
<text x="275.00" y="359.76" font-size="5.15" fill="#555" stroke="#555" stroke-width="0.12" textLength="58.7" lengthAdjust="spacingAndGlyphs">1.00 (1.00–1.01, <tspan font-style="italic">P</tspan> = .001)</text>
<text x="163.80" y="370.68" font-size="5.4" fill="#555" stroke="#555" stroke-width="0.12" text-anchor="middle" textLength="9.2" lengthAdjust="spacingAndGlyphs">AST</text>
<text x="197.80" y="370.59" font-size="5.15" fill="#555" stroke="#555" stroke-width="0.12" textLength="58.3" lengthAdjust="spacingAndGlyphs">1.00 (1.00–1.00, <tspan font-style="italic">P</tspan> = .018)</text>
<text x="275.00" y="370.59" font-size="5.15" fill="#555" stroke="#555" stroke-width="0.12" textLength="58.7" lengthAdjust="spacingAndGlyphs">1.00 (1.00–1.00, <tspan font-style="italic">P</tspan> = .236)</text>
<text x="163.80" y="381.51" font-size="5.4" fill="#555" stroke="#555" stroke-width="0.12" text-anchor="middle" textLength="31.7" lengthAdjust="spacingAndGlyphs">Total T cell (%)</text>
<text x="197.80" y="381.42" font-size="5.15" fill="#555" stroke="#555" stroke-width="0.12" textLength="58.3" lengthAdjust="spacingAndGlyphs">0.98 (0.97–0.99, <tspan font-style="italic">P</tspan> &lt; .001)</text>
<text x="275.00" y="381.42" font-size="5.15" fill="#555" stroke="#555" stroke-width="0.12" textLength="58.7" lengthAdjust="spacingAndGlyphs">0.99 (0.98–1.00, <tspan font-style="italic">P</tspan> = .097)</text>
<line x1="355.90" y1="274.50" x2="355.90" y2="388.30" stroke="#1a1a1a" stroke-width="1.4"/>
<line x1="355.20" y1="387.60" x2="513.50" y2="387.60" stroke="#1a1a1a" stroke-width="1.4"/>
<line x1="352.90" y1="282.10" x2="355.90" y2="282.10" stroke="#1a1a1a" stroke-width="0.9"/>
<line x1="352.90" y1="292.93" x2="355.90" y2="292.93" stroke="#1a1a1a" stroke-width="0.9"/>
<line x1="352.90" y1="303.76" x2="355.90" y2="303.76" stroke="#1a1a1a" stroke-width="0.9"/>
<line x1="352.90" y1="314.59" x2="355.90" y2="314.59" stroke="#1a1a1a" stroke-width="0.9"/>
<line x1="352.90" y1="325.42" x2="355.90" y2="325.42" stroke="#1a1a1a" stroke-width="0.9"/>
<line x1="352.90" y1="336.25" x2="355.90" y2="336.25" stroke="#1a1a1a" stroke-width="0.9"/>
<line x1="352.90" y1="347.08" x2="355.90" y2="347.08" stroke="#1a1a1a" stroke-width="0.9"/>
<line x1="352.90" y1="357.91" x2="355.90" y2="357.91" stroke="#1a1a1a" stroke-width="0.9"/>
<line x1="352.90" y1="368.74" x2="355.90" y2="368.74" stroke="#1a1a1a" stroke-width="0.9"/>
<line x1="352.90" y1="379.57" x2="355.90" y2="379.57" stroke="#1a1a1a" stroke-width="0.9"/>
<line x1="408.20" y1="387.60" x2="408.20" y2="390.60" stroke="#1a1a1a" stroke-width="0.9"/>
<text x="408.20" y="399.23" font-size="6.2" fill="#2a2a2a" stroke="#2a2a2a" stroke-width="0.12" text-anchor="middle">1</text>
<line x1="469.30" y1="387.60" x2="469.30" y2="390.60" stroke="#1a1a1a" stroke-width="0.9"/>
<text x="469.30" y="399.23" font-size="6.2" fill="#2a2a2a" stroke="#2a2a2a" stroke-width="0.12" text-anchor="middle">2</text>
<text x="435.20" y="409.39" font-size="7.2" fill="#2a2a2a" stroke="#2a2a2a" stroke-width="0.3" text-anchor="middle" textLength="54" lengthAdjust="spacingAndGlyphs">Hazard ratio (95% CI)</text>
<line x1="408.20" y1="274.00" x2="408.20" y2="387.00" stroke="#F0BE50" stroke-width="0.7" stroke-dasharray="2,2"/>
<line x1="409.42" y1="280.40" x2="410.04" y2="280.40" stroke="#8a8a8a" stroke-width="0.8"/>
<line x1="408.81" y1="283.70" x2="410.04" y2="283.70" stroke="#555" stroke-width="0.8"/>
<circle cx="409.42" cy="280.40" r="0.65" fill="#F2BC50"/>
<circle cx="409.42" cy="283.70" r="0.85" fill="#4a2626"/>
<line x1="408.20" y1="291.23" x2="463.20" y2="291.23" stroke="#8a8a8a" stroke-width="0.8"/>
<line x1="394.15" y1="294.53" x2="439.37" y2="294.53" stroke="#555" stroke-width="0.8"/>
<circle cx="431.42" cy="291.23" r="0.65" fill="#F2BC50"/>
<circle cx="413.09" cy="294.53" r="0.85" fill="#4a2626"/>
<line x1="362.99" y1="302.06" x2="392.94" y2="302.06" stroke="#8a8a8a" stroke-width="0.8"/>
<line x1="365.43" y1="305.36" x2="403.93" y2="305.36" stroke="#555" stroke-width="0.8"/>
<circle cx="373.98" cy="302.06" r="0.65" fill="#F2BC50"/>
<circle cx="379.48" cy="305.36" r="0.85" fill="#4a2626"/>
<line x1="418.59" y1="312.89" x2="506.58" y2="312.89" stroke="#8a8a8a" stroke-width="0.8"/>
<line x1="413.09" y1="316.19" x2="498.64" y2="316.19" stroke="#555" stroke-width="0.8"/>
<circle cx="454.02" cy="312.89" r="0.65" fill="#F2BC50"/>
<circle cx="447.30" cy="316.19" r="0.85" fill="#4a2626"/>
<line x1="416.14" y1="323.72" x2="486.42" y2="323.72" stroke="#8a8a8a" stroke-width="0.8"/>
<line x1="410.64" y1="327.02" x2="477.86" y2="327.02" stroke="#555" stroke-width="0.8"/>
<circle cx="445.47" cy="323.72" r="0.65" fill="#F2BC50"/>
<circle cx="438.14" cy="327.02" r="0.85" fill="#4a2626"/>
<line x1="408.20" y1="334.55" x2="408.21" y2="334.55" stroke="#8a8a8a" stroke-width="0.8"/>
<line x1="408.20" y1="337.85" x2="408.21" y2="337.85" stroke="#555" stroke-width="0.8"/>
<circle cx="408.20" cy="334.55" r="0.65" fill="#F2BC50"/>
<circle cx="408.20" cy="337.85" r="0.85" fill="#4a2626"/>
<line x1="409.42" y1="345.38" x2="411.26" y2="345.38" stroke="#8a8a8a" stroke-width="0.8"/>
<line x1="408.20" y1="348.68" x2="410.04" y2="348.68" stroke="#555" stroke-width="0.8"/>
<circle cx="410.64" cy="345.38" r="0.65" fill="#F2BC50"/>
<circle cx="410.03" cy="348.68" r="0.85" fill="#4a2626"/>
<line x1="408.20" y1="356.21" x2="408.82" y2="356.21" stroke="#8a8a8a" stroke-width="0.8"/>
<line x1="408.20" y1="359.51" x2="408.82" y2="359.51" stroke="#555" stroke-width="0.8"/>
<circle cx="408.20" cy="356.21" r="0.65" fill="#F2BC50"/>
<circle cx="408.20" cy="359.51" r="0.85" fill="#4a2626"/>
<line x1="408.20" y1="367.04" x2="408.21" y2="367.04" stroke="#8a8a8a" stroke-width="0.8"/>
<line x1="408.20" y1="370.34" x2="408.21" y2="370.34" stroke="#555" stroke-width="0.8"/>
<circle cx="408.20" cy="367.04" r="0.65" fill="#F2BC50"/>
<circle cx="408.20" cy="370.34" r="0.85" fill="#4a2626"/>
<line x1="406.37" y1="377.87" x2="407.60" y2="377.87" stroke="#8a8a8a" stroke-width="0.8"/>
<line x1="406.98" y1="381.17" x2="408.21" y2="381.17" stroke="#555" stroke-width="0.8"/>
<circle cx="406.98" cy="377.87" r="0.65" fill="#F2BC50"/>
<circle cx="407.59" cy="381.17" r="0.85" fill="#4a2626"/>
<text x="140.50" y="424.96" font-size="11" fill="#111" font-weight="bold">E</text>
<line x1="197.50" y1="430.90" x2="197.50" y2="501.00" stroke="#1a1a1a" stroke-width="1.4"/>
<line x1="196.80" y1="500.30" x2="263.80" y2="500.30" stroke="#1a1a1a" stroke-width="1.4"/>
<line x1="194.50" y1="433.40" x2="197.50" y2="433.40" stroke="#1a1a1a" stroke-width="1"/>
<text x="192.20" y="435.60" font-size="6.1" fill="#2a2a2a" stroke="#2a2a2a" stroke-width="0.12" text-anchor="end">1.2</text>
<line x1="194.50" y1="455.70" x2="197.50" y2="455.70" stroke="#1a1a1a" stroke-width="1"/>
<text x="192.20" y="457.90" font-size="6.1" fill="#2a2a2a" stroke="#2a2a2a" stroke-width="0.12" text-anchor="end">0.8</text>
<line x1="194.50" y1="478.00" x2="197.50" y2="478.00" stroke="#1a1a1a" stroke-width="1"/>
<text x="192.20" y="480.20" font-size="6.1" fill="#2a2a2a" stroke="#2a2a2a" stroke-width="0.12" text-anchor="end">0.4</text>
<line x1="194.50" y1="500.30" x2="197.50" y2="500.30" stroke="#1a1a1a" stroke-width="1"/>
<text x="192.20" y="502.50" font-size="6.1" fill="#2a2a2a" stroke="#2a2a2a" stroke-width="0.12" text-anchor="end">0.0</text>
<line x1="216.25" y1="500.30" x2="216.25" y2="502.90" stroke="#1a1a1a" stroke-width="1"/>
<text x="216.25" y="511.26" font-size="6.0" fill="#2a2a2a" stroke="#2a2a2a" stroke-width="0.12" text-anchor="middle">Pre-onset</text>
<line x1="244.20" y1="500.30" x2="244.20" y2="502.90" stroke="#1a1a1a" stroke-width="1"/>
<text x="244.20" y="511.26" font-size="6.0" fill="#2a2a2a" stroke="#2a2a2a" stroke-width="0.12" text-anchor="middle">At onset</text>
<line x1="216.25" y1="469.64" x2="216.25" y2="433.40" stroke="#d2d2d2" stroke-width="1.0"/>
<line x1="215.25" y1="433.40" x2="217.25" y2="433.40" stroke="#d2d2d2" stroke-width="0.6"/>
<line x1="215.25" y1="469.64" x2="217.25" y2="469.64" stroke="#d2d2d2" stroke-width="0.6"/>
<line x1="216.25" y1="451.80" x2="244.20" y2="465.74" stroke="#c6c6c6" stroke-width="1.1"/>
<line x1="244.20" y1="481.35" x2="244.20" y2="451.24" stroke="#46786c" stroke-width="0.8"/>
<line x1="243.20" y1="451.24" x2="245.20" y2="451.24" stroke="#2E6B5A" stroke-width="0.7"/>
<line x1="243.20" y1="481.35" x2="245.20" y2="481.35" stroke="#2E6B5A" stroke-width="0.7"/>
<circle cx="216.25" cy="451.80" r="1.0" fill="#c8c8c8"/>
<circle cx="244.20" cy="465.74" r="1.2" fill="#2E6B5A"/>
<text transform="translate(175.60,465.50) rotate(-90)" x="0" y="2.63" font-size="7.3" fill="#2a2a2a" stroke="#2a2a2a" stroke-width="0.3" text-anchor="middle" textLength="21.9" lengthAdjust="spacingAndGlyphs">C3 (g/L)</text>
<rect x="151.30" y="505.20" width="35.20" height="8.00" fill="#dadada"/>
<text x="168.90" y="511.50" font-size="6.4" fill="#333" stroke="#333" stroke-width="0.05" text-anchor="middle" textLength="30.0" lengthAdjust="spacingAndGlyphs">HLH stages</text>
<line x1="315.20" y1="430.90" x2="315.20" y2="501.00" stroke="#1a1a1a" stroke-width="1.4"/>
<line x1="314.50" y1="500.30" x2="380.80" y2="500.30" stroke="#1a1a1a" stroke-width="1.4"/>
<line x1="312.20" y1="433.40" x2="315.20" y2="433.40" stroke="#1a1a1a" stroke-width="1"/>
<text x="309.90" y="435.60" font-size="6.1" fill="#2a2a2a" stroke="#2a2a2a" stroke-width="0.12" text-anchor="end">1.2</text>
<line x1="312.20" y1="455.70" x2="315.20" y2="455.70" stroke="#1a1a1a" stroke-width="1"/>
<text x="309.90" y="457.90" font-size="6.1" fill="#2a2a2a" stroke="#2a2a2a" stroke-width="0.12" text-anchor="end">0.8</text>
<line x1="312.20" y1="478.00" x2="315.20" y2="478.00" stroke="#1a1a1a" stroke-width="1"/>
<text x="309.90" y="480.20" font-size="6.1" fill="#2a2a2a" stroke="#2a2a2a" stroke-width="0.12" text-anchor="end">0.4</text>
<line x1="312.20" y1="500.30" x2="315.20" y2="500.30" stroke="#1a1a1a" stroke-width="1"/>
<text x="309.90" y="502.50" font-size="6.1" fill="#2a2a2a" stroke="#2a2a2a" stroke-width="0.12" text-anchor="end">0.0</text>
<line x1="333.75" y1="500.30" x2="333.75" y2="502.90" stroke="#1a1a1a" stroke-width="1"/>
<text x="333.75" y="511.26" font-size="6.0" fill="#2a2a2a" stroke="#2a2a2a" stroke-width="0.12" text-anchor="middle">At onset</text>
<line x1="362.00" y1="500.30" x2="362.00" y2="502.90" stroke="#1a1a1a" stroke-width="1"/>
<text x="362.00" y="511.26" font-size="6.0" fill="#2a2a2a" stroke="#2a2a2a" stroke-width="0.12" text-anchor="middle">Post-</text>
<text x="362.00" y="517.56" font-size="6.0" fill="#2a2a2a" stroke="#2a2a2a" stroke-width="0.12" text-anchor="middle">treatment</text>
<line x1="333.75" y1="483.02" x2="333.75" y2="455.14" stroke="#d2d2d2" stroke-width="1.0"/>
<line x1="332.75" y1="455.14" x2="334.75" y2="455.14" stroke="#d2d2d2" stroke-width="0.6"/>
<line x1="332.75" y1="483.02" x2="334.75" y2="483.02" stroke="#d2d2d2" stroke-width="0.6"/>
<line x1="333.75" y1="469.08" x2="362.00" y2="457.37" stroke="#c6c6c6" stroke-width="1.1"/>
<line x1="362.00" y1="471.31" x2="362.00" y2="442.88" stroke="#96b3a8" stroke-width="1.8"/>
<line x1="362.00" y1="471.31" x2="362.00" y2="442.88" stroke="#2E6B5A" stroke-width="0.5"/>
<line x1="361.00" y1="442.88" x2="363.00" y2="442.88" stroke="#2E6B5A" stroke-width="0.7"/>
<line x1="361.00" y1="471.31" x2="363.00" y2="471.31" stroke="#2E6B5A" stroke-width="0.7"/>
<circle cx="333.75" cy="469.08" r="1.0" fill="#c8c8c8"/>
<circle cx="362.00" cy="457.37" r="1.2" fill="#2E6B5A"/>
<text transform="translate(293.60,465.50) rotate(-90)" x="0" y="2.63" font-size="7.3" fill="#2a2a2a" stroke="#2a2a2a" stroke-width="0.3" text-anchor="middle" textLength="21.9" lengthAdjust="spacingAndGlyphs">C3 (g/L)</text>
<text x="349.00" y="427.21" font-size="7.8" fill="#222" stroke="#222" stroke-width="0.12" text-anchor="middle">8-week survival</text>
<line x1="432.50" y1="430.90" x2="432.50" y2="501.00" stroke="#1a1a1a" stroke-width="1.4"/>
<line x1="431.80" y1="500.30" x2="498.00" y2="500.30" stroke="#1a1a1a" stroke-width="1.4"/>
<line x1="429.50" y1="433.40" x2="432.50" y2="433.40" stroke="#1a1a1a" stroke-width="1"/>
<text x="427.20" y="435.60" font-size="6.1" fill="#2a2a2a" stroke="#2a2a2a" stroke-width="0.12" text-anchor="end">1.2</text>
<line x1="429.50" y1="455.70" x2="432.50" y2="455.70" stroke="#1a1a1a" stroke-width="1"/>
<text x="427.20" y="457.90" font-size="6.1" fill="#2a2a2a" stroke="#2a2a2a" stroke-width="0.12" text-anchor="end">0.8</text>
<line x1="429.50" y1="478.00" x2="432.50" y2="478.00" stroke="#1a1a1a" stroke-width="1"/>
<text x="427.20" y="480.20" font-size="6.1" fill="#2a2a2a" stroke="#2a2a2a" stroke-width="0.12" text-anchor="end">0.4</text>
<line x1="429.50" y1="500.30" x2="432.50" y2="500.30" stroke="#1a1a1a" stroke-width="1"/>
<text x="427.20" y="502.50" font-size="6.1" fill="#2a2a2a" stroke="#2a2a2a" stroke-width="0.12" text-anchor="end">0.0</text>
<line x1="451.25" y1="500.30" x2="451.25" y2="502.90" stroke="#1a1a1a" stroke-width="1"/>
<text x="451.25" y="511.26" font-size="6.0" fill="#2a2a2a" stroke="#2a2a2a" stroke-width="0.12" text-anchor="middle">At onset</text>
<line x1="479.50" y1="500.30" x2="479.50" y2="502.90" stroke="#1a1a1a" stroke-width="1"/>
<text x="479.50" y="511.26" font-size="6.0" fill="#2a2a2a" stroke="#2a2a2a" stroke-width="0.12" text-anchor="middle">Post-</text>
<text x="479.50" y="517.56" font-size="6.0" fill="#2a2a2a" stroke="#2a2a2a" stroke-width="0.12" text-anchor="middle">treatment</text>
<line x1="451.25" y1="481.35" x2="451.25" y2="450.12" stroke="#d2d2d2" stroke-width="1.0"/>
<line x1="450.25" y1="450.12" x2="452.25" y2="450.12" stroke="#d2d2d2" stroke-width="0.6"/>
<line x1="450.25" y1="481.35" x2="452.25" y2="481.35" stroke="#d2d2d2" stroke-width="0.6"/>
<line x1="451.25" y1="465.74" x2="479.50" y2="467.96" stroke="#c6c6c6" stroke-width="1.1"/>
<line x1="479.50" y1="478.00" x2="479.50" y2="457.93" stroke="#46786c" stroke-width="0.8"/>
<line x1="478.50" y1="457.93" x2="480.50" y2="457.93" stroke="#2E6B5A" stroke-width="0.7"/>
<line x1="478.50" y1="478.00" x2="480.50" y2="478.00" stroke="#2E6B5A" stroke-width="0.7"/>
<circle cx="451.25" cy="465.74" r="1.0" fill="#c8c8c8"/>
<circle cx="479.50" cy="467.96" r="1.2" fill="#2E6B5A"/>
<text transform="translate(410.80,465.50) rotate(-90)" x="0" y="2.63" font-size="7.3" fill="#2a2a2a" stroke="#2a2a2a" stroke-width="0.3" text-anchor="middle" textLength="21.9" lengthAdjust="spacingAndGlyphs">C3 (g/L)</text>
<text x="466.25" y="427.21" font-size="7.8" fill="#222" stroke="#222" stroke-width="0.12" text-anchor="middle">8-week death</text>
<line x1="197.60" y1="526.80" x2="197.60" y2="596.80" stroke="#1a1a1a" stroke-width="1.4"/>
<line x1="196.90" y1="596.10" x2="263.80" y2="596.10" stroke="#1a1a1a" stroke-width="1.4"/>
<line x1="194.60" y1="529.30" x2="197.60" y2="529.30" stroke="#1a1a1a" stroke-width="1"/>
<text x="192.30" y="531.50" font-size="6.1" fill="#2a2a2a" stroke="#2a2a2a" stroke-width="0.12" text-anchor="end">80</text>
<line x1="194.60" y1="546.00" x2="197.60" y2="546.00" stroke="#1a1a1a" stroke-width="1"/>
<text x="192.30" y="548.20" font-size="6.1" fill="#2a2a2a" stroke="#2a2a2a" stroke-width="0.12" text-anchor="end">40</text>
<line x1="194.60" y1="562.70" x2="197.60" y2="562.70" stroke="#1a1a1a" stroke-width="1"/>
<text x="192.30" y="564.90" font-size="6.1" fill="#2a2a2a" stroke="#2a2a2a" stroke-width="0.12" text-anchor="end">0</text>
<line x1="194.60" y1="579.40" x2="197.60" y2="579.40" stroke="#1a1a1a" stroke-width="1"/>
<text x="192.30" y="581.60" font-size="6.1" fill="#2a2a2a" stroke="#2a2a2a" stroke-width="0.12" text-anchor="end">−40</text>
<line x1="194.60" y1="596.10" x2="197.60" y2="596.10" stroke="#1a1a1a" stroke-width="1"/>
<text x="192.30" y="598.30" font-size="6.1" fill="#2a2a2a" stroke="#2a2a2a" stroke-width="0.12" text-anchor="end">−80</text>
<line x1="197.60" y1="562.70" x2="263.80" y2="562.70" stroke="#333" stroke-width="0.7" stroke-dasharray="1.2,1.2"/>
<line x1="216.25" y1="596.10" x2="216.25" y2="598.70" stroke="#1a1a1a" stroke-width="1"/>
<text x="216.25" y="607.06" font-size="6.0" fill="#2a2a2a" stroke="#2a2a2a" stroke-width="0.12" text-anchor="middle">Pre-onset</text>
<line x1="244.20" y1="596.10" x2="244.20" y2="598.70" stroke="#1a1a1a" stroke-width="1"/>
<text x="244.20" y="607.06" font-size="6.0" fill="#2a2a2a" stroke="#2a2a2a" stroke-width="0.12" text-anchor="middle">At onset</text>
<line x1="216.25" y1="592.76" x2="216.25" y2="562.70" stroke="#d2d2d2" stroke-width="1.0"/>
<line x1="215.25" y1="562.70" x2="217.25" y2="562.70" stroke="#d2d2d2" stroke-width="0.6"/>
<line x1="215.25" y1="592.76" x2="217.25" y2="592.76" stroke="#d2d2d2" stroke-width="0.6"/>
<line x1="216.25" y1="592.76" x2="244.20" y2="560.19" stroke="#c6c6c6" stroke-width="1.1"/>
<line x1="244.20" y1="563.95" x2="244.20" y2="530.13" stroke="#46786c" stroke-width="0.8"/>
<line x1="243.20" y1="530.13" x2="245.20" y2="530.13" stroke="#2E6B5A" stroke-width="0.7"/>
<line x1="243.20" y1="563.95" x2="245.20" y2="563.95" stroke="#2E6B5A" stroke-width="0.7"/>
<circle cx="216.25" cy="592.76" r="1.0" fill="#c8c8c8"/>
<circle cx="244.20" cy="560.19" r="1.2" fill="#2E6B5A"/>
<text transform="translate(173.70,561.40) rotate(-90)" x="0" y="2.84" font-size="7.9" fill="#2a2a2a" stroke="#2a2a2a" stroke-width="0.3" text-anchor="middle" textLength="67.3" lengthAdjust="spacingAndGlyphs">Detection time of C3 (days)</text>
<rect x="151.40" y="601.40" width="35.20" height="8.00" fill="#dadada"/>
<text x="169.00" y="607.70" font-size="6.4" fill="#333" stroke="#333" stroke-width="0.05" text-anchor="middle" textLength="30.0" lengthAdjust="spacingAndGlyphs">HLH stages</text>
<line x1="315.20" y1="526.90" x2="315.20" y2="596.80" stroke="#1a1a1a" stroke-width="1.4"/>
<line x1="314.50" y1="596.10" x2="380.80" y2="596.10" stroke="#1a1a1a" stroke-width="1.4"/>
<line x1="312.20" y1="529.40" x2="315.20" y2="529.40" stroke="#1a1a1a" stroke-width="1"/>
<text x="309.90" y="531.60" font-size="6.1" fill="#2a2a2a" stroke="#2a2a2a" stroke-width="0.12" text-anchor="end">30</text>
<line x1="312.20" y1="546.08" x2="315.20" y2="546.08" stroke="#1a1a1a" stroke-width="1"/>
<text x="309.90" y="548.27" font-size="6.1" fill="#2a2a2a" stroke="#2a2a2a" stroke-width="0.12" text-anchor="end">20</text>
<line x1="312.20" y1="562.75" x2="315.20" y2="562.75" stroke="#1a1a1a" stroke-width="1"/>
<text x="309.90" y="564.95" font-size="6.1" fill="#2a2a2a" stroke="#2a2a2a" stroke-width="0.12" text-anchor="end">10</text>
<line x1="312.20" y1="579.42" x2="315.20" y2="579.42" stroke="#1a1a1a" stroke-width="1"/>
<text x="309.90" y="581.62" font-size="6.1" fill="#2a2a2a" stroke="#2a2a2a" stroke-width="0.12" text-anchor="end">0</text>
<line x1="312.20" y1="596.10" x2="315.20" y2="596.10" stroke="#1a1a1a" stroke-width="1"/>
<text x="309.90" y="598.30" font-size="6.1" fill="#2a2a2a" stroke="#2a2a2a" stroke-width="0.12" text-anchor="end">−10</text>
<line x1="315.20" y1="579.42" x2="380.80" y2="579.42" stroke="#333" stroke-width="0.7" stroke-dasharray="1.2,1.2"/>
<line x1="333.50" y1="596.10" x2="333.50" y2="598.70" stroke="#1a1a1a" stroke-width="1"/>
<text x="333.50" y="607.06" font-size="6.0" fill="#2a2a2a" stroke="#2a2a2a" stroke-width="0.12" text-anchor="middle">At onset</text>
<line x1="362.00" y1="596.10" x2="362.00" y2="598.70" stroke="#1a1a1a" stroke-width="1"/>
<text x="362.00" y="607.06" font-size="6.0" fill="#2a2a2a" stroke="#2a2a2a" stroke-width="0.12" text-anchor="middle">Post-</text>
<text x="362.00" y="613.36" font-size="6.0" fill="#2a2a2a" stroke="#2a2a2a" stroke-width="0.12" text-anchor="middle">treatment</text>
<line x1="333.50" y1="584.43" x2="333.50" y2="549.41" stroke="#d2d2d2" stroke-width="1.0"/>
<line x1="332.50" y1="549.41" x2="334.50" y2="549.41" stroke="#d2d2d2" stroke-width="0.6"/>
<line x1="332.50" y1="584.43" x2="334.50" y2="584.43" stroke="#d2d2d2" stroke-width="0.6"/>
<line x1="333.50" y1="576.09" x2="362.00" y2="535.24" stroke="#c6c6c6" stroke-width="1.1"/>
<line x1="362.00" y1="576.09" x2="362.00" y2="529.40" stroke="#96b3a8" stroke-width="1.8"/>
<line x1="362.00" y1="576.09" x2="362.00" y2="529.40" stroke="#2E6B5A" stroke-width="0.5"/>
<line x1="361.00" y1="529.40" x2="363.00" y2="529.40" stroke="#2E6B5A" stroke-width="0.7"/>
<line x1="361.00" y1="576.09" x2="363.00" y2="576.09" stroke="#2E6B5A" stroke-width="0.7"/>
<circle cx="333.50" cy="576.09" r="1.0" fill="#c8c8c8"/>
<circle cx="362.00" cy="535.24" r="1.2" fill="#2E6B5A"/>
<text transform="translate(291.10,561.40) rotate(-90)" x="0" y="2.84" font-size="7.9" fill="#2a2a2a" stroke="#2a2a2a" stroke-width="0.3" text-anchor="middle" textLength="67.3" lengthAdjust="spacingAndGlyphs">Detection time of C3 (days)</text>
<line x1="432.50" y1="526.90" x2="432.50" y2="596.80" stroke="#1a1a1a" stroke-width="1.4"/>
<line x1="431.80" y1="596.10" x2="498.00" y2="596.10" stroke="#1a1a1a" stroke-width="1.4"/>
<line x1="429.50" y1="529.40" x2="432.50" y2="529.40" stroke="#1a1a1a" stroke-width="1"/>
<text x="427.20" y="531.60" font-size="6.1" fill="#2a2a2a" stroke="#2a2a2a" stroke-width="0.12" text-anchor="end">30</text>
<line x1="429.50" y1="546.08" x2="432.50" y2="546.08" stroke="#1a1a1a" stroke-width="1"/>
<text x="427.20" y="548.27" font-size="6.1" fill="#2a2a2a" stroke="#2a2a2a" stroke-width="0.12" text-anchor="end">20</text>
<line x1="429.50" y1="562.75" x2="432.50" y2="562.75" stroke="#1a1a1a" stroke-width="1"/>
<text x="427.20" y="564.95" font-size="6.1" fill="#2a2a2a" stroke="#2a2a2a" stroke-width="0.12" text-anchor="end">10</text>
<line x1="429.50" y1="579.42" x2="432.50" y2="579.42" stroke="#1a1a1a" stroke-width="1"/>
<text x="427.20" y="581.62" font-size="6.1" fill="#2a2a2a" stroke="#2a2a2a" stroke-width="0.12" text-anchor="end">0</text>
<line x1="429.50" y1="596.10" x2="432.50" y2="596.10" stroke="#1a1a1a" stroke-width="1"/>
<text x="427.20" y="598.30" font-size="6.1" fill="#2a2a2a" stroke="#2a2a2a" stroke-width="0.12" text-anchor="end">−10</text>
<line x1="432.50" y1="579.42" x2="498.00" y2="579.42" stroke="#333" stroke-width="0.7" stroke-dasharray="1.2,1.2"/>
<line x1="451.25" y1="596.10" x2="451.25" y2="598.70" stroke="#1a1a1a" stroke-width="1"/>
<text x="451.25" y="607.06" font-size="6.0" fill="#2a2a2a" stroke="#2a2a2a" stroke-width="0.12" text-anchor="middle">At onset</text>
<line x1="479.50" y1="596.10" x2="479.50" y2="598.70" stroke="#1a1a1a" stroke-width="1"/>
<text x="479.50" y="607.06" font-size="6.0" fill="#2a2a2a" stroke="#2a2a2a" stroke-width="0.12" text-anchor="middle">Post-</text>
<text x="479.50" y="613.36" font-size="6.0" fill="#2a2a2a" stroke="#2a2a2a" stroke-width="0.12" text-anchor="middle">treatment</text>
<line x1="451.25" y1="584.43" x2="451.25" y2="567.75" stroke="#d2d2d2" stroke-width="1.0"/>
<line x1="450.25" y1="567.75" x2="452.25" y2="567.75" stroke="#d2d2d2" stroke-width="0.6"/>
<line x1="450.25" y1="584.43" x2="452.25" y2="584.43" stroke="#d2d2d2" stroke-width="0.6"/>
<line x1="451.25" y1="576.09" x2="479.50" y2="551.08" stroke="#c6c6c6" stroke-width="1.1"/>
<line x1="479.50" y1="571.09" x2="479.50" y2="529.40" stroke="#46786c" stroke-width="0.8"/>
<line x1="478.50" y1="529.40" x2="480.50" y2="529.40" stroke="#2E6B5A" stroke-width="0.7"/>
<line x1="478.50" y1="571.09" x2="480.50" y2="571.09" stroke="#2E6B5A" stroke-width="0.7"/>
<circle cx="451.25" cy="576.09" r="1.0" fill="#c8c8c8"/>
<circle cx="479.50" cy="551.08" r="1.2" fill="#2E6B5A"/>
<text transform="translate(408.40,561.40) rotate(-90)" x="0" y="2.84" font-size="7.9" fill="#2a2a2a" stroke="#2a2a2a" stroke-width="0.3" text-anchor="middle" textLength="67.3" lengthAdjust="spacingAndGlyphs">Detection time of C3 (days)</text>
</g>
<rect x="0" y="0" width="520" height="1.05" fill="#626262"/><rect x="0" y="0" width="1.15" height="621" fill="#6a6a6a"/><rect x="518.85" y="0" width="1.15" height="621" fill="#5e5e5e"/><rect x="0" y="619.6" width="520" height="1.4" fill="#444"/>
</svg>
</body></html>
